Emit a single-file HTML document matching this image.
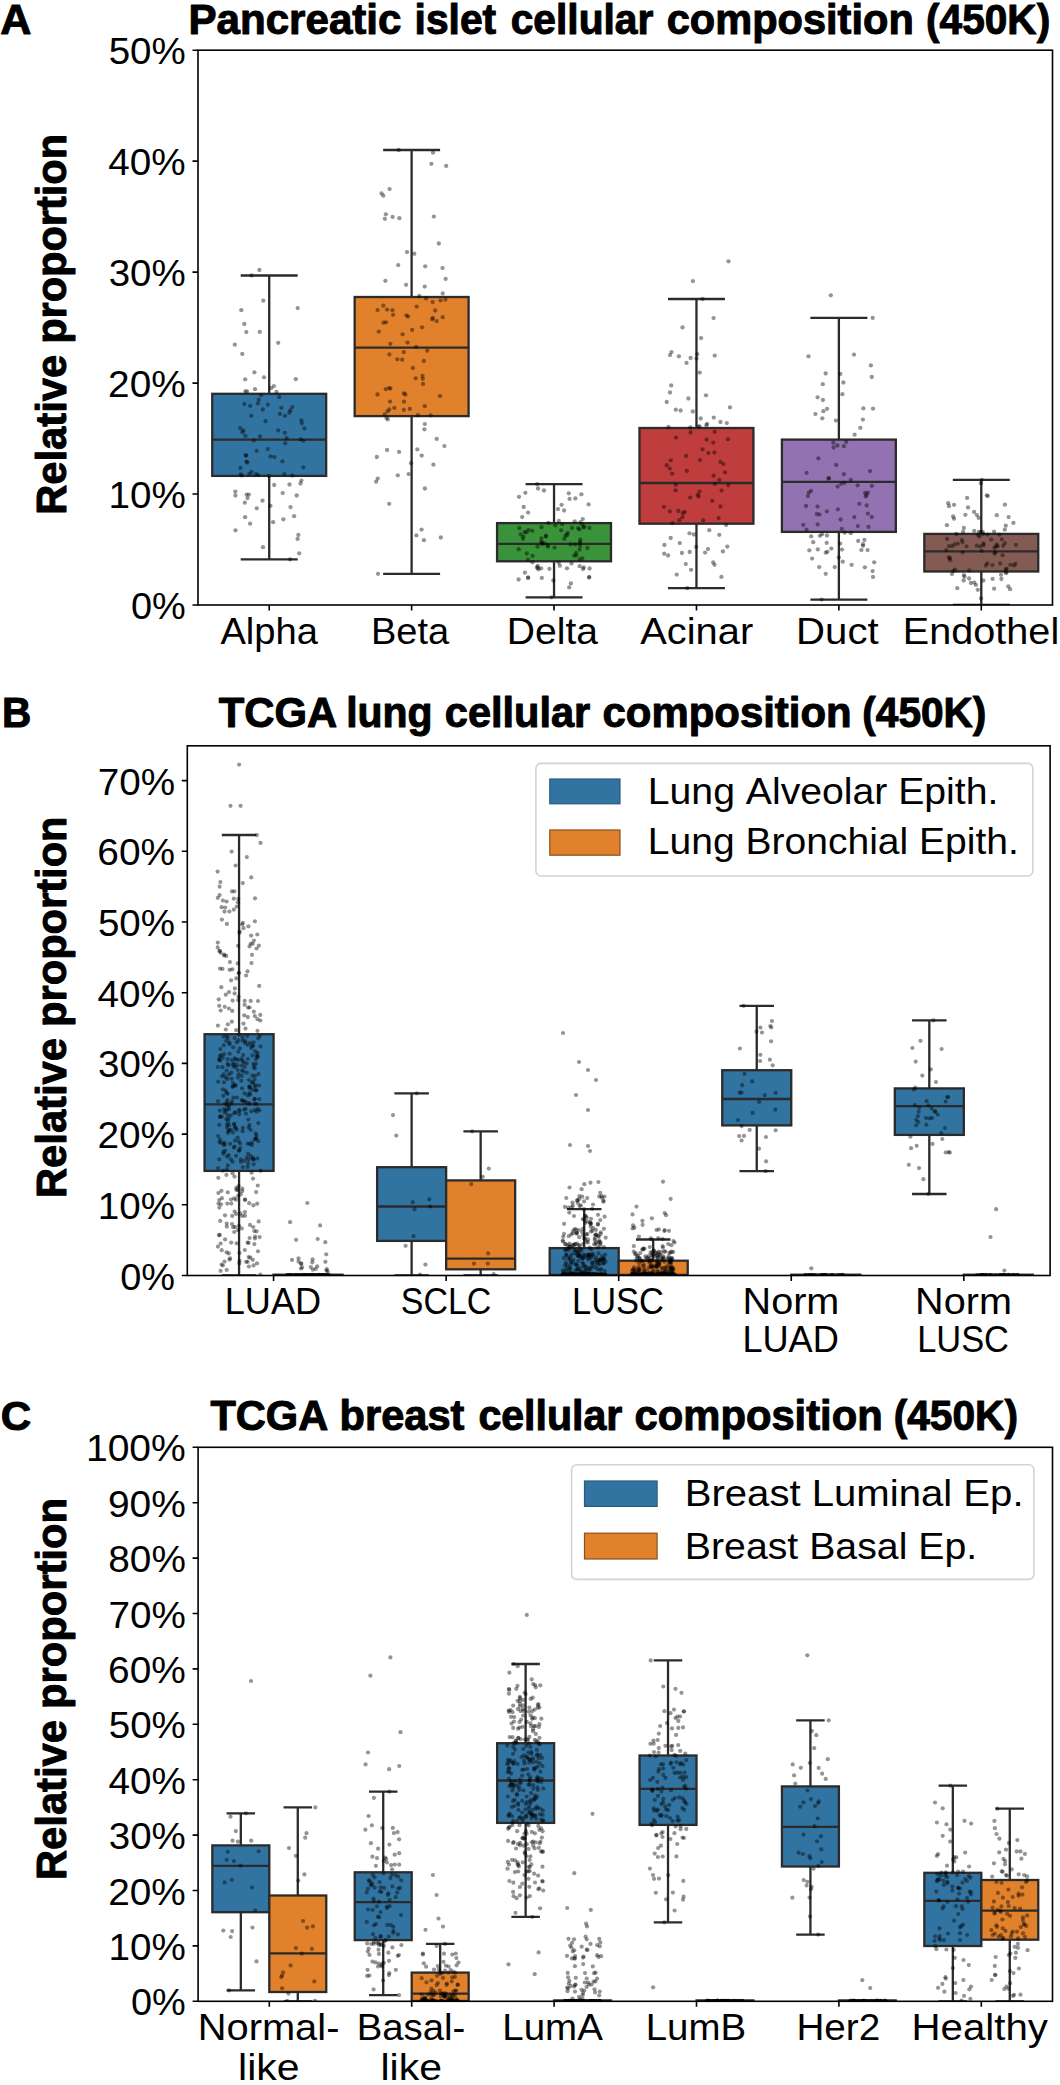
<!DOCTYPE html><html><head><meta charset="utf-8"><style>html,body{margin:0;padding:0;background:#fff;}svg{display:block;}</style></head><body><svg width="1060" height="2085" viewBox="0 0 1060 2085"><rect width="1060" height="2085" fill="#fff"/><clipPath id="cA"><rect x="198.0" y="50.2" width="854.5" height="554.8"/></clipPath>
<g id="panelA"><g clip-path="url(#cA)">
<path d="M269.21,475.90V559.40M269.21,393.80V275.50M240.72,559.40H297.69M240.72,275.50H297.69" stroke="#2b2b2b" stroke-width="2.3" fill="none"/>
<rect x="212.24" y="393.80" width="113.93" height="82.10" fill="#3274a1" stroke="#2b2b2b" stroke-width="2.3"/>
<path d="M212.24,439.60H326.17" stroke="#2b2b2b" stroke-width="2.3"/>
<path d="M411.62,416.10V573.80M411.62,297.00V150.00M383.14,573.80H440.11M383.14,150.00H440.11" stroke="#2b2b2b" stroke-width="2.3" fill="none"/>
<rect x="354.66" y="297.00" width="113.93" height="119.10" fill="#e1812c" stroke="#2b2b2b" stroke-width="2.3"/>
<path d="M354.66,347.60H468.59" stroke="#2b2b2b" stroke-width="2.3"/>
<path d="M554.04,561.30V597.30M554.04,523.10V484.10M525.56,597.30H582.52M525.56,484.10H582.52" stroke="#2b2b2b" stroke-width="2.3" fill="none"/>
<rect x="497.07" y="523.10" width="113.93" height="38.20" fill="#3a923a" stroke="#2b2b2b" stroke-width="2.3"/>
<path d="M497.07,543.80H611.01" stroke="#2b2b2b" stroke-width="2.3"/>
<path d="M696.46,523.70V588.20M696.46,428.00V299.00M667.97,588.20H724.94M667.97,299.00H724.94" stroke="#2b2b2b" stroke-width="2.3" fill="none"/>
<rect x="639.49" y="428.00" width="113.93" height="95.70" fill="#c03d3e" stroke="#2b2b2b" stroke-width="2.3"/>
<path d="M639.49,483.00H753.42" stroke="#2b2b2b" stroke-width="2.3"/>
<path d="M838.88,531.90V599.60M838.88,439.60V317.90M810.39,599.60H867.36M810.39,317.90H867.36" stroke="#2b2b2b" stroke-width="2.3" fill="none"/>
<rect x="781.91" y="439.60" width="113.93" height="92.30" fill="#9372b2" stroke="#2b2b2b" stroke-width="2.3"/>
<path d="M781.91,481.80H895.84" stroke="#2b2b2b" stroke-width="2.3"/>
<path d="M981.29,571.50V605.00M981.29,533.90V479.80M952.81,605.00H1009.77M952.81,479.80H1009.77" stroke="#2b2b2b" stroke-width="2.3" fill="none"/>
<rect x="924.32" y="533.90" width="113.93" height="37.60" fill="#845b53" stroke="#2b2b2b" stroke-width="2.3"/>
<path d="M924.32,551.40H1038.26" stroke="#2b2b2b" stroke-width="2.3"/>
<g fill="#000" fill-opacity="0.42">
<circle cx="292.4" cy="475.5" r="2.15"/>
<circle cx="247.4" cy="462.5" r="2.15"/>
<circle cx="242.5" cy="432.2" r="2.15"/>
<circle cx="246.0" cy="455.5" r="2.15"/>
<circle cx="301.8" cy="423.3" r="2.15"/>
<circle cx="263.0" cy="547.2" r="2.15"/>
<circle cx="284.8" cy="432.8" r="2.15"/>
<circle cx="235.3" cy="491.6" r="2.15"/>
<circle cx="303.3" cy="440.8" r="2.15"/>
<circle cx="300.6" cy="439.4" r="2.15"/>
<circle cx="246.3" cy="332.1" r="2.15"/>
<circle cx="296.7" cy="495.5" r="2.15"/>
<circle cx="250.2" cy="405.9" r="2.15"/>
<circle cx="292.3" cy="407.1" r="2.15"/>
<circle cx="295.8" cy="379.2" r="2.15"/>
<circle cx="273.1" cy="522.2" r="2.15"/>
<circle cx="270.5" cy="505.8" r="2.15"/>
<circle cx="245.3" cy="391.3" r="2.15"/>
<circle cx="244.3" cy="324.0" r="2.15"/>
<circle cx="244.8" cy="502.7" r="2.15"/>
<circle cx="284.3" cy="474.1" r="2.15"/>
<circle cx="299.2" cy="553.3" r="2.15"/>
<circle cx="259.8" cy="331.9" r="2.15"/>
<circle cx="267.8" cy="404.7" r="2.15"/>
<circle cx="256.8" cy="508.3" r="2.15"/>
<circle cx="301.4" cy="420.3" r="2.15"/>
<circle cx="283.3" cy="519.3" r="2.15"/>
<circle cx="245.4" cy="435.9" r="2.15"/>
<circle cx="245.2" cy="379.3" r="2.15"/>
<circle cx="270.6" cy="456.4" r="2.15"/>
<circle cx="268.9" cy="476.0" r="2.15"/>
<circle cx="290.5" cy="507.1" r="2.15"/>
<circle cx="262.5" cy="500.7" r="2.15"/>
<circle cx="263.3" cy="300.7" r="2.15"/>
<circle cx="235.5" cy="530.3" r="2.15"/>
<circle cx="246.3" cy="461.6" r="2.15"/>
<circle cx="251.3" cy="415.9" r="2.15"/>
<circle cx="256.7" cy="450.8" r="2.15"/>
<circle cx="247.5" cy="498.1" r="2.15"/>
<circle cx="243.2" cy="430.4" r="2.15"/>
<circle cx="254.4" cy="372.3" r="2.15"/>
<circle cx="281.4" cy="407.8" r="2.15"/>
<circle cx="264.0" cy="377.3" r="2.15"/>
<circle cx="274.5" cy="457.1" r="2.15"/>
<circle cx="260.0" cy="436.5" r="2.15"/>
<circle cx="286.7" cy="438.0" r="2.15"/>
<circle cx="265.6" cy="421.2" r="2.15"/>
<circle cx="267.8" cy="449.1" r="2.15"/>
<circle cx="258.2" cy="474.8" r="2.15"/>
<circle cx="278.2" cy="342.8" r="2.15"/>
<circle cx="276.5" cy="392.0" r="2.15"/>
<circle cx="246.6" cy="494.6" r="2.15"/>
<circle cx="285.3" cy="443.2" r="2.15"/>
<circle cx="255.0" cy="389.2" r="2.15"/>
<circle cx="247.1" cy="391.4" r="2.15"/>
<circle cx="250.1" cy="523.7" r="2.15"/>
<circle cx="241.7" cy="475.4" r="2.15"/>
<circle cx="257.9" cy="403.4" r="2.15"/>
<circle cx="240.7" cy="474.4" r="2.15"/>
<circle cx="274.2" cy="485.0" r="2.15"/>
<circle cx="253.8" cy="440.4" r="2.15"/>
<circle cx="271.2" cy="388.2" r="2.15"/>
<circle cx="262.8" cy="409.5" r="2.15"/>
<circle cx="244.4" cy="404.0" r="2.15"/>
<circle cx="289.3" cy="412.7" r="2.15"/>
<circle cx="235.4" cy="495.5" r="2.15"/>
<circle cx="258.8" cy="399.8" r="2.15"/>
<circle cx="234.8" cy="344.7" r="2.15"/>
<circle cx="255.9" cy="474.2" r="2.15"/>
<circle cx="273.9" cy="386.1" r="2.15"/>
<circle cx="301.4" cy="480.6" r="2.15"/>
<circle cx="300.5" cy="483.5" r="2.15"/>
<circle cx="240.5" cy="468.0" r="2.15"/>
<circle cx="249.3" cy="473.8" r="2.15"/>
<circle cx="245.1" cy="517.2" r="2.15"/>
<circle cx="304.4" cy="428.5" r="2.15"/>
<circle cx="297.7" cy="308.1" r="2.15"/>
<circle cx="279.2" cy="397.0" r="2.15"/>
<circle cx="294.1" cy="516.2" r="2.15"/>
<circle cx="289.5" cy="484.5" r="2.15"/>
<circle cx="242.3" cy="353.9" r="2.15"/>
<circle cx="303.4" cy="467.3" r="2.15"/>
<circle cx="282.7" cy="493.1" r="2.15"/>
<circle cx="279.9" cy="413.9" r="2.15"/>
<circle cx="241.3" cy="310.2" r="2.15"/>
<circle cx="298.4" cy="534.9" r="2.15"/>
<circle cx="282.4" cy="461.4" r="2.15"/>
<circle cx="251.4" cy="471.9" r="2.15"/>
<circle cx="245.8" cy="455.3" r="2.15"/>
<circle cx="261.0" cy="395.2" r="2.15"/>
<circle cx="290.4" cy="410.5" r="2.15"/>
<circle cx="284.9" cy="415.9" r="2.15"/>
<circle cx="297.6" cy="538.9" r="2.15"/>
<circle cx="278.2" cy="430.4" r="2.15"/>
<circle cx="248.9" cy="494.6" r="2.15"/>
<circle cx="240.2" cy="428.1" r="2.15"/>
<circle cx="290.1" cy="559.4" r="2.15"/>
<circle cx="251.5" cy="275.5" r="2.15"/>
<circle cx="259.4" cy="270.0" r="2.15"/>
<circle cx="416.1" cy="346.8" r="2.15"/>
<circle cx="399.4" cy="218.2" r="2.15"/>
<circle cx="397.8" cy="475.3" r="2.15"/>
<circle cx="404.0" cy="401.7" r="2.15"/>
<circle cx="422.1" cy="327.3" r="2.15"/>
<circle cx="416.7" cy="306.6" r="2.15"/>
<circle cx="414.3" cy="253.7" r="2.15"/>
<circle cx="426.0" cy="298.5" r="2.15"/>
<circle cx="406.1" cy="284.8" r="2.15"/>
<circle cx="435.1" cy="310.5" r="2.15"/>
<circle cx="405.4" cy="394.5" r="2.15"/>
<circle cx="403.8" cy="409.8" r="2.15"/>
<circle cx="392.4" cy="310.2" r="2.15"/>
<circle cx="387.1" cy="309.6" r="2.15"/>
<circle cx="424.4" cy="429.3" r="2.15"/>
<circle cx="398.2" cy="265.1" r="2.15"/>
<circle cx="378.8" cy="331.6" r="2.15"/>
<circle cx="408.6" cy="474.1" r="2.15"/>
<circle cx="385.8" cy="389.2" r="2.15"/>
<circle cx="425.2" cy="266.3" r="2.15"/>
<circle cx="432.7" cy="302.1" r="2.15"/>
<circle cx="376.8" cy="457.0" r="2.15"/>
<circle cx="445.6" cy="278.9" r="2.15"/>
<circle cx="411.0" cy="463.2" r="2.15"/>
<circle cx="438.8" cy="243.5" r="2.15"/>
<circle cx="389.2" cy="409.4" r="2.15"/>
<circle cx="424.9" cy="488.5" r="2.15"/>
<circle cx="384.9" cy="218.8" r="2.15"/>
<circle cx="376.1" cy="481.7" r="2.15"/>
<circle cx="422.5" cy="375.8" r="2.15"/>
<circle cx="445.4" cy="299.6" r="2.15"/>
<circle cx="377.5" cy="394.5" r="2.15"/>
<circle cx="421.7" cy="455.6" r="2.15"/>
<circle cx="424.8" cy="424.1" r="2.15"/>
<circle cx="386.1" cy="322.3" r="2.15"/>
<circle cx="436.7" cy="438.9" r="2.15"/>
<circle cx="442.7" cy="293.5" r="2.15"/>
<circle cx="392.6" cy="216.9" r="2.15"/>
<circle cx="385.9" cy="214.3" r="2.15"/>
<circle cx="417.3" cy="449.4" r="2.15"/>
<circle cx="423.9" cy="540.2" r="2.15"/>
<circle cx="383.5" cy="322.7" r="2.15"/>
<circle cx="377.6" cy="310.1" r="2.15"/>
<circle cx="442.5" cy="268.1" r="2.15"/>
<circle cx="390.0" cy="401.6" r="2.15"/>
<circle cx="387.6" cy="411.3" r="2.15"/>
<circle cx="415.7" cy="378.3" r="2.15"/>
<circle cx="386.5" cy="418.1" r="2.15"/>
<circle cx="424.7" cy="286.6" r="2.15"/>
<circle cx="442.7" cy="317.2" r="2.15"/>
<circle cx="412.9" cy="368.0" r="2.15"/>
<circle cx="390.4" cy="388.6" r="2.15"/>
<circle cx="421.6" cy="529.6" r="2.15"/>
<circle cx="389.2" cy="503.8" r="2.15"/>
<circle cx="432.8" cy="317.9" r="2.15"/>
<circle cx="427.2" cy="350.7" r="2.15"/>
<circle cx="394.4" cy="407.8" r="2.15"/>
<circle cx="433.4" cy="464.7" r="2.15"/>
<circle cx="406.4" cy="315.4" r="2.15"/>
<circle cx="423.8" cy="361.0" r="2.15"/>
<circle cx="432.3" cy="319.4" r="2.15"/>
<circle cx="402.6" cy="334.3" r="2.15"/>
<circle cx="440.0" cy="396.1" r="2.15"/>
<circle cx="408.1" cy="316.6" r="2.15"/>
<circle cx="409.8" cy="408.9" r="2.15"/>
<circle cx="412.1" cy="329.9" r="2.15"/>
<circle cx="381.5" cy="193.4" r="2.15"/>
<circle cx="433.9" cy="216.6" r="2.15"/>
<circle cx="385.4" cy="280.8" r="2.15"/>
<circle cx="383.3" cy="305.7" r="2.15"/>
<circle cx="440.8" cy="537.5" r="2.15"/>
<circle cx="397.3" cy="359.3" r="2.15"/>
<circle cx="419.3" cy="296.0" r="2.15"/>
<circle cx="377.8" cy="478.6" r="2.15"/>
<circle cx="407.6" cy="342.6" r="2.15"/>
<circle cx="387.1" cy="450.0" r="2.15"/>
<circle cx="423.0" cy="383.9" r="2.15"/>
<circle cx="436.7" cy="321.1" r="2.15"/>
<circle cx="424.8" cy="406.2" r="2.15"/>
<circle cx="403.8" cy="352.1" r="2.15"/>
<circle cx="444.4" cy="446.1" r="2.15"/>
<circle cx="402.2" cy="359.7" r="2.15"/>
<circle cx="390.4" cy="343.8" r="2.15"/>
<circle cx="399.1" cy="451.9" r="2.15"/>
<circle cx="393.1" cy="314.8" r="2.15"/>
<circle cx="384.7" cy="414.4" r="2.15"/>
<circle cx="389.4" cy="354.5" r="2.15"/>
<circle cx="417.9" cy="415.2" r="2.15"/>
<circle cx="403.8" cy="393.4" r="2.15"/>
<circle cx="389.2" cy="388.1" r="2.15"/>
<circle cx="440.6" cy="300.4" r="2.15"/>
<circle cx="430.8" cy="415.3" r="2.15"/>
<circle cx="422.7" cy="378.8" r="2.15"/>
<circle cx="407.0" cy="252.1" r="2.15"/>
<circle cx="387.8" cy="419.4" r="2.15"/>
<circle cx="416.4" cy="535.4" r="2.15"/>
<circle cx="378.0" cy="573.8" r="2.15"/>
<circle cx="398.7" cy="150.0" r="2.15"/>
<circle cx="433.0" cy="152.7" r="2.15"/>
<circle cx="431.4" cy="163.8" r="2.15"/>
<circle cx="446.2" cy="165.9" r="2.15"/>
<circle cx="389.6" cy="189.1" r="2.15"/>
<circle cx="383.3" cy="195.7" r="2.15"/>
<circle cx="547.9" cy="546.7" r="2.15"/>
<circle cx="541.4" cy="538.3" r="2.15"/>
<circle cx="553.3" cy="580.5" r="2.15"/>
<circle cx="524.8" cy="532.0" r="2.15"/>
<circle cx="574.2" cy="555.7" r="2.15"/>
<circle cx="575.2" cy="544.4" r="2.15"/>
<circle cx="567.7" cy="532.8" r="2.15"/>
<circle cx="579.6" cy="559.5" r="2.15"/>
<circle cx="570.6" cy="544.5" r="2.15"/>
<circle cx="567.3" cy="535.0" r="2.15"/>
<circle cx="541.2" cy="568.3" r="2.15"/>
<circle cx="525.4" cy="492.8" r="2.15"/>
<circle cx="567.0" cy="568.3" r="2.15"/>
<circle cx="587.4" cy="548.0" r="2.15"/>
<circle cx="528.6" cy="530.0" r="2.15"/>
<circle cx="532.3" cy="530.8" r="2.15"/>
<circle cx="589.2" cy="576.9" r="2.15"/>
<circle cx="580.4" cy="539.6" r="2.15"/>
<circle cx="576.4" cy="555.3" r="2.15"/>
<circle cx="581.4" cy="494.3" r="2.15"/>
<circle cx="559.9" cy="565.7" r="2.15"/>
<circle cx="570.9" cy="583.4" r="2.15"/>
<circle cx="568.8" cy="493.3" r="2.15"/>
<circle cx="528.1" cy="512.6" r="2.15"/>
<circle cx="562.2" cy="524.2" r="2.15"/>
<circle cx="528.0" cy="559.6" r="2.15"/>
<circle cx="541.8" cy="577.9" r="2.15"/>
<circle cx="542.1" cy="544.2" r="2.15"/>
<circle cx="545.9" cy="536.6" r="2.15"/>
<circle cx="526.8" cy="553.5" r="2.15"/>
<circle cx="526.4" cy="532.3" r="2.15"/>
<circle cx="538.0" cy="488.5" r="2.15"/>
<circle cx="554.5" cy="547.6" r="2.15"/>
<circle cx="572.0" cy="528.0" r="2.15"/>
<circle cx="576.1" cy="552.8" r="2.15"/>
<circle cx="575.4" cy="498.4" r="2.15"/>
<circle cx="544.5" cy="543.3" r="2.15"/>
<circle cx="522.9" cy="538.8" r="2.15"/>
<circle cx="589.4" cy="527.9" r="2.15"/>
<circle cx="520.7" cy="534.5" r="2.15"/>
<circle cx="555.3" cy="525.3" r="2.15"/>
<circle cx="541.3" cy="541.9" r="2.15"/>
<circle cx="541.5" cy="527.2" r="2.15"/>
<circle cx="558.0" cy="509.1" r="2.15"/>
<circle cx="528.2" cy="577.4" r="2.15"/>
<circle cx="580.2" cy="545.8" r="2.15"/>
<circle cx="582.8" cy="519.1" r="2.15"/>
<circle cx="582.3" cy="558.4" r="2.15"/>
<circle cx="544.0" cy="490.5" r="2.15"/>
<circle cx="569.2" cy="587.4" r="2.15"/>
<circle cx="588.6" cy="504.4" r="2.15"/>
<circle cx="584.2" cy="526.8" r="2.15"/>
<circle cx="547.9" cy="545.2" r="2.15"/>
<circle cx="564.1" cy="510.5" r="2.15"/>
<circle cx="538.0" cy="568.0" r="2.15"/>
<circle cx="536.8" cy="567.5" r="2.15"/>
<circle cx="579.7" cy="566.2" r="2.15"/>
<circle cx="589.1" cy="577.6" r="2.15"/>
<circle cx="528.0" cy="577.9" r="2.15"/>
<circle cx="583.8" cy="567.4" r="2.15"/>
<circle cx="574.7" cy="521.3" r="2.15"/>
<circle cx="589.6" cy="568.5" r="2.15"/>
<circle cx="558.8" cy="520.9" r="2.15"/>
<circle cx="579.6" cy="549.5" r="2.15"/>
<circle cx="582.3" cy="524.5" r="2.15"/>
<circle cx="532.5" cy="562.3" r="2.15"/>
<circle cx="579.3" cy="529.4" r="2.15"/>
<circle cx="561.2" cy="530.3" r="2.15"/>
<circle cx="565.6" cy="535.5" r="2.15"/>
<circle cx="569.6" cy="498.9" r="2.15"/>
<circle cx="541.8" cy="542.3" r="2.15"/>
<circle cx="532.6" cy="555.9" r="2.15"/>
<circle cx="537.5" cy="546.7" r="2.15"/>
<circle cx="548.5" cy="523.0" r="2.15"/>
<circle cx="519.3" cy="528.2" r="2.15"/>
<circle cx="558.7" cy="562.6" r="2.15"/>
<circle cx="538.5" cy="569.3" r="2.15"/>
<circle cx="549.4" cy="568.8" r="2.15"/>
<circle cx="523.3" cy="536.7" r="2.15"/>
<circle cx="518.7" cy="549.2" r="2.15"/>
<circle cx="580.0" cy="543.4" r="2.15"/>
<circle cx="524.9" cy="572.7" r="2.15"/>
<circle cx="583.6" cy="527.4" r="2.15"/>
<circle cx="519.0" cy="496.8" r="2.15"/>
<circle cx="580.4" cy="522.1" r="2.15"/>
<circle cx="561.6" cy="504.8" r="2.15"/>
<circle cx="579.9" cy="542.0" r="2.15"/>
<circle cx="537.7" cy="565.9" r="2.15"/>
<circle cx="545.9" cy="535.7" r="2.15"/>
<circle cx="578.2" cy="528.2" r="2.15"/>
<circle cx="522.2" cy="517.1" r="2.15"/>
<circle cx="571.5" cy="563.4" r="2.15"/>
<circle cx="518.6" cy="579.5" r="2.15"/>
<circle cx="564.4" cy="538.7" r="2.15"/>
<circle cx="523.7" cy="507.0" r="2.15"/>
<circle cx="583.0" cy="569.0" r="2.15"/>
<circle cx="551.5" cy="597.3" r="2.15"/>
<circle cx="537.2" cy="484.1" r="2.15"/>
<circle cx="675.6" cy="490.3" r="2.15"/>
<circle cx="691.1" cy="569.8" r="2.15"/>
<circle cx="678.3" cy="511.0" r="2.15"/>
<circle cx="678.9" cy="356.3" r="2.15"/>
<circle cx="690.6" cy="432.5" r="2.15"/>
<circle cx="720.5" cy="422.0" r="2.15"/>
<circle cx="680.6" cy="410.5" r="2.15"/>
<circle cx="718.6" cy="518.1" r="2.15"/>
<circle cx="706.6" cy="439.7" r="2.15"/>
<circle cx="679.3" cy="520.2" r="2.15"/>
<circle cx="698.8" cy="426.7" r="2.15"/>
<circle cx="684.7" cy="512.0" r="2.15"/>
<circle cx="672.2" cy="473.7" r="2.15"/>
<circle cx="686.5" cy="362.9" r="2.15"/>
<circle cx="727.3" cy="546.6" r="2.15"/>
<circle cx="706.0" cy="395.3" r="2.15"/>
<circle cx="697.7" cy="494.8" r="2.15"/>
<circle cx="722.9" cy="551.4" r="2.15"/>
<circle cx="682.5" cy="517.2" r="2.15"/>
<circle cx="713.2" cy="562.4" r="2.15"/>
<circle cx="669.8" cy="511.4" r="2.15"/>
<circle cx="714.8" cy="484.0" r="2.15"/>
<circle cx="726.8" cy="423.1" r="2.15"/>
<circle cx="670.0" cy="355.1" r="2.15"/>
<circle cx="713.6" cy="318.1" r="2.15"/>
<circle cx="723.4" cy="464.1" r="2.15"/>
<circle cx="666.7" cy="465.2" r="2.15"/>
<circle cx="681.9" cy="553.0" r="2.15"/>
<circle cx="693.8" cy="534.5" r="2.15"/>
<circle cx="670.0" cy="392.5" r="2.15"/>
<circle cx="699.7" cy="372.6" r="2.15"/>
<circle cx="688.4" cy="398.5" r="2.15"/>
<circle cx="705.1" cy="552.6" r="2.15"/>
<circle cx="690.3" cy="427.5" r="2.15"/>
<circle cx="663.9" cy="506.8" r="2.15"/>
<circle cx="706.4" cy="425.2" r="2.15"/>
<circle cx="720.5" cy="506.4" r="2.15"/>
<circle cx="679.8" cy="543.1" r="2.15"/>
<circle cx="708.4" cy="453.1" r="2.15"/>
<circle cx="708.0" cy="549.1" r="2.15"/>
<circle cx="721.4" cy="576.9" r="2.15"/>
<circle cx="696.5" cy="358.6" r="2.15"/>
<circle cx="713.8" cy="417.6" r="2.15"/>
<circle cx="707.1" cy="423.9" r="2.15"/>
<circle cx="700.7" cy="418.5" r="2.15"/>
<circle cx="675.8" cy="409.7" r="2.15"/>
<circle cx="727.9" cy="439.3" r="2.15"/>
<circle cx="719.3" cy="480.0" r="2.15"/>
<circle cx="712.2" cy="500.8" r="2.15"/>
<circle cx="671.2" cy="385.4" r="2.15"/>
<circle cx="714.4" cy="452.5" r="2.15"/>
<circle cx="664.4" cy="545.0" r="2.15"/>
<circle cx="699.4" cy="426.5" r="2.15"/>
<circle cx="689.5" cy="533.3" r="2.15"/>
<circle cx="682.8" cy="513.1" r="2.15"/>
<circle cx="675.8" cy="484.8" r="2.15"/>
<circle cx="726.1" cy="525.1" r="2.15"/>
<circle cx="671.5" cy="352.1" r="2.15"/>
<circle cx="698.7" cy="496.4" r="2.15"/>
<circle cx="725.1" cy="472.3" r="2.15"/>
<circle cx="702.6" cy="449.3" r="2.15"/>
<circle cx="672.5" cy="523.2" r="2.15"/>
<circle cx="703.2" cy="520.4" r="2.15"/>
<circle cx="689.7" cy="552.0" r="2.15"/>
<circle cx="669.7" cy="468.6" r="2.15"/>
<circle cx="675.9" cy="437.6" r="2.15"/>
<circle cx="714.5" cy="564.8" r="2.15"/>
<circle cx="690.6" cy="358.0" r="2.15"/>
<circle cx="714.7" cy="355.6" r="2.15"/>
<circle cx="701.1" cy="338.1" r="2.15"/>
<circle cx="696.2" cy="546.9" r="2.15"/>
<circle cx="719.3" cy="534.8" r="2.15"/>
<circle cx="714.7" cy="431.8" r="2.15"/>
<circle cx="664.2" cy="553.7" r="2.15"/>
<circle cx="730.0" cy="407.4" r="2.15"/>
<circle cx="668.1" cy="555.5" r="2.15"/>
<circle cx="697.3" cy="354.1" r="2.15"/>
<circle cx="686.8" cy="470.9" r="2.15"/>
<circle cx="670.7" cy="538.0" r="2.15"/>
<circle cx="686.2" cy="455.9" r="2.15"/>
<circle cx="728.3" cy="485.0" r="2.15"/>
<circle cx="666.7" cy="402.0" r="2.15"/>
<circle cx="685.8" cy="564.1" r="2.15"/>
<circle cx="676.7" cy="574.6" r="2.15"/>
<circle cx="670.7" cy="460.3" r="2.15"/>
<circle cx="699.5" cy="491.6" r="2.15"/>
<circle cx="668.5" cy="427.0" r="2.15"/>
<circle cx="690.2" cy="497.6" r="2.15"/>
<circle cx="721.6" cy="490.6" r="2.15"/>
<circle cx="713.6" cy="475.7" r="2.15"/>
<circle cx="713.2" cy="442.6" r="2.15"/>
<circle cx="720.5" cy="461.9" r="2.15"/>
<circle cx="682.5" cy="327.4" r="2.15"/>
<circle cx="709.3" cy="530.2" r="2.15"/>
<circle cx="692.8" cy="411.5" r="2.15"/>
<circle cx="699.9" cy="460.1" r="2.15"/>
<circle cx="687.3" cy="588.2" r="2.15"/>
<circle cx="702.6" cy="299.0" r="2.15"/>
<circle cx="728.5" cy="261.3" r="2.15"/>
<circle cx="692.9" cy="281.1" r="2.15"/>
<circle cx="871.8" cy="377.0" r="2.15"/>
<circle cx="817.7" cy="524.4" r="2.15"/>
<circle cx="819.2" cy="567.1" r="2.15"/>
<circle cx="833.3" cy="442.7" r="2.15"/>
<circle cx="873.0" cy="576.9" r="2.15"/>
<circle cx="872.6" cy="571.1" r="2.15"/>
<circle cx="816.9" cy="514.0" r="2.15"/>
<circle cx="834.7" cy="567.1" r="2.15"/>
<circle cx="867.9" cy="513.6" r="2.15"/>
<circle cx="822.3" cy="418.3" r="2.15"/>
<circle cx="868.0" cy="492.6" r="2.15"/>
<circle cx="827.0" cy="535.5" r="2.15"/>
<circle cx="870.9" cy="365.4" r="2.15"/>
<circle cx="806.5" cy="529.7" r="2.15"/>
<circle cx="815.4" cy="414.1" r="2.15"/>
<circle cx="868.5" cy="526.9" r="2.15"/>
<circle cx="817.5" cy="506.6" r="2.15"/>
<circle cx="870.1" cy="471.1" r="2.15"/>
<circle cx="843.4" cy="382.5" r="2.15"/>
<circle cx="829.0" cy="478.2" r="2.15"/>
<circle cx="825.7" cy="373.5" r="2.15"/>
<circle cx="803.3" cy="524.9" r="2.15"/>
<circle cx="860.3" cy="427.8" r="2.15"/>
<circle cx="842.0" cy="549.6" r="2.15"/>
<circle cx="813.2" cy="542.2" r="2.15"/>
<circle cx="863.0" cy="545.8" r="2.15"/>
<circle cx="831.3" cy="548.6" r="2.15"/>
<circle cx="806.6" cy="472.8" r="2.15"/>
<circle cx="844.6" cy="482.8" r="2.15"/>
<circle cx="854.3" cy="517.1" r="2.15"/>
<circle cx="838.8" cy="557.5" r="2.15"/>
<circle cx="827.4" cy="551.8" r="2.15"/>
<circle cx="817.8" cy="549.4" r="2.15"/>
<circle cx="842.7" cy="561.7" r="2.15"/>
<circle cx="865.7" cy="496.6" r="2.15"/>
<circle cx="866.7" cy="505.5" r="2.15"/>
<circle cx="837.9" cy="509.3" r="2.15"/>
<circle cx="859.3" cy="503.8" r="2.15"/>
<circle cx="823.4" cy="411.2" r="2.15"/>
<circle cx="822.8" cy="384.2" r="2.15"/>
<circle cx="840.6" cy="519.5" r="2.15"/>
<circle cx="822.1" cy="534.3" r="2.15"/>
<circle cx="826.7" cy="542.9" r="2.15"/>
<circle cx="857.7" cy="485.3" r="2.15"/>
<circle cx="837.6" cy="486.6" r="2.15"/>
<circle cx="809.3" cy="550.3" r="2.15"/>
<circle cx="841.1" cy="483.8" r="2.15"/>
<circle cx="827.0" cy="408.8" r="2.15"/>
<circle cx="858.2" cy="540.9" r="2.15"/>
<circle cx="837.4" cy="445.5" r="2.15"/>
<circle cx="808.5" cy="356.3" r="2.15"/>
<circle cx="828.4" cy="478.6" r="2.15"/>
<circle cx="812.1" cy="558.6" r="2.15"/>
<circle cx="851.6" cy="564.8" r="2.15"/>
<circle cx="854.0" cy="354.6" r="2.15"/>
<circle cx="835.9" cy="420.6" r="2.15"/>
<circle cx="836.2" cy="465.0" r="2.15"/>
<circle cx="806.0" cy="506.0" r="2.15"/>
<circle cx="864.9" cy="567.3" r="2.15"/>
<circle cx="819.9" cy="535.8" r="2.15"/>
<circle cx="873.0" cy="408.7" r="2.15"/>
<circle cx="857.8" cy="526.1" r="2.15"/>
<circle cx="874.2" cy="562.3" r="2.15"/>
<circle cx="833.6" cy="447.5" r="2.15"/>
<circle cx="864.4" cy="540.0" r="2.15"/>
<circle cx="817.6" cy="397.3" r="2.15"/>
<circle cx="811.0" cy="490.9" r="2.15"/>
<circle cx="854.6" cy="434.7" r="2.15"/>
<circle cx="825.7" cy="573.8" r="2.15"/>
<circle cx="850.8" cy="480.0" r="2.15"/>
<circle cx="862.9" cy="419.6" r="2.15"/>
<circle cx="850.8" cy="533.2" r="2.15"/>
<circle cx="807.9" cy="496.1" r="2.15"/>
<circle cx="840.2" cy="543.6" r="2.15"/>
<circle cx="811.2" cy="536.3" r="2.15"/>
<circle cx="841.8" cy="528.8" r="2.15"/>
<circle cx="825.8" cy="552.7" r="2.15"/>
<circle cx="844.7" cy="532.7" r="2.15"/>
<circle cx="843.9" cy="474.2" r="2.15"/>
<circle cx="861.4" cy="550.1" r="2.15"/>
<circle cx="867.6" cy="550.1" r="2.15"/>
<circle cx="808.8" cy="492.7" r="2.15"/>
<circle cx="865.1" cy="493.0" r="2.15"/>
<circle cx="826.9" cy="511.3" r="2.15"/>
<circle cx="863.0" cy="544.2" r="2.15"/>
<circle cx="843.9" cy="446.2" r="2.15"/>
<circle cx="818.4" cy="458.4" r="2.15"/>
<circle cx="819.6" cy="514.6" r="2.15"/>
<circle cx="871.8" cy="485.8" r="2.15"/>
<circle cx="822.9" cy="400.0" r="2.15"/>
<circle cx="871.8" cy="517.0" r="2.15"/>
<circle cx="840.3" cy="374.0" r="2.15"/>
<circle cx="866.6" cy="495.0" r="2.15"/>
<circle cx="846.2" cy="441.8" r="2.15"/>
<circle cx="842.4" cy="394.2" r="2.15"/>
<circle cx="863.4" cy="408.4" r="2.15"/>
<circle cx="821.6" cy="599.6" r="2.15"/>
<circle cx="872.7" cy="317.9" r="2.15"/>
<circle cx="830.8" cy="295.3" r="2.15"/>
<circle cx="994.4" cy="548.0" r="2.15"/>
<circle cx="955.1" cy="569.6" r="2.15"/>
<circle cx="962.6" cy="552.4" r="2.15"/>
<circle cx="957.8" cy="543.7" r="2.15"/>
<circle cx="948.9" cy="546.1" r="2.15"/>
<circle cx="949.0" cy="506.2" r="2.15"/>
<circle cx="992.4" cy="565.1" r="2.15"/>
<circle cx="948.9" cy="557.4" r="2.15"/>
<circle cx="974.1" cy="512.0" r="2.15"/>
<circle cx="968.0" cy="507.4" r="2.15"/>
<circle cx="975.9" cy="584.9" r="2.15"/>
<circle cx="1004.8" cy="529.7" r="2.15"/>
<circle cx="963.9" cy="528.0" r="2.15"/>
<circle cx="980.3" cy="546.4" r="2.15"/>
<circle cx="954.5" cy="544.5" r="2.15"/>
<circle cx="1002.6" cy="555.2" r="2.15"/>
<circle cx="1008.3" cy="586.4" r="2.15"/>
<circle cx="987.6" cy="534.6" r="2.15"/>
<circle cx="987.3" cy="563.4" r="2.15"/>
<circle cx="956.3" cy="534.0" r="2.15"/>
<circle cx="994.6" cy="553.5" r="2.15"/>
<circle cx="950.2" cy="560.2" r="2.15"/>
<circle cx="1005.9" cy="572.2" r="2.15"/>
<circle cx="969.1" cy="578.5" r="2.15"/>
<circle cx="946.3" cy="550.1" r="2.15"/>
<circle cx="970.9" cy="583.0" r="2.15"/>
<circle cx="964.5" cy="576.7" r="2.15"/>
<circle cx="947.1" cy="538.9" r="2.15"/>
<circle cx="974.2" cy="530.9" r="2.15"/>
<circle cx="953.4" cy="570.9" r="2.15"/>
<circle cx="1001.9" cy="539.4" r="2.15"/>
<circle cx="967.1" cy="497.9" r="2.15"/>
<circle cx="961.9" cy="539.9" r="2.15"/>
<circle cx="987.8" cy="496.1" r="2.15"/>
<circle cx="1005.8" cy="525.7" r="2.15"/>
<circle cx="985.9" cy="565.4" r="2.15"/>
<circle cx="1004.9" cy="543.2" r="2.15"/>
<circle cx="1008.6" cy="517.1" r="2.15"/>
<circle cx="1015.5" cy="563.7" r="2.15"/>
<circle cx="1006.6" cy="568.8" r="2.15"/>
<circle cx="1003.2" cy="545.8" r="2.15"/>
<circle cx="983.4" cy="543.5" r="2.15"/>
<circle cx="953.1" cy="516.5" r="2.15"/>
<circle cx="1014.0" cy="565.4" r="2.15"/>
<circle cx="1000.2" cy="563.5" r="2.15"/>
<circle cx="994.1" cy="531.7" r="2.15"/>
<circle cx="965.4" cy="514.8" r="2.15"/>
<circle cx="980.6" cy="532.1" r="2.15"/>
<circle cx="974.3" cy="582.6" r="2.15"/>
<circle cx="978.8" cy="531.9" r="2.15"/>
<circle cx="1005.8" cy="569.3" r="2.15"/>
<circle cx="983.6" cy="545.2" r="2.15"/>
<circle cx="969.2" cy="570.3" r="2.15"/>
<circle cx="1006.2" cy="573.2" r="2.15"/>
<circle cx="946.9" cy="525.2" r="2.15"/>
<circle cx="963.1" cy="532.0" r="2.15"/>
<circle cx="976.9" cy="515.1" r="2.15"/>
<circle cx="986.8" cy="495.3" r="2.15"/>
<circle cx="982.7" cy="532.0" r="2.15"/>
<circle cx="979.6" cy="536.6" r="2.15"/>
<circle cx="997.7" cy="546.3" r="2.15"/>
<circle cx="983.3" cy="534.1" r="2.15"/>
<circle cx="977.8" cy="589.8" r="2.15"/>
<circle cx="981.0" cy="598.5" r="2.15"/>
<circle cx="963.8" cy="575.1" r="2.15"/>
<circle cx="948.2" cy="503.2" r="2.15"/>
<circle cx="976.8" cy="545.7" r="2.15"/>
<circle cx="966.5" cy="546.3" r="2.15"/>
<circle cx="1004.9" cy="504.7" r="2.15"/>
<circle cx="999.4" cy="534.6" r="2.15"/>
<circle cx="995.9" cy="546.3" r="2.15"/>
<circle cx="996.8" cy="515.2" r="2.15"/>
<circle cx="983.4" cy="580.5" r="2.15"/>
<circle cx="962.5" cy="542.3" r="2.15"/>
<circle cx="954.1" cy="518.7" r="2.15"/>
<circle cx="1013.4" cy="522.9" r="2.15"/>
<circle cx="994.1" cy="588.7" r="2.15"/>
<circle cx="981.6" cy="550.8" r="2.15"/>
<circle cx="952.0" cy="546.2" r="2.15"/>
<circle cx="1015.9" cy="545.0" r="2.15"/>
<circle cx="992.6" cy="578.9" r="2.15"/>
<circle cx="952.0" cy="574.1" r="2.15"/>
<circle cx="954.1" cy="504.8" r="2.15"/>
<circle cx="949.8" cy="558.2" r="2.15"/>
<circle cx="1001.0" cy="574.8" r="2.15"/>
<circle cx="957.3" cy="588.2" r="2.15"/>
<circle cx="991.2" cy="539.6" r="2.15"/>
<circle cx="963.7" cy="580.5" r="2.15"/>
<circle cx="1010.4" cy="564.8" r="2.15"/>
<circle cx="1001.4" cy="579.0" r="2.15"/>
<circle cx="1010.1" cy="589.2" r="2.15"/>
<circle cx="978.1" cy="535.2" r="2.15"/>
<circle cx="980.9" cy="483.2" r="2.15"/>
<circle cx="995.2" cy="552.4" r="2.15"/>
<circle cx="996.8" cy="544.5" r="2.15"/>
<circle cx="978.7" cy="517.9" r="2.15"/>
<circle cx="981.8" cy="479.8" r="2.15"/>
</g></g>
<path d="M192.50,605.00H198.00M192.50,494.04H198.00M192.50,383.08H198.00M192.50,272.12H198.00M192.50,161.16H198.00M192.50,50.20H198.00M269.21,605.00V610.50M411.62,605.00V610.50M554.04,605.00V610.50M696.46,605.00V610.50M838.88,605.00V610.50M981.29,605.00V610.50" stroke="#000" stroke-width="1.6" fill="none"/>
<rect x="198.00" y="50.20" width="854.50" height="554.80" fill="none" stroke="#000" stroke-width="1.6"/>
</g>
<clipPath id="cB"><rect x="187.3" y="745.8" width="862.8" height="529.7"/></clipPath>
<g id="panelB"><g clip-path="url(#cB)">
<path d="M239.07,1170.90V1275.50M239.07,1034.20V835.00M221.81,1275.50H256.32M221.81,835.00H256.32" stroke="#2b2b2b" stroke-width="2.3" fill="none"/>
<rect x="204.56" y="1034.20" width="69.02" height="136.70" fill="#3274a1" stroke="#2b2b2b" stroke-width="2.3"/>
<path d="M204.56,1104.30H273.58" stroke="#2b2b2b" stroke-width="2.3"/>
<path d="M308.09,1275.50V1275.50M308.09,1274.70V1274.70M290.84,1275.50H325.35M290.84,1274.70H325.35" stroke="#2b2b2b" stroke-width="2.3" fill="none"/>
<rect x="273.58" y="1274.70" width="69.02" height="0.80" fill="#e1812c" stroke="#2b2b2b" stroke-width="2.3"/>
<path d="M273.58,1275.10H342.60" stroke="#2b2b2b" stroke-width="2.3"/>
<path d="M411.63,1240.90V1275.50M411.63,1167.20V1093.30M394.37,1275.50H428.88M394.37,1093.30H428.88" stroke="#2b2b2b" stroke-width="2.3" fill="none"/>
<rect x="377.12" y="1167.20" width="69.02" height="73.70" fill="#3274a1" stroke="#2b2b2b" stroke-width="2.3"/>
<path d="M377.12,1206.50H446.14" stroke="#2b2b2b" stroke-width="2.3"/>
<path d="M480.65,1269.30V1275.50M480.65,1180.40V1131.30M463.40,1275.50H497.91M463.40,1131.30H497.91" stroke="#2b2b2b" stroke-width="2.3" fill="none"/>
<rect x="446.14" y="1180.40" width="69.02" height="88.90" fill="#e1812c" stroke="#2b2b2b" stroke-width="2.3"/>
<path d="M446.14,1258.70H515.16" stroke="#2b2b2b" stroke-width="2.3"/>
<path d="M584.19,1275.50V1275.50M584.19,1248.10V1209.20M566.93,1275.50H601.44M566.93,1209.20H601.44" stroke="#2b2b2b" stroke-width="2.3" fill="none"/>
<rect x="549.68" y="1248.10" width="69.02" height="27.40" fill="#3274a1" stroke="#2b2b2b" stroke-width="2.3"/>
<path d="M549.68,1275.00H618.70" stroke="#2b2b2b" stroke-width="2.3"/>
<path d="M653.21,1275.50V1275.50M653.21,1260.70V1239.50M635.96,1275.50H670.47M635.96,1239.50H670.47" stroke="#2b2b2b" stroke-width="2.3" fill="none"/>
<rect x="618.70" y="1260.70" width="69.02" height="14.80" fill="#e1812c" stroke="#2b2b2b" stroke-width="2.3"/>
<path d="M618.70,1275.00H687.72" stroke="#2b2b2b" stroke-width="2.3"/>
<path d="M756.75,1125.40V1171.20M756.75,1070.20V1005.80M739.49,1171.20H774.00M739.49,1005.80H774.00" stroke="#2b2b2b" stroke-width="2.3" fill="none"/>
<rect x="722.24" y="1070.20" width="69.02" height="55.20" fill="#3274a1" stroke="#2b2b2b" stroke-width="2.3"/>
<path d="M722.24,1099.00H791.26" stroke="#2b2b2b" stroke-width="2.3"/>
<path d="M825.77,1275.50V1275.50M825.77,1274.70V1274.70M808.52,1275.50H843.03M808.52,1274.70H843.03" stroke="#2b2b2b" stroke-width="2.3" fill="none"/>
<rect x="791.26" y="1274.70" width="69.02" height="0.80" fill="#e1812c" stroke="#2b2b2b" stroke-width="2.3"/>
<path d="M791.26,1275.10H860.28" stroke="#2b2b2b" stroke-width="2.3"/>
<path d="M929.31,1134.90V1194.00M929.31,1088.40V1020.40M912.05,1194.00H946.56M912.05,1020.40H946.56" stroke="#2b2b2b" stroke-width="2.3" fill="none"/>
<rect x="894.80" y="1088.40" width="69.02" height="46.50" fill="#3274a1" stroke="#2b2b2b" stroke-width="2.3"/>
<path d="M894.80,1106.20H963.82" stroke="#2b2b2b" stroke-width="2.3"/>
<path d="M998.33,1275.50V1275.50M998.33,1274.70V1274.70M981.08,1275.50H1015.59M981.08,1274.70H1015.59" stroke="#2b2b2b" stroke-width="2.3" fill="none"/>
<rect x="963.82" y="1274.70" width="69.02" height="0.80" fill="#e1812c" stroke="#2b2b2b" stroke-width="2.3"/>
<path d="M963.82,1275.10H1032.84" stroke="#2b2b2b" stroke-width="2.3"/>
<g fill="#000" fill-opacity="0.42">
<circle cx="248.7" cy="1257.1" r="2.1"/>
<circle cx="252.4" cy="1055.4" r="2.1"/>
<circle cx="227.9" cy="1132.8" r="2.1"/>
<circle cx="241.8" cy="1058.7" r="2.1"/>
<circle cx="219.2" cy="1200.0" r="2.1"/>
<circle cx="232.8" cy="1132.4" r="2.1"/>
<circle cx="237.8" cy="1077.4" r="2.1"/>
<circle cx="226.8" cy="1226.6" r="2.1"/>
<circle cx="245.0" cy="1215.8" r="2.1"/>
<circle cx="242.1" cy="1088.3" r="2.1"/>
<circle cx="222.7" cy="1089.4" r="2.1"/>
<circle cx="238.6" cy="996.6" r="2.1"/>
<circle cx="224.0" cy="1082.3" r="2.1"/>
<circle cx="257.9" cy="1056.7" r="2.1"/>
<circle cx="239.2" cy="1114.3" r="2.1"/>
<circle cx="250.7" cy="1000.9" r="2.1"/>
<circle cx="255.7" cy="1133.4" r="2.1"/>
<circle cx="218.3" cy="1177.8" r="2.1"/>
<circle cx="227.8" cy="1038.0" r="2.1"/>
<circle cx="238.8" cy="1074.3" r="2.1"/>
<circle cx="237.9" cy="902.3" r="2.1"/>
<circle cx="238.1" cy="945.8" r="2.1"/>
<circle cx="249.6" cy="1087.9" r="2.1"/>
<circle cx="247.6" cy="1166.9" r="2.1"/>
<circle cx="219.6" cy="895.0" r="2.1"/>
<circle cx="217.8" cy="897.8" r="2.1"/>
<circle cx="256.4" cy="1090.5" r="2.1"/>
<circle cx="242.8" cy="1167.1" r="2.1"/>
<circle cx="235.3" cy="1066.9" r="2.1"/>
<circle cx="217.9" cy="1246.6" r="2.1"/>
<circle cx="237.1" cy="1097.5" r="2.1"/>
<circle cx="250.0" cy="1087.0" r="2.1"/>
<circle cx="234.4" cy="1113.2" r="2.1"/>
<circle cx="231.3" cy="1072.7" r="2.1"/>
<circle cx="219.7" cy="1234.9" r="2.1"/>
<circle cx="230.1" cy="1143.8" r="2.1"/>
<circle cx="255.5" cy="1138.5" r="2.1"/>
<circle cx="244.7" cy="1000.8" r="2.1"/>
<circle cx="220.2" cy="1060.5" r="2.1"/>
<circle cx="228.8" cy="1253.4" r="2.1"/>
<circle cx="242.6" cy="1100.6" r="2.1"/>
<circle cx="218.1" cy="1168.1" r="2.1"/>
<circle cx="250.0" cy="1224.9" r="2.1"/>
<circle cx="232.0" cy="1224.0" r="2.1"/>
<circle cx="221.1" cy="1055.1" r="2.1"/>
<circle cx="246.1" cy="1261.8" r="2.1"/>
<circle cx="233.2" cy="1227.2" r="2.1"/>
<circle cx="240.4" cy="1213.4" r="2.1"/>
<circle cx="229.3" cy="1042.4" r="2.1"/>
<circle cx="234.6" cy="993.4" r="2.1"/>
<circle cx="249.5" cy="1125.1" r="2.1"/>
<circle cx="232.5" cy="1173.3" r="2.1"/>
<circle cx="258.3" cy="1141.2" r="2.1"/>
<circle cx="236.1" cy="1155.8" r="2.1"/>
<circle cx="240.2" cy="1143.5" r="2.1"/>
<circle cx="244.8" cy="1250.0" r="2.1"/>
<circle cx="249.5" cy="946.4" r="2.1"/>
<circle cx="222.9" cy="900.5" r="2.1"/>
<circle cx="219.2" cy="1124.9" r="2.1"/>
<circle cx="251.9" cy="1145.1" r="2.1"/>
<circle cx="245.0" cy="1199.5" r="2.1"/>
<circle cx="249.2" cy="1203.2" r="2.1"/>
<circle cx="228.1" cy="1121.5" r="2.1"/>
<circle cx="244.6" cy="1093.3" r="2.1"/>
<circle cx="231.8" cy="1021.7" r="2.1"/>
<circle cx="260.4" cy="1020.5" r="2.1"/>
<circle cx="220.6" cy="1270.8" r="2.1"/>
<circle cx="247.0" cy="1072.8" r="2.1"/>
<circle cx="254.9" cy="1139.5" r="2.1"/>
<circle cx="221.6" cy="1264.5" r="2.1"/>
<circle cx="240.7" cy="1194.3" r="2.1"/>
<circle cx="220.1" cy="1139.6" r="2.1"/>
<circle cx="222.8" cy="1170.6" r="2.1"/>
<circle cx="237.4" cy="1065.2" r="2.1"/>
<circle cx="221.7" cy="1250.2" r="2.1"/>
<circle cx="255.1" cy="1075.8" r="2.1"/>
<circle cx="219.3" cy="1207.6" r="2.1"/>
<circle cx="224.5" cy="911.6" r="2.1"/>
<circle cx="237.7" cy="963.4" r="2.1"/>
<circle cx="220.1" cy="1116.4" r="2.1"/>
<circle cx="246.8" cy="857.1" r="2.1"/>
<circle cx="255.0" cy="1051.2" r="2.1"/>
<circle cx="242.8" cy="1127.8" r="2.1"/>
<circle cx="240.9" cy="1162.0" r="2.1"/>
<circle cx="249.0" cy="1080.1" r="2.1"/>
<circle cx="239.5" cy="932.8" r="2.1"/>
<circle cx="253.1" cy="1083.2" r="2.1"/>
<circle cx="243.2" cy="1055.0" r="2.1"/>
<circle cx="254.9" cy="1238.5" r="2.1"/>
<circle cx="223.8" cy="1045.3" r="2.1"/>
<circle cx="258.3" cy="1123.1" r="2.1"/>
<circle cx="227.8" cy="1192.3" r="2.1"/>
<circle cx="235.2" cy="1127.7" r="2.1"/>
<circle cx="256.6" cy="948.5" r="2.1"/>
<circle cx="245.5" cy="1028.6" r="2.1"/>
<circle cx="226.3" cy="1040.9" r="2.1"/>
<circle cx="225.5" cy="1111.0" r="2.1"/>
<circle cx="225.0" cy="1215.3" r="2.1"/>
<circle cx="244.9" cy="1212.1" r="2.1"/>
<circle cx="229.6" cy="1044.3" r="2.1"/>
<circle cx="219.9" cy="1110.7" r="2.1"/>
<circle cx="250.2" cy="1094.7" r="2.1"/>
<circle cx="230.1" cy="1258.4" r="2.1"/>
<circle cx="226.3" cy="955.9" r="2.1"/>
<circle cx="234.8" cy="1058.3" r="2.1"/>
<circle cx="253.8" cy="1066.7" r="2.1"/>
<circle cx="221.9" cy="919.6" r="2.1"/>
<circle cx="226.8" cy="1036.1" r="2.1"/>
<circle cx="221.4" cy="1190.8" r="2.1"/>
<circle cx="255.7" cy="1090.2" r="2.1"/>
<circle cx="236.8" cy="906.5" r="2.1"/>
<circle cx="241.8" cy="1075.9" r="2.1"/>
<circle cx="241.7" cy="1228.4" r="2.1"/>
<circle cx="236.4" cy="1189.7" r="2.1"/>
<circle cx="231.7" cy="851.6" r="2.1"/>
<circle cx="229.0" cy="1109.2" r="2.1"/>
<circle cx="229.7" cy="1053.7" r="2.1"/>
<circle cx="248.0" cy="1007.5" r="2.1"/>
<circle cx="256.0" cy="1063.8" r="2.1"/>
<circle cx="217.9" cy="1025.6" r="2.1"/>
<circle cx="234.3" cy="1123.9" r="2.1"/>
<circle cx="226.4" cy="1092.8" r="2.1"/>
<circle cx="248.2" cy="1153.9" r="2.1"/>
<circle cx="232.6" cy="1000.6" r="2.1"/>
<circle cx="250.7" cy="943.8" r="2.1"/>
<circle cx="232.2" cy="1010.9" r="2.1"/>
<circle cx="260.3" cy="1274.6" r="2.1"/>
<circle cx="218.0" cy="1101.2" r="2.1"/>
<circle cx="258.9" cy="945.7" r="2.1"/>
<circle cx="233.3" cy="1047.3" r="2.1"/>
<circle cx="230.8" cy="1129.8" r="2.1"/>
<circle cx="236.8" cy="1042.4" r="2.1"/>
<circle cx="220.4" cy="882.1" r="2.1"/>
<circle cx="242.6" cy="1131.2" r="2.1"/>
<circle cx="231.2" cy="1242.6" r="2.1"/>
<circle cx="248.1" cy="1163.4" r="2.1"/>
<circle cx="256.1" cy="1192.1" r="2.1"/>
<circle cx="220.0" cy="1117.1" r="2.1"/>
<circle cx="247.9" cy="1059.0" r="2.1"/>
<circle cx="240.9" cy="1159.4" r="2.1"/>
<circle cx="246.1" cy="975.5" r="2.1"/>
<circle cx="235.5" cy="1127.6" r="2.1"/>
<circle cx="220.2" cy="1220.9" r="2.1"/>
<circle cx="232.2" cy="1215.9" r="2.1"/>
<circle cx="243.5" cy="1023.6" r="2.1"/>
<circle cx="242.4" cy="1060.8" r="2.1"/>
<circle cx="220.7" cy="1010.5" r="2.1"/>
<circle cx="222.5" cy="968.9" r="2.1"/>
<circle cx="235.6" cy="1085.5" r="2.1"/>
<circle cx="234.9" cy="988.4" r="2.1"/>
<circle cx="248.3" cy="1119.6" r="2.1"/>
<circle cx="227.6" cy="1115.0" r="2.1"/>
<circle cx="242.4" cy="1188.7" r="2.1"/>
<circle cx="234.4" cy="891.3" r="2.1"/>
<circle cx="224.1" cy="955.5" r="2.1"/>
<circle cx="238.2" cy="1000.1" r="2.1"/>
<circle cx="238.5" cy="1059.9" r="2.1"/>
<circle cx="237.9" cy="1230.2" r="2.1"/>
<circle cx="234.1" cy="1198.4" r="2.1"/>
<circle cx="259.7" cy="1036.1" r="2.1"/>
<circle cx="254.5" cy="1079.6" r="2.1"/>
<circle cx="260.5" cy="842.9" r="2.1"/>
<circle cx="227.6" cy="1059.1" r="2.1"/>
<circle cx="257.5" cy="1019.2" r="2.1"/>
<circle cx="253.8" cy="1011.7" r="2.1"/>
<circle cx="226.9" cy="923.9" r="2.1"/>
<circle cx="238.0" cy="1195.9" r="2.1"/>
<circle cx="253.5" cy="1265.4" r="2.1"/>
<circle cx="223.4" cy="1153.8" r="2.1"/>
<circle cx="231.0" cy="1199.5" r="2.1"/>
<circle cx="241.6" cy="1100.1" r="2.1"/>
<circle cx="228.9" cy="1008.5" r="2.1"/>
<circle cx="257.3" cy="934.5" r="2.1"/>
<circle cx="225.6" cy="1077.4" r="2.1"/>
<circle cx="218.5" cy="1203.6" r="2.1"/>
<circle cx="238.3" cy="898.8" r="2.1"/>
<circle cx="223.4" cy="1151.7" r="2.1"/>
<circle cx="239.2" cy="1150.3" r="2.1"/>
<circle cx="239.0" cy="1225.8" r="2.1"/>
<circle cx="256.6" cy="1231.4" r="2.1"/>
<circle cx="248.4" cy="926.3" r="2.1"/>
<circle cx="229.5" cy="1259.6" r="2.1"/>
<circle cx="226.6" cy="1252.3" r="2.1"/>
<circle cx="234.0" cy="1124.5" r="2.1"/>
<circle cx="254.9" cy="1110.0" r="2.1"/>
<circle cx="242.9" cy="922.9" r="2.1"/>
<circle cx="228.9" cy="1106.6" r="2.1"/>
<circle cx="251.2" cy="877.4" r="2.1"/>
<circle cx="239.8" cy="1048.4" r="2.1"/>
<circle cx="258.7" cy="1221.4" r="2.1"/>
<circle cx="218.7" cy="999.3" r="2.1"/>
<circle cx="234.3" cy="1063.5" r="2.1"/>
<circle cx="227.8" cy="1165.4" r="2.1"/>
<circle cx="224.2" cy="1142.6" r="2.1"/>
<circle cx="225.2" cy="1103.6" r="2.1"/>
<circle cx="252.6" cy="1159.1" r="2.1"/>
<circle cx="253.9" cy="940.5" r="2.1"/>
<circle cx="220.7" cy="952.8" r="2.1"/>
<circle cx="259.2" cy="1085.5" r="2.1"/>
<circle cx="257.0" cy="1263.4" r="2.1"/>
<circle cx="239.3" cy="1263.4" r="2.1"/>
<circle cx="231.1" cy="980.3" r="2.1"/>
<circle cx="259.6" cy="1237.1" r="2.1"/>
<circle cx="228.9" cy="1125.2" r="2.1"/>
<circle cx="250.7" cy="1130.0" r="2.1"/>
<circle cx="245.7" cy="1108.9" r="2.1"/>
<circle cx="219.0" cy="1235.2" r="2.1"/>
<circle cx="235.1" cy="1226.9" r="2.1"/>
<circle cx="252.4" cy="1075.7" r="2.1"/>
<circle cx="244.0" cy="1062.7" r="2.1"/>
<circle cx="217.8" cy="1067.0" r="2.1"/>
<circle cx="227.3" cy="1203.6" r="2.1"/>
<circle cx="236.6" cy="1243.3" r="2.1"/>
<circle cx="225.1" cy="1239.4" r="2.1"/>
<circle cx="246.7" cy="1157.5" r="2.1"/>
<circle cx="248.0" cy="1103.4" r="2.1"/>
<circle cx="221.9" cy="1198.2" r="2.1"/>
<circle cx="228.3" cy="1065.3" r="2.1"/>
<circle cx="252.0" cy="954.8" r="2.1"/>
<circle cx="243.6" cy="1071.7" r="2.1"/>
<circle cx="219.4" cy="1142.1" r="2.1"/>
<circle cx="220.0" cy="968.6" r="2.1"/>
<circle cx="240.2" cy="1148.1" r="2.1"/>
<circle cx="249.2" cy="1086.3" r="2.1"/>
<circle cx="254.5" cy="1099.3" r="2.1"/>
<circle cx="256.0" cy="1085.4" r="2.1"/>
<circle cx="254.3" cy="1231.0" r="2.1"/>
<circle cx="238.4" cy="1040.3" r="2.1"/>
<circle cx="225.8" cy="1029.5" r="2.1"/>
<circle cx="239.0" cy="1034.8" r="2.1"/>
<circle cx="217.7" cy="947.4" r="2.1"/>
<circle cx="248.8" cy="1127.6" r="2.1"/>
<circle cx="244.3" cy="1015.3" r="2.1"/>
<circle cx="239.2" cy="1109.8" r="2.1"/>
<circle cx="249.6" cy="1238.0" r="2.1"/>
<circle cx="237.7" cy="1070.0" r="2.1"/>
<circle cx="252.8" cy="943.7" r="2.1"/>
<circle cx="254.4" cy="1244.1" r="2.1"/>
<circle cx="234.6" cy="1038.1" r="2.1"/>
<circle cx="239.7" cy="931.5" r="2.1"/>
<circle cx="226.9" cy="1109.5" r="2.1"/>
<circle cx="253.9" cy="1159.7" r="2.1"/>
<circle cx="251.5" cy="963.1" r="2.1"/>
<circle cx="258.5" cy="1074.1" r="2.1"/>
<circle cx="233.4" cy="1097.7" r="2.1"/>
<circle cx="244.5" cy="1160.8" r="2.1"/>
<circle cx="256.6" cy="1055.0" r="2.1"/>
<circle cx="245.0" cy="1199.9" r="2.1"/>
<circle cx="219.8" cy="1056.0" r="2.1"/>
<circle cx="259.2" cy="985.9" r="2.1"/>
<circle cx="226.7" cy="1269.9" r="2.1"/>
<circle cx="248.9" cy="1266.5" r="2.1"/>
<circle cx="236.2" cy="1030.2" r="2.1"/>
<circle cx="252.1" cy="1142.5" r="2.1"/>
<circle cx="257.9" cy="1108.9" r="2.1"/>
<circle cx="223.2" cy="1095.8" r="2.1"/>
<circle cx="260.6" cy="1046.3" r="2.1"/>
<circle cx="256.6" cy="1104.2" r="2.1"/>
<circle cx="247.7" cy="1095.4" r="2.1"/>
<circle cx="244.6" cy="1004.8" r="2.1"/>
<circle cx="241.2" cy="1080.7" r="2.1"/>
<circle cx="242.1" cy="924.4" r="2.1"/>
<circle cx="254.7" cy="1098.9" r="2.1"/>
<circle cx="227.1" cy="1156.6" r="2.1"/>
<circle cx="252.8" cy="1259.8" r="2.1"/>
<circle cx="227.1" cy="1105.2" r="2.1"/>
<circle cx="250.3" cy="1257.7" r="2.1"/>
<circle cx="221.0" cy="1204.3" r="2.1"/>
<circle cx="244.8" cy="1067.0" r="2.1"/>
<circle cx="235.6" cy="865.5" r="2.1"/>
<circle cx="234.2" cy="1232.0" r="2.1"/>
<circle cx="233.0" cy="1083.0" r="2.1"/>
<circle cx="227.7" cy="1093.8" r="2.1"/>
<circle cx="222.8" cy="1057.7" r="2.1"/>
<circle cx="235.0" cy="1140.7" r="2.1"/>
<circle cx="247.6" cy="1242.7" r="2.1"/>
<circle cx="253.2" cy="1227.0" r="2.1"/>
<circle cx="231.2" cy="1103.6" r="2.1"/>
<circle cx="247.7" cy="1261.8" r="2.1"/>
<circle cx="249.6" cy="1103.4" r="2.1"/>
<circle cx="237.5" cy="1190.2" r="2.1"/>
<circle cx="254.7" cy="1086.5" r="2.1"/>
<circle cx="223.7" cy="1036.6" r="2.1"/>
<circle cx="234.6" cy="1146.5" r="2.1"/>
<circle cx="222.9" cy="1265.5" r="2.1"/>
<circle cx="251.6" cy="1172.7" r="2.1"/>
<circle cx="229.6" cy="969.8" r="2.1"/>
<circle cx="229.0" cy="1130.0" r="2.1"/>
<circle cx="257.6" cy="1052.8" r="2.1"/>
<circle cx="251.1" cy="935.6" r="2.1"/>
<circle cx="226.8" cy="1169.3" r="2.1"/>
<circle cx="220.0" cy="950.9" r="2.1"/>
<circle cx="236.3" cy="978.4" r="2.1"/>
<circle cx="217.8" cy="942.6" r="2.1"/>
<circle cx="236.8" cy="1129.7" r="2.1"/>
<circle cx="239.5" cy="1111.1" r="2.1"/>
<circle cx="234.6" cy="1211.5" r="2.1"/>
<circle cx="253.6" cy="1164.3" r="2.1"/>
<circle cx="247.2" cy="1036.1" r="2.1"/>
<circle cx="244.0" cy="1109.6" r="2.1"/>
<circle cx="226.6" cy="901.5" r="2.1"/>
<circle cx="235.5" cy="1112.1" r="2.1"/>
<circle cx="250.8" cy="1156.2" r="2.1"/>
<circle cx="224.5" cy="1261.6" r="2.1"/>
<circle cx="235.9" cy="1199.7" r="2.1"/>
<circle cx="238.3" cy="1051.8" r="2.1"/>
<circle cx="244.1" cy="1101.5" r="2.1"/>
<circle cx="259.3" cy="1099.1" r="2.1"/>
<circle cx="226.5" cy="1070.6" r="2.1"/>
<circle cx="247.6" cy="1044.8" r="2.1"/>
<circle cx="257.2" cy="1203.7" r="2.1"/>
<circle cx="255.0" cy="1236.5" r="2.1"/>
<circle cx="219.1" cy="1059.9" r="2.1"/>
<circle cx="228.7" cy="1155.1" r="2.1"/>
<circle cx="218.2" cy="1081.7" r="2.1"/>
<circle cx="236.1" cy="1214.0" r="2.1"/>
<circle cx="252.0" cy="1082.2" r="2.1"/>
<circle cx="233.8" cy="898.7" r="2.1"/>
<circle cx="224.7" cy="1112.6" r="2.1"/>
<circle cx="217.6" cy="871.6" r="2.1"/>
<circle cx="225.6" cy="1090.5" r="2.1"/>
<circle cx="249.6" cy="1143.8" r="2.1"/>
<circle cx="251.1" cy="1047.9" r="2.1"/>
<circle cx="233.9" cy="1147.7" r="2.1"/>
<circle cx="242.0" cy="1070.4" r="2.1"/>
<circle cx="225.8" cy="994.7" r="2.1"/>
<circle cx="246.7" cy="1063.5" r="2.1"/>
<circle cx="232.6" cy="1161.7" r="2.1"/>
<circle cx="257.4" cy="1158.4" r="2.1"/>
<circle cx="258.2" cy="1038.3" r="2.1"/>
<circle cx="238.9" cy="1150.7" r="2.1"/>
<circle cx="221.1" cy="1143.0" r="2.1"/>
<circle cx="233.8" cy="909.6" r="2.1"/>
<circle cx="233.8" cy="1066.5" r="2.1"/>
<circle cx="233.2" cy="1086.3" r="2.1"/>
<circle cx="231.9" cy="891.4" r="2.1"/>
<circle cx="249.4" cy="1093.1" r="2.1"/>
<circle cx="231.7" cy="1078.8" r="2.1"/>
<circle cx="242.2" cy="1191.2" r="2.1"/>
<circle cx="252.0" cy="1045.3" r="2.1"/>
<circle cx="227.7" cy="1063.7" r="2.1"/>
<circle cx="251.3" cy="1111.3" r="2.1"/>
<circle cx="253.6" cy="1042.3" r="2.1"/>
<circle cx="259.5" cy="1110.5" r="2.1"/>
<circle cx="253.4" cy="1063.8" r="2.1"/>
<circle cx="255.0" cy="898.3" r="2.1"/>
<circle cx="238.8" cy="1141.3" r="2.1"/>
<circle cx="227.4" cy="1102.3" r="2.1"/>
<circle cx="257.5" cy="1030.8" r="2.1"/>
<circle cx="256.5" cy="1111.8" r="2.1"/>
<circle cx="226.4" cy="1119.2" r="2.1"/>
<circle cx="230.8" cy="1159.3" r="2.1"/>
<circle cx="221.6" cy="907.2" r="2.1"/>
<circle cx="219.6" cy="886.7" r="2.1"/>
<circle cx="238.7" cy="973.5" r="2.1"/>
<circle cx="224.0" cy="1109.0" r="2.1"/>
<circle cx="248.5" cy="1159.8" r="2.1"/>
<circle cx="256.3" cy="1138.5" r="2.1"/>
<circle cx="254.7" cy="1068.4" r="2.1"/>
<circle cx="245.3" cy="1041.2" r="2.1"/>
<circle cx="222.4" cy="1067.2" r="2.1"/>
<circle cx="250.0" cy="1042.8" r="2.1"/>
<circle cx="224.7" cy="1006.8" r="2.1"/>
<circle cx="226.4" cy="1174.9" r="2.1"/>
<circle cx="239.5" cy="1252.9" r="2.1"/>
<circle cx="229.9" cy="962.1" r="2.1"/>
<circle cx="258.0" cy="1251.3" r="2.1"/>
<circle cx="241.8" cy="1065.6" r="2.1"/>
<circle cx="253.1" cy="1046.0" r="2.1"/>
<circle cx="237.6" cy="1137.5" r="2.1"/>
<circle cx="253.0" cy="1178.6" r="2.1"/>
<circle cx="219.2" cy="1159.4" r="2.1"/>
<circle cx="242.2" cy="1215.9" r="2.1"/>
<circle cx="242.8" cy="883.1" r="2.1"/>
<circle cx="236.4" cy="1187.8" r="2.1"/>
<circle cx="257.2" cy="1056.8" r="2.1"/>
<circle cx="223.6" cy="1144.7" r="2.1"/>
<circle cx="253.0" cy="1158.2" r="2.1"/>
<circle cx="220.3" cy="1049.0" r="2.1"/>
<circle cx="227.0" cy="1127.4" r="2.1"/>
<circle cx="245.4" cy="1101.5" r="2.1"/>
<circle cx="219.3" cy="1059.1" r="2.1"/>
<circle cx="227.4" cy="1078.9" r="2.1"/>
<circle cx="238.8" cy="972.5" r="2.1"/>
<circle cx="247.8" cy="1017.1" r="2.1"/>
<circle cx="238.6" cy="1186.0" r="2.1"/>
<circle cx="245.2" cy="1043.1" r="2.1"/>
<circle cx="253.4" cy="1205.3" r="2.1"/>
<circle cx="231.3" cy="1203.6" r="2.1"/>
<circle cx="224.2" cy="1054.1" r="2.1"/>
<circle cx="245.9" cy="1113.6" r="2.1"/>
<circle cx="229.4" cy="911.5" r="2.1"/>
<circle cx="256.5" cy="1135.7" r="2.1"/>
<circle cx="228.6" cy="1118.5" r="2.1"/>
<circle cx="234.5" cy="1176.6" r="2.1"/>
<circle cx="221.3" cy="987.2" r="2.1"/>
<circle cx="218.1" cy="1136.1" r="2.1"/>
<circle cx="221.9" cy="1116.6" r="2.1"/>
<circle cx="225.2" cy="907.5" r="2.1"/>
<circle cx="232.4" cy="1064.6" r="2.1"/>
<circle cx="232.3" cy="969.3" r="2.1"/>
<circle cx="230.8" cy="1115.5" r="2.1"/>
<circle cx="243.5" cy="928.2" r="2.1"/>
<circle cx="254.9" cy="1016.1" r="2.1"/>
<circle cx="260.6" cy="1170.7" r="2.1"/>
<circle cx="224.2" cy="954.6" r="2.1"/>
<circle cx="224.7" cy="1144.6" r="2.1"/>
<circle cx="239.6" cy="1260.9" r="2.1"/>
<circle cx="247.7" cy="1143.7" r="2.1"/>
<circle cx="222.0" cy="1076.3" r="2.1"/>
<circle cx="225.2" cy="1150.9" r="2.1"/>
<circle cx="242.5" cy="1037.3" r="2.1"/>
<circle cx="257.8" cy="1185.5" r="2.1"/>
<circle cx="229.0" cy="992.1" r="2.1"/>
<circle cx="242.8" cy="1040.7" r="2.1"/>
<circle cx="254.6" cy="1103.5" r="2.1"/>
<circle cx="232.0" cy="1101.4" r="2.1"/>
<circle cx="252.2" cy="1089.9" r="2.1"/>
<circle cx="256.0" cy="1059.2" r="2.1"/>
<circle cx="247.5" cy="971.3" r="2.1"/>
<circle cx="235.1" cy="1085.1" r="2.1"/>
<circle cx="258.0" cy="1001.0" r="2.1"/>
<circle cx="218.4" cy="1193.0" r="2.1"/>
<circle cx="227.0" cy="1124.6" r="2.1"/>
<circle cx="226.7" cy="1223.5" r="2.1"/>
<circle cx="228.9" cy="1074.3" r="2.1"/>
<circle cx="219.2" cy="1005.8" r="2.1"/>
<circle cx="260.3" cy="1014.9" r="2.1"/>
<circle cx="220.6" cy="1243.5" r="2.1"/>
<circle cx="219.3" cy="951.0" r="2.1"/>
<circle cx="228.5" cy="1131.2" r="2.1"/>
<circle cx="254.9" cy="921.3" r="2.1"/>
<circle cx="232.6" cy="1086.8" r="2.1"/>
<circle cx="236.1" cy="1059.4" r="2.1"/>
<circle cx="227.4" cy="1100.0" r="2.1"/>
<circle cx="248.6" cy="1242.8" r="2.1"/>
<circle cx="232.0" cy="1060.2" r="2.1"/>
<circle cx="223.7" cy="1074.4" r="2.1"/>
<circle cx="249.6" cy="1007.5" r="2.1"/>
<circle cx="227.9" cy="1024.3" r="2.1"/>
<circle cx="256.9" cy="835.0" r="2.1"/>
<circle cx="239.1" cy="764.6" r="2.1"/>
<circle cx="230.5" cy="805.8" r="2.1"/>
<circle cx="240.6" cy="805.8" r="2.1"/>
<circle cx="307.3" cy="1203.0" r="2.1"/>
<circle cx="290.1" cy="1222.2" r="2.1"/>
<circle cx="320.1" cy="1225.4" r="2.1"/>
<circle cx="296.1" cy="1239.8" r="2.1"/>
<circle cx="317.7" cy="1239.0" r="2.1"/>
<circle cx="325.3" cy="1242.2" r="2.1"/>
<circle cx="326.2" cy="1254.3" r="2.1"/>
<circle cx="292.0" cy="1259.9" r="2.1"/>
<circle cx="298.5" cy="1258.3" r="2.1"/>
<circle cx="312.6" cy="1259.4" r="2.1"/>
<circle cx="298.5" cy="1261.6" r="2.1"/>
<circle cx="301.0" cy="1263.4" r="2.1"/>
<circle cx="326.8" cy="1269.2" r="2.1"/>
<circle cx="310.8" cy="1267.1" r="2.1"/>
<circle cx="317.2" cy="1266.3" r="2.1"/>
<circle cx="326.6" cy="1270.5" r="2.1"/>
<circle cx="312.9" cy="1269.6" r="2.1"/>
<circle cx="327.7" cy="1271.9" r="2.1"/>
<circle cx="302.1" cy="1267.4" r="2.1"/>
<circle cx="301.0" cy="1268.5" r="2.1"/>
<circle cx="325.4" cy="1261.8" r="2.1"/>
<circle cx="312.3" cy="1262.3" r="2.1"/>
<circle cx="315.6" cy="1268.9" r="2.1"/>
<circle cx="301.3" cy="1263.9" r="2.1"/>
<circle cx="312.0" cy="1275.0" r="2.1"/>
<circle cx="293.8" cy="1275.5" r="2.1"/>
<circle cx="316.5" cy="1275.4" r="2.1"/>
<circle cx="310.5" cy="1275.2" r="2.1"/>
<circle cx="313.1" cy="1275.4" r="2.1"/>
<circle cx="309.5" cy="1275.3" r="2.1"/>
<circle cx="328.8" cy="1275.5" r="2.1"/>
<circle cx="314.7" cy="1275.0" r="2.1"/>
<circle cx="329.0" cy="1275.3" r="2.1"/>
<circle cx="327.9" cy="1275.1" r="2.1"/>
<circle cx="325.9" cy="1275.4" r="2.1"/>
<circle cx="288.3" cy="1275.4" r="2.1"/>
<circle cx="297.3" cy="1275.2" r="2.1"/>
<circle cx="295.8" cy="1275.2" r="2.1"/>
<circle cx="327.6" cy="1275.1" r="2.1"/>
<circle cx="289.4" cy="1275.4" r="2.1"/>
<circle cx="324.0" cy="1275.2" r="2.1"/>
<circle cx="319.4" cy="1274.9" r="2.1"/>
<circle cx="293.1" cy="1275.3" r="2.1"/>
<circle cx="313.0" cy="1275.0" r="2.1"/>
<circle cx="287.5" cy="1275.4" r="2.1"/>
<circle cx="323.4" cy="1275.4" r="2.1"/>
<circle cx="306.5" cy="1275.2" r="2.1"/>
<circle cx="311.9" cy="1275.4" r="2.1"/>
<circle cx="296.2" cy="1275.3" r="2.1"/>
<circle cx="287.2" cy="1275.2" r="2.1"/>
<circle cx="291.1" cy="1275.0" r="2.1"/>
<circle cx="318.8" cy="1275.1" r="2.1"/>
<circle cx="304.3" cy="1275.5" r="2.1"/>
<circle cx="319.1" cy="1275.1" r="2.1"/>
<circle cx="322.5" cy="1275.3" r="2.1"/>
<circle cx="322.3" cy="1275.0" r="2.1"/>
<circle cx="317.4" cy="1275.1" r="2.1"/>
<circle cx="321.2" cy="1275.4" r="2.1"/>
<circle cx="319.7" cy="1275.3" r="2.1"/>
<circle cx="303.7" cy="1275.5" r="2.1"/>
<circle cx="303.4" cy="1275.2" r="2.1"/>
<circle cx="307.0" cy="1275.0" r="2.1"/>
<circle cx="299.8" cy="1275.4" r="2.1"/>
<circle cx="304.9" cy="1275.1" r="2.1"/>
<circle cx="296.7" cy="1275.3" r="2.1"/>
<circle cx="323.2" cy="1275.2" r="2.1"/>
<circle cx="328.1" cy="1275.4" r="2.1"/>
<circle cx="308.8" cy="1275.1" r="2.1"/>
<circle cx="312.8" cy="1275.1" r="2.1"/>
<circle cx="323.0" cy="1275.2" r="2.1"/>
<circle cx="302.6" cy="1274.9" r="2.1"/>
<circle cx="305.3" cy="1275.0" r="2.1"/>
<circle cx="290.5" cy="1275.1" r="2.1"/>
<circle cx="309.6" cy="1275.1" r="2.1"/>
<circle cx="287.2" cy="1275.3" r="2.1"/>
<circle cx="290.1" cy="1275.0" r="2.1"/>
<circle cx="314.6" cy="1275.4" r="2.1"/>
<circle cx="323.7" cy="1275.2" r="2.1"/>
<circle cx="318.0" cy="1275.2" r="2.1"/>
<circle cx="326.6" cy="1275.1" r="2.1"/>
<circle cx="300.2" cy="1275.0" r="2.1"/>
<circle cx="289.0" cy="1275.2" r="2.1"/>
<circle cx="312.0" cy="1275.4" r="2.1"/>
<circle cx="301.1" cy="1275.5" r="2.1"/>
<circle cx="393.0" cy="1115.1" r="2.1"/>
<circle cx="396.3" cy="1135.6" r="2.1"/>
<circle cx="412.8" cy="1202.2" r="2.1"/>
<circle cx="429.3" cy="1199.3" r="2.1"/>
<circle cx="414.5" cy="1209.2" r="2.1"/>
<circle cx="430.3" cy="1206.5" r="2.1"/>
<circle cx="413.5" cy="1236.2" r="2.1"/>
<circle cx="405.6" cy="1245.8" r="2.1"/>
<circle cx="425.4" cy="1264.6" r="2.1"/>
<circle cx="416.8" cy="1093.3" r="2.1"/>
<circle cx="420.0" cy="1274.5" r="2.1"/>
<circle cx="472.2" cy="1131.3" r="2.1"/>
<circle cx="488.8" cy="1168.6" r="2.1"/>
<circle cx="482.8" cy="1176.8" r="2.1"/>
<circle cx="471.3" cy="1184.1" r="2.1"/>
<circle cx="488.1" cy="1253.4" r="2.1"/>
<circle cx="473.9" cy="1263.6" r="2.1"/>
<circle cx="487.8" cy="1263.6" r="2.1"/>
<circle cx="493.7" cy="1274.2" r="2.1"/>
<circle cx="577.3" cy="1275.0" r="2.1"/>
<circle cx="589.4" cy="1275.3" r="2.1"/>
<circle cx="578.0" cy="1256.2" r="2.1"/>
<circle cx="595.9" cy="1257.4" r="2.1"/>
<circle cx="565.8" cy="1274.8" r="2.1"/>
<circle cx="598.3" cy="1274.7" r="2.1"/>
<circle cx="574.8" cy="1229.1" r="2.1"/>
<circle cx="601.2" cy="1274.4" r="2.1"/>
<circle cx="577.0" cy="1200.7" r="2.1"/>
<circle cx="598.8" cy="1236.7" r="2.1"/>
<circle cx="579.4" cy="1270.1" r="2.1"/>
<circle cx="578.9" cy="1255.5" r="2.1"/>
<circle cx="579.6" cy="1206.1" r="2.1"/>
<circle cx="599.7" cy="1275.3" r="2.1"/>
<circle cx="586.7" cy="1217.6" r="2.1"/>
<circle cx="573.0" cy="1275.4" r="2.1"/>
<circle cx="603.5" cy="1201.7" r="2.1"/>
<circle cx="596.5" cy="1275.4" r="2.1"/>
<circle cx="586.4" cy="1234.3" r="2.1"/>
<circle cx="577.4" cy="1269.5" r="2.1"/>
<circle cx="589.6" cy="1275.3" r="2.1"/>
<circle cx="600.0" cy="1270.1" r="2.1"/>
<circle cx="571.2" cy="1274.9" r="2.1"/>
<circle cx="565.5" cy="1244.3" r="2.1"/>
<circle cx="594.9" cy="1240.2" r="2.1"/>
<circle cx="577.6" cy="1251.5" r="2.1"/>
<circle cx="598.0" cy="1236.1" r="2.1"/>
<circle cx="590.2" cy="1275.3" r="2.1"/>
<circle cx="586.7" cy="1241.6" r="2.1"/>
<circle cx="589.3" cy="1271.9" r="2.1"/>
<circle cx="563.1" cy="1241.5" r="2.1"/>
<circle cx="588.6" cy="1274.9" r="2.1"/>
<circle cx="601.0" cy="1275.4" r="2.1"/>
<circle cx="596.3" cy="1262.9" r="2.1"/>
<circle cx="598.7" cy="1274.5" r="2.1"/>
<circle cx="602.4" cy="1274.9" r="2.1"/>
<circle cx="584.0" cy="1274.5" r="2.1"/>
<circle cx="587.6" cy="1257.4" r="2.1"/>
<circle cx="595.3" cy="1267.5" r="2.1"/>
<circle cx="569.5" cy="1267.4" r="2.1"/>
<circle cx="600.3" cy="1220.1" r="2.1"/>
<circle cx="604.6" cy="1216.7" r="2.1"/>
<circle cx="566.1" cy="1255.2" r="2.1"/>
<circle cx="589.6" cy="1275.3" r="2.1"/>
<circle cx="602.1" cy="1197.9" r="2.1"/>
<circle cx="590.2" cy="1274.5" r="2.1"/>
<circle cx="593.6" cy="1275.0" r="2.1"/>
<circle cx="584.3" cy="1255.8" r="2.1"/>
<circle cx="587.4" cy="1234.1" r="2.1"/>
<circle cx="590.5" cy="1224.0" r="2.1"/>
<circle cx="600.2" cy="1192.8" r="2.1"/>
<circle cx="578.1" cy="1252.9" r="2.1"/>
<circle cx="601.9" cy="1256.4" r="2.1"/>
<circle cx="590.5" cy="1222.8" r="2.1"/>
<circle cx="569.3" cy="1212.6" r="2.1"/>
<circle cx="583.1" cy="1275.0" r="2.1"/>
<circle cx="589.9" cy="1222.4" r="2.1"/>
<circle cx="592.4" cy="1274.9" r="2.1"/>
<circle cx="600.0" cy="1245.2" r="2.1"/>
<circle cx="590.7" cy="1226.7" r="2.1"/>
<circle cx="581.6" cy="1189.2" r="2.1"/>
<circle cx="604.5" cy="1196.6" r="2.1"/>
<circle cx="592.9" cy="1253.9" r="2.1"/>
<circle cx="600.9" cy="1275.3" r="2.1"/>
<circle cx="586.2" cy="1274.8" r="2.1"/>
<circle cx="577.1" cy="1243.6" r="2.1"/>
<circle cx="594.7" cy="1238.5" r="2.1"/>
<circle cx="583.7" cy="1274.4" r="2.1"/>
<circle cx="579.1" cy="1199.2" r="2.1"/>
<circle cx="589.8" cy="1275.2" r="2.1"/>
<circle cx="584.3" cy="1275.0" r="2.1"/>
<circle cx="569.4" cy="1243.7" r="2.1"/>
<circle cx="578.9" cy="1230.0" r="2.1"/>
<circle cx="570.8" cy="1275.0" r="2.1"/>
<circle cx="579.3" cy="1275.0" r="2.1"/>
<circle cx="574.0" cy="1216.0" r="2.1"/>
<circle cx="570.3" cy="1275.2" r="2.1"/>
<circle cx="569.9" cy="1259.4" r="2.1"/>
<circle cx="583.5" cy="1263.9" r="2.1"/>
<circle cx="597.9" cy="1224.7" r="2.1"/>
<circle cx="605.1" cy="1254.6" r="2.1"/>
<circle cx="599.2" cy="1196.6" r="2.1"/>
<circle cx="583.2" cy="1274.8" r="2.1"/>
<circle cx="603.0" cy="1259.1" r="2.1"/>
<circle cx="598.4" cy="1274.9" r="2.1"/>
<circle cx="601.6" cy="1259.9" r="2.1"/>
<circle cx="597.2" cy="1274.8" r="2.1"/>
<circle cx="567.2" cy="1265.1" r="2.1"/>
<circle cx="568.3" cy="1258.2" r="2.1"/>
<circle cx="586.6" cy="1274.7" r="2.1"/>
<circle cx="564.0" cy="1233.8" r="2.1"/>
<circle cx="593.1" cy="1265.5" r="2.1"/>
<circle cx="574.6" cy="1253.2" r="2.1"/>
<circle cx="582.5" cy="1263.1" r="2.1"/>
<circle cx="571.8" cy="1275.4" r="2.1"/>
<circle cx="587.1" cy="1275.2" r="2.1"/>
<circle cx="571.7" cy="1274.5" r="2.1"/>
<circle cx="603.2" cy="1259.0" r="2.1"/>
<circle cx="585.4" cy="1222.8" r="2.1"/>
<circle cx="584.0" cy="1273.1" r="2.1"/>
<circle cx="581.0" cy="1272.2" r="2.1"/>
<circle cx="605.7" cy="1261.7" r="2.1"/>
<circle cx="576.0" cy="1274.7" r="2.1"/>
<circle cx="601.4" cy="1274.8" r="2.1"/>
<circle cx="575.4" cy="1244.7" r="2.1"/>
<circle cx="588.7" cy="1256.1" r="2.1"/>
<circle cx="583.3" cy="1274.5" r="2.1"/>
<circle cx="574.3" cy="1250.2" r="2.1"/>
<circle cx="592.2" cy="1230.9" r="2.1"/>
<circle cx="592.4" cy="1275.0" r="2.1"/>
<circle cx="568.5" cy="1272.2" r="2.1"/>
<circle cx="583.6" cy="1273.4" r="2.1"/>
<circle cx="575.5" cy="1274.5" r="2.1"/>
<circle cx="598.1" cy="1264.6" r="2.1"/>
<circle cx="593.0" cy="1274.0" r="2.1"/>
<circle cx="583.2" cy="1275.4" r="2.1"/>
<circle cx="562.7" cy="1240.6" r="2.1"/>
<circle cx="572.8" cy="1244.8" r="2.1"/>
<circle cx="600.5" cy="1234.2" r="2.1"/>
<circle cx="589.7" cy="1247.7" r="2.1"/>
<circle cx="596.3" cy="1234.7" r="2.1"/>
<circle cx="600.0" cy="1260.4" r="2.1"/>
<circle cx="587.2" cy="1267.4" r="2.1"/>
<circle cx="600.7" cy="1232.3" r="2.1"/>
<circle cx="577.7" cy="1275.2" r="2.1"/>
<circle cx="566.5" cy="1268.7" r="2.1"/>
<circle cx="570.7" cy="1261.9" r="2.1"/>
<circle cx="592.2" cy="1208.8" r="2.1"/>
<circle cx="582.8" cy="1228.9" r="2.1"/>
<circle cx="569.6" cy="1274.5" r="2.1"/>
<circle cx="579.4" cy="1196.1" r="2.1"/>
<circle cx="567.5" cy="1249.0" r="2.1"/>
<circle cx="573.7" cy="1245.2" r="2.1"/>
<circle cx="589.8" cy="1274.5" r="2.1"/>
<circle cx="597.9" cy="1274.7" r="2.1"/>
<circle cx="577.9" cy="1274.9" r="2.1"/>
<circle cx="598.0" cy="1223.9" r="2.1"/>
<circle cx="595.3" cy="1274.2" r="2.1"/>
<circle cx="565.7" cy="1250.5" r="2.1"/>
<circle cx="591.1" cy="1274.4" r="2.1"/>
<circle cx="590.5" cy="1182.7" r="2.1"/>
<circle cx="603.4" cy="1263.1" r="2.1"/>
<circle cx="563.2" cy="1275.1" r="2.1"/>
<circle cx="576.0" cy="1274.2" r="2.1"/>
<circle cx="573.1" cy="1274.1" r="2.1"/>
<circle cx="599.2" cy="1240.6" r="2.1"/>
<circle cx="601.4" cy="1196.2" r="2.1"/>
<circle cx="595.7" cy="1275.1" r="2.1"/>
<circle cx="582.7" cy="1219.1" r="2.1"/>
<circle cx="603.9" cy="1247.2" r="2.1"/>
<circle cx="602.4" cy="1274.5" r="2.1"/>
<circle cx="595.5" cy="1234.5" r="2.1"/>
<circle cx="570.2" cy="1257.0" r="2.1"/>
<circle cx="586.0" cy="1274.3" r="2.1"/>
<circle cx="570.0" cy="1246.8" r="2.1"/>
<circle cx="568.8" cy="1236.2" r="2.1"/>
<circle cx="573.4" cy="1259.9" r="2.1"/>
<circle cx="605.3" cy="1274.5" r="2.1"/>
<circle cx="590.4" cy="1275.2" r="2.1"/>
<circle cx="580.9" cy="1256.6" r="2.1"/>
<circle cx="598.8" cy="1242.1" r="2.1"/>
<circle cx="585.5" cy="1216.4" r="2.1"/>
<circle cx="564.0" cy="1274.5" r="2.1"/>
<circle cx="600.4" cy="1242.0" r="2.1"/>
<circle cx="581.2" cy="1274.1" r="2.1"/>
<circle cx="605.4" cy="1274.6" r="2.1"/>
<circle cx="584.1" cy="1238.4" r="2.1"/>
<circle cx="570.9" cy="1274.6" r="2.1"/>
<circle cx="565.2" cy="1274.8" r="2.1"/>
<circle cx="598.1" cy="1274.7" r="2.1"/>
<circle cx="575.6" cy="1274.5" r="2.1"/>
<circle cx="581.1" cy="1275.0" r="2.1"/>
<circle cx="601.1" cy="1274.7" r="2.1"/>
<circle cx="586.4" cy="1274.6" r="2.1"/>
<circle cx="563.5" cy="1272.7" r="2.1"/>
<circle cx="564.0" cy="1274.2" r="2.1"/>
<circle cx="562.8" cy="1270.3" r="2.1"/>
<circle cx="563.9" cy="1274.5" r="2.1"/>
<circle cx="590.7" cy="1254.7" r="2.1"/>
<circle cx="586.4" cy="1274.1" r="2.1"/>
<circle cx="598.6" cy="1275.2" r="2.1"/>
<circle cx="594.8" cy="1275.0" r="2.1"/>
<circle cx="571.0" cy="1264.0" r="2.1"/>
<circle cx="589.9" cy="1274.9" r="2.1"/>
<circle cx="579.7" cy="1246.1" r="2.1"/>
<circle cx="580.0" cy="1274.2" r="2.1"/>
<circle cx="588.9" cy="1254.6" r="2.1"/>
<circle cx="564.9" cy="1274.3" r="2.1"/>
<circle cx="599.7" cy="1260.2" r="2.1"/>
<circle cx="582.2" cy="1232.1" r="2.1"/>
<circle cx="598.8" cy="1275.1" r="2.1"/>
<circle cx="580.0" cy="1274.3" r="2.1"/>
<circle cx="602.0" cy="1274.8" r="2.1"/>
<circle cx="571.3" cy="1234.4" r="2.1"/>
<circle cx="577.5" cy="1200.1" r="2.1"/>
<circle cx="564.2" cy="1275.1" r="2.1"/>
<circle cx="600.8" cy="1274.9" r="2.1"/>
<circle cx="603.9" cy="1260.0" r="2.1"/>
<circle cx="604.6" cy="1274.7" r="2.1"/>
<circle cx="569.0" cy="1275.2" r="2.1"/>
<circle cx="589.3" cy="1274.8" r="2.1"/>
<circle cx="603.5" cy="1200.8" r="2.1"/>
<circle cx="590.7" cy="1275.4" r="2.1"/>
<circle cx="576.8" cy="1233.0" r="2.1"/>
<circle cx="576.4" cy="1250.5" r="2.1"/>
<circle cx="572.9" cy="1233.2" r="2.1"/>
<circle cx="590.0" cy="1274.6" r="2.1"/>
<circle cx="580.7" cy="1267.5" r="2.1"/>
<circle cx="565.8" cy="1262.3" r="2.1"/>
<circle cx="601.4" cy="1269.0" r="2.1"/>
<circle cx="595.3" cy="1274.7" r="2.1"/>
<circle cx="585.0" cy="1270.4" r="2.1"/>
<circle cx="566.3" cy="1198.0" r="2.1"/>
<circle cx="576.6" cy="1232.5" r="2.1"/>
<circle cx="593.0" cy="1204.5" r="2.1"/>
<circle cx="571.9" cy="1275.2" r="2.1"/>
<circle cx="577.0" cy="1254.6" r="2.1"/>
<circle cx="583.2" cy="1235.3" r="2.1"/>
<circle cx="595.3" cy="1259.9" r="2.1"/>
<circle cx="564.1" cy="1223.8" r="2.1"/>
<circle cx="594.1" cy="1244.3" r="2.1"/>
<circle cx="578.4" cy="1275.2" r="2.1"/>
<circle cx="588.5" cy="1274.5" r="2.1"/>
<circle cx="565.4" cy="1249.4" r="2.1"/>
<circle cx="575.3" cy="1270.7" r="2.1"/>
<circle cx="594.1" cy="1274.4" r="2.1"/>
<circle cx="579.9" cy="1253.9" r="2.1"/>
<circle cx="600.8" cy="1274.8" r="2.1"/>
<circle cx="579.1" cy="1237.2" r="2.1"/>
<circle cx="585.0" cy="1266.3" r="2.1"/>
<circle cx="572.2" cy="1274.1" r="2.1"/>
<circle cx="566.2" cy="1274.2" r="2.1"/>
<circle cx="570.3" cy="1268.1" r="2.1"/>
<circle cx="579.3" cy="1275.2" r="2.1"/>
<circle cx="591.0" cy="1218.8" r="2.1"/>
<circle cx="573.6" cy="1275.0" r="2.1"/>
<circle cx="577.0" cy="1274.3" r="2.1"/>
<circle cx="563.2" cy="1236.8" r="2.1"/>
<circle cx="592.4" cy="1262.5" r="2.1"/>
<circle cx="570.8" cy="1275.0" r="2.1"/>
<circle cx="597.8" cy="1247.3" r="2.1"/>
<circle cx="579.6" cy="1256.6" r="2.1"/>
<circle cx="591.4" cy="1256.5" r="2.1"/>
<circle cx="585.4" cy="1215.5" r="2.1"/>
<circle cx="569.4" cy="1275.2" r="2.1"/>
<circle cx="590.5" cy="1268.9" r="2.1"/>
<circle cx="573.2" cy="1230.7" r="2.1"/>
<circle cx="591.1" cy="1249.3" r="2.1"/>
<circle cx="598.4" cy="1275.5" r="2.1"/>
<circle cx="597.7" cy="1261.7" r="2.1"/>
<circle cx="580.9" cy="1205.4" r="2.1"/>
<circle cx="583.5" cy="1273.5" r="2.1"/>
<circle cx="587.9" cy="1242.4" r="2.1"/>
<circle cx="598.5" cy="1253.4" r="2.1"/>
<circle cx="566.5" cy="1254.6" r="2.1"/>
<circle cx="587.9" cy="1274.2" r="2.1"/>
<circle cx="581.8" cy="1274.9" r="2.1"/>
<circle cx="584.8" cy="1275.4" r="2.1"/>
<circle cx="598.4" cy="1275.4" r="2.1"/>
<circle cx="604.9" cy="1275.4" r="2.1"/>
<circle cx="600.5" cy="1243.4" r="2.1"/>
<circle cx="595.9" cy="1244.1" r="2.1"/>
<circle cx="578.6" cy="1274.3" r="2.1"/>
<circle cx="580.4" cy="1274.1" r="2.1"/>
<circle cx="600.3" cy="1263.9" r="2.1"/>
<circle cx="587.0" cy="1221.3" r="2.1"/>
<circle cx="605.7" cy="1237.7" r="2.1"/>
<circle cx="586.1" cy="1270.3" r="2.1"/>
<circle cx="596.0" cy="1242.6" r="2.1"/>
<circle cx="587.8" cy="1254.9" r="2.1"/>
<circle cx="582.7" cy="1259.0" r="2.1"/>
<circle cx="572.9" cy="1262.3" r="2.1"/>
<circle cx="571.9" cy="1274.7" r="2.1"/>
<circle cx="571.5" cy="1272.9" r="2.1"/>
<circle cx="563.9" cy="1275.4" r="2.1"/>
<circle cx="590.5" cy="1258.3" r="2.1"/>
<circle cx="588.1" cy="1239.4" r="2.1"/>
<circle cx="565.1" cy="1275.1" r="2.1"/>
<circle cx="593.2" cy="1228.2" r="2.1"/>
<circle cx="603.9" cy="1228.8" r="2.1"/>
<circle cx="579.0" cy="1245.1" r="2.1"/>
<circle cx="595.8" cy="1274.7" r="2.1"/>
<circle cx="592.2" cy="1262.9" r="2.1"/>
<circle cx="568.3" cy="1207.6" r="2.1"/>
<circle cx="597.4" cy="1275.2" r="2.1"/>
<circle cx="565.4" cy="1243.9" r="2.1"/>
<circle cx="588.8" cy="1269.1" r="2.1"/>
<circle cx="587.2" cy="1198.1" r="2.1"/>
<circle cx="604.7" cy="1271.1" r="2.1"/>
<circle cx="588.1" cy="1275.0" r="2.1"/>
<circle cx="575.3" cy="1273.6" r="2.1"/>
<circle cx="564.9" cy="1265.4" r="2.1"/>
<circle cx="571.5" cy="1246.3" r="2.1"/>
<circle cx="587.5" cy="1274.0" r="2.1"/>
<circle cx="588.4" cy="1255.1" r="2.1"/>
<circle cx="574.9" cy="1243.8" r="2.1"/>
<circle cx="591.2" cy="1267.3" r="2.1"/>
<circle cx="583.8" cy="1275.4" r="2.1"/>
<circle cx="593.7" cy="1274.4" r="2.1"/>
<circle cx="582.9" cy="1244.1" r="2.1"/>
<circle cx="562.6" cy="1274.4" r="2.1"/>
<circle cx="598.0" cy="1214.8" r="2.1"/>
<circle cx="582.2" cy="1258.2" r="2.1"/>
<circle cx="578.4" cy="1260.9" r="2.1"/>
<circle cx="565.8" cy="1270.7" r="2.1"/>
<circle cx="589.2" cy="1274.1" r="2.1"/>
<circle cx="595.9" cy="1229.9" r="2.1"/>
<circle cx="563.9" cy="1258.1" r="2.1"/>
<circle cx="581.5" cy="1275.5" r="2.1"/>
<circle cx="567.0" cy="1275.3" r="2.1"/>
<circle cx="572.5" cy="1202.5" r="2.1"/>
<circle cx="576.6" cy="1233.7" r="2.1"/>
<circle cx="570.0" cy="1274.2" r="2.1"/>
<circle cx="592.7" cy="1274.9" r="2.1"/>
<circle cx="581.3" cy="1271.6" r="2.1"/>
<circle cx="592.7" cy="1255.3" r="2.1"/>
<circle cx="584.0" cy="1254.5" r="2.1"/>
<circle cx="568.0" cy="1275.3" r="2.1"/>
<circle cx="572.3" cy="1273.6" r="2.1"/>
<circle cx="584.3" cy="1184.2" r="2.1"/>
<circle cx="571.8" cy="1274.9" r="2.1"/>
<circle cx="600.6" cy="1274.7" r="2.1"/>
<circle cx="568.4" cy="1274.5" r="2.1"/>
<circle cx="597.3" cy="1274.7" r="2.1"/>
<circle cx="602.0" cy="1274.6" r="2.1"/>
<circle cx="575.7" cy="1264.5" r="2.1"/>
<circle cx="591.0" cy="1231.4" r="2.1"/>
<circle cx="583.9" cy="1257.6" r="2.1"/>
<circle cx="564.9" cy="1206.9" r="2.1"/>
<circle cx="581.4" cy="1250.3" r="2.1"/>
<circle cx="585.1" cy="1238.7" r="2.1"/>
<circle cx="584.3" cy="1219.5" r="2.1"/>
<circle cx="580.1" cy="1249.5" r="2.1"/>
<circle cx="588.2" cy="1259.6" r="2.1"/>
<circle cx="589.5" cy="1274.5" r="2.1"/>
<circle cx="590.9" cy="1223.6" r="2.1"/>
<circle cx="571.5" cy="1254.7" r="2.1"/>
<circle cx="579.6" cy="1274.5" r="2.1"/>
<circle cx="571.1" cy="1275.3" r="2.1"/>
<circle cx="603.8" cy="1263.4" r="2.1"/>
<circle cx="577.2" cy="1266.0" r="2.1"/>
<circle cx="562.7" cy="1274.3" r="2.1"/>
<circle cx="568.7" cy="1246.8" r="2.1"/>
<circle cx="568.0" cy="1275.1" r="2.1"/>
<circle cx="565.3" cy="1275.4" r="2.1"/>
<circle cx="565.7" cy="1275.1" r="2.1"/>
<circle cx="598.9" cy="1259.9" r="2.1"/>
<circle cx="568.4" cy="1274.5" r="2.1"/>
<circle cx="572.9" cy="1205.7" r="2.1"/>
<circle cx="598.4" cy="1182.0" r="2.1"/>
<circle cx="563.5" cy="1275.4" r="2.1"/>
<circle cx="569.0" cy="1249.8" r="2.1"/>
<circle cx="586.7" cy="1274.8" r="2.1"/>
<circle cx="577.8" cy="1202.9" r="2.1"/>
<circle cx="576.3" cy="1264.3" r="2.1"/>
<circle cx="577.5" cy="1268.8" r="2.1"/>
<circle cx="571.5" cy="1207.2" r="2.1"/>
<circle cx="584.4" cy="1266.6" r="2.1"/>
<circle cx="569.9" cy="1270.0" r="2.1"/>
<circle cx="589.0" cy="1274.4" r="2.1"/>
<circle cx="584.1" cy="1201.4" r="2.1"/>
<circle cx="592.8" cy="1274.0" r="2.1"/>
<circle cx="597.5" cy="1269.1" r="2.1"/>
<circle cx="568.4" cy="1245.4" r="2.1"/>
<circle cx="595.3" cy="1235.7" r="2.1"/>
<circle cx="569.5" cy="1187.5" r="2.1"/>
<circle cx="589.8" cy="1274.4" r="2.1"/>
<circle cx="576.1" cy="1229.6" r="2.1"/>
<circle cx="604.0" cy="1258.1" r="2.1"/>
<circle cx="582.2" cy="1196.7" r="2.1"/>
<circle cx="563.0" cy="1033.0" r="2.1"/>
<circle cx="579.0" cy="1062.0" r="2.1"/>
<circle cx="588.0" cy="1070.0" r="2.1"/>
<circle cx="596.0" cy="1080.0" r="2.1"/>
<circle cx="576.0" cy="1095.0" r="2.1"/>
<circle cx="588.0" cy="1110.0" r="2.1"/>
<circle cx="570.0" cy="1145.0" r="2.1"/>
<circle cx="588.0" cy="1146.0" r="2.1"/>
<circle cx="590.0" cy="1151.0" r="2.1"/>
<circle cx="584.0" cy="1209.2" r="2.1"/>
<circle cx="650.9" cy="1267.2" r="2.1"/>
<circle cx="655.0" cy="1275.2" r="2.1"/>
<circle cx="663.4" cy="1274.7" r="2.1"/>
<circle cx="665.6" cy="1275.1" r="2.1"/>
<circle cx="670.6" cy="1275.0" r="2.1"/>
<circle cx="639.2" cy="1274.9" r="2.1"/>
<circle cx="670.7" cy="1198.9" r="2.1"/>
<circle cx="657.8" cy="1266.4" r="2.1"/>
<circle cx="669.0" cy="1263.5" r="2.1"/>
<circle cx="662.5" cy="1273.1" r="2.1"/>
<circle cx="664.2" cy="1274.7" r="2.1"/>
<circle cx="658.6" cy="1251.7" r="2.1"/>
<circle cx="662.6" cy="1239.1" r="2.1"/>
<circle cx="642.7" cy="1274.7" r="2.1"/>
<circle cx="645.7" cy="1274.2" r="2.1"/>
<circle cx="670.6" cy="1252.4" r="2.1"/>
<circle cx="655.5" cy="1265.9" r="2.1"/>
<circle cx="636.4" cy="1260.6" r="2.1"/>
<circle cx="673.2" cy="1274.2" r="2.1"/>
<circle cx="651.9" cy="1275.1" r="2.1"/>
<circle cx="639.6" cy="1275.2" r="2.1"/>
<circle cx="657.5" cy="1259.2" r="2.1"/>
<circle cx="650.1" cy="1258.2" r="2.1"/>
<circle cx="650.3" cy="1275.3" r="2.1"/>
<circle cx="671.3" cy="1271.3" r="2.1"/>
<circle cx="652.8" cy="1260.7" r="2.1"/>
<circle cx="659.3" cy="1265.0" r="2.1"/>
<circle cx="642.8" cy="1265.8" r="2.1"/>
<circle cx="657.7" cy="1264.0" r="2.1"/>
<circle cx="643.6" cy="1275.0" r="2.1"/>
<circle cx="669.2" cy="1274.7" r="2.1"/>
<circle cx="656.6" cy="1261.0" r="2.1"/>
<circle cx="632.7" cy="1274.6" r="2.1"/>
<circle cx="668.7" cy="1274.0" r="2.1"/>
<circle cx="634.7" cy="1275.2" r="2.1"/>
<circle cx="668.3" cy="1275.2" r="2.1"/>
<circle cx="671.9" cy="1274.2" r="2.1"/>
<circle cx="664.6" cy="1230.0" r="2.1"/>
<circle cx="665.3" cy="1272.0" r="2.1"/>
<circle cx="649.7" cy="1272.6" r="2.1"/>
<circle cx="641.5" cy="1274.8" r="2.1"/>
<circle cx="659.9" cy="1275.5" r="2.1"/>
<circle cx="659.1" cy="1275.0" r="2.1"/>
<circle cx="673.5" cy="1268.5" r="2.1"/>
<circle cx="665.6" cy="1275.2" r="2.1"/>
<circle cx="665.7" cy="1275.3" r="2.1"/>
<circle cx="645.8" cy="1274.2" r="2.1"/>
<circle cx="654.9" cy="1256.1" r="2.1"/>
<circle cx="647.4" cy="1274.2" r="2.1"/>
<circle cx="665.7" cy="1274.1" r="2.1"/>
<circle cx="649.5" cy="1274.9" r="2.1"/>
<circle cx="664.2" cy="1274.3" r="2.1"/>
<circle cx="647.5" cy="1258.7" r="2.1"/>
<circle cx="664.4" cy="1272.7" r="2.1"/>
<circle cx="646.5" cy="1275.5" r="2.1"/>
<circle cx="645.4" cy="1256.4" r="2.1"/>
<circle cx="635.8" cy="1274.9" r="2.1"/>
<circle cx="666.0" cy="1274.5" r="2.1"/>
<circle cx="653.2" cy="1274.1" r="2.1"/>
<circle cx="670.0" cy="1267.6" r="2.1"/>
<circle cx="644.4" cy="1268.6" r="2.1"/>
<circle cx="650.7" cy="1266.1" r="2.1"/>
<circle cx="650.7" cy="1260.4" r="2.1"/>
<circle cx="668.3" cy="1275.0" r="2.1"/>
<circle cx="658.8" cy="1229.4" r="2.1"/>
<circle cx="632.7" cy="1275.4" r="2.1"/>
<circle cx="667.2" cy="1266.4" r="2.1"/>
<circle cx="634.7" cy="1271.4" r="2.1"/>
<circle cx="666.2" cy="1270.8" r="2.1"/>
<circle cx="639.2" cy="1263.1" r="2.1"/>
<circle cx="636.6" cy="1274.2" r="2.1"/>
<circle cx="672.1" cy="1268.4" r="2.1"/>
<circle cx="638.7" cy="1274.5" r="2.1"/>
<circle cx="639.5" cy="1269.2" r="2.1"/>
<circle cx="663.0" cy="1268.2" r="2.1"/>
<circle cx="671.7" cy="1259.4" r="2.1"/>
<circle cx="633.1" cy="1225.3" r="2.1"/>
<circle cx="639.0" cy="1275.3" r="2.1"/>
<circle cx="635.8" cy="1274.7" r="2.1"/>
<circle cx="642.6" cy="1224.8" r="2.1"/>
<circle cx="666.4" cy="1274.6" r="2.1"/>
<circle cx="655.2" cy="1252.6" r="2.1"/>
<circle cx="674.3" cy="1274.9" r="2.1"/>
<circle cx="659.3" cy="1274.3" r="2.1"/>
<circle cx="648.9" cy="1267.7" r="2.1"/>
<circle cx="653.9" cy="1250.6" r="2.1"/>
<circle cx="642.6" cy="1274.8" r="2.1"/>
<circle cx="648.5" cy="1274.7" r="2.1"/>
<circle cx="669.0" cy="1230.8" r="2.1"/>
<circle cx="647.0" cy="1274.7" r="2.1"/>
<circle cx="656.2" cy="1275.4" r="2.1"/>
<circle cx="640.0" cy="1260.4" r="2.1"/>
<circle cx="661.3" cy="1252.2" r="2.1"/>
<circle cx="653.0" cy="1270.8" r="2.1"/>
<circle cx="631.9" cy="1274.2" r="2.1"/>
<circle cx="635.3" cy="1274.7" r="2.1"/>
<circle cx="649.7" cy="1274.4" r="2.1"/>
<circle cx="673.0" cy="1270.6" r="2.1"/>
<circle cx="640.6" cy="1274.6" r="2.1"/>
<circle cx="631.8" cy="1275.1" r="2.1"/>
<circle cx="666.1" cy="1215.2" r="2.1"/>
<circle cx="660.1" cy="1274.5" r="2.1"/>
<circle cx="661.4" cy="1275.4" r="2.1"/>
<circle cx="671.3" cy="1275.0" r="2.1"/>
<circle cx="664.0" cy="1258.5" r="2.1"/>
<circle cx="631.8" cy="1275.1" r="2.1"/>
<circle cx="653.2" cy="1271.5" r="2.1"/>
<circle cx="664.2" cy="1275.2" r="2.1"/>
<circle cx="657.1" cy="1274.6" r="2.1"/>
<circle cx="636.7" cy="1258.6" r="2.1"/>
<circle cx="665.6" cy="1269.2" r="2.1"/>
<circle cx="671.0" cy="1275.4" r="2.1"/>
<circle cx="674.5" cy="1242.6" r="2.1"/>
<circle cx="641.9" cy="1275.4" r="2.1"/>
<circle cx="661.6" cy="1274.3" r="2.1"/>
<circle cx="647.7" cy="1274.5" r="2.1"/>
<circle cx="636.5" cy="1206.6" r="2.1"/>
<circle cx="669.1" cy="1271.8" r="2.1"/>
<circle cx="664.7" cy="1213.1" r="2.1"/>
<circle cx="674.5" cy="1274.9" r="2.1"/>
<circle cx="652.6" cy="1274.3" r="2.1"/>
<circle cx="668.2" cy="1244.0" r="2.1"/>
<circle cx="637.4" cy="1256.4" r="2.1"/>
<circle cx="649.8" cy="1247.0" r="2.1"/>
<circle cx="673.0" cy="1274.5" r="2.1"/>
<circle cx="665.9" cy="1274.3" r="2.1"/>
<circle cx="656.7" cy="1263.4" r="2.1"/>
<circle cx="669.3" cy="1253.1" r="2.1"/>
<circle cx="658.3" cy="1238.1" r="2.1"/>
<circle cx="632.6" cy="1228.4" r="2.1"/>
<circle cx="642.7" cy="1274.6" r="2.1"/>
<circle cx="644.4" cy="1260.6" r="2.1"/>
<circle cx="639.5" cy="1257.9" r="2.1"/>
<circle cx="663.3" cy="1275.2" r="2.1"/>
<circle cx="668.6" cy="1258.1" r="2.1"/>
<circle cx="648.8" cy="1255.9" r="2.1"/>
<circle cx="661.1" cy="1257.5" r="2.1"/>
<circle cx="642.4" cy="1220.8" r="2.1"/>
<circle cx="652.4" cy="1266.4" r="2.1"/>
<circle cx="667.7" cy="1275.5" r="2.1"/>
<circle cx="644.0" cy="1274.5" r="2.1"/>
<circle cx="656.1" cy="1275.4" r="2.1"/>
<circle cx="654.7" cy="1275.3" r="2.1"/>
<circle cx="642.4" cy="1275.0" r="2.1"/>
<circle cx="673.3" cy="1274.4" r="2.1"/>
<circle cx="639.7" cy="1269.7" r="2.1"/>
<circle cx="638.7" cy="1271.3" r="2.1"/>
<circle cx="634.1" cy="1267.4" r="2.1"/>
<circle cx="643.2" cy="1275.5" r="2.1"/>
<circle cx="644.4" cy="1248.8" r="2.1"/>
<circle cx="656.9" cy="1255.5" r="2.1"/>
<circle cx="639.6" cy="1272.5" r="2.1"/>
<circle cx="663.7" cy="1257.7" r="2.1"/>
<circle cx="672.5" cy="1269.7" r="2.1"/>
<circle cx="644.0" cy="1272.9" r="2.1"/>
<circle cx="659.2" cy="1274.1" r="2.1"/>
<circle cx="637.0" cy="1274.9" r="2.1"/>
<circle cx="649.2" cy="1274.7" r="2.1"/>
<circle cx="665.2" cy="1274.2" r="2.1"/>
<circle cx="671.6" cy="1251.6" r="2.1"/>
<circle cx="663.0" cy="1255.8" r="2.1"/>
<circle cx="631.7" cy="1275.4" r="2.1"/>
<circle cx="647.6" cy="1275.1" r="2.1"/>
<circle cx="661.1" cy="1273.5" r="2.1"/>
<circle cx="652.9" cy="1275.4" r="2.1"/>
<circle cx="662.3" cy="1259.0" r="2.1"/>
<circle cx="671.4" cy="1258.2" r="2.1"/>
<circle cx="660.9" cy="1274.9" r="2.1"/>
<circle cx="659.9" cy="1274.9" r="2.1"/>
<circle cx="664.6" cy="1275.4" r="2.1"/>
<circle cx="647.0" cy="1271.1" r="2.1"/>
<circle cx="668.6" cy="1274.7" r="2.1"/>
<circle cx="659.2" cy="1263.7" r="2.1"/>
<circle cx="635.6" cy="1275.1" r="2.1"/>
<circle cx="633.0" cy="1269.5" r="2.1"/>
<circle cx="659.1" cy="1274.2" r="2.1"/>
<circle cx="663.9" cy="1275.4" r="2.1"/>
<circle cx="659.9" cy="1271.9" r="2.1"/>
<circle cx="672.2" cy="1258.4" r="2.1"/>
<circle cx="642.4" cy="1260.8" r="2.1"/>
<circle cx="638.6" cy="1267.0" r="2.1"/>
<circle cx="670.0" cy="1275.4" r="2.1"/>
<circle cx="650.7" cy="1238.4" r="2.1"/>
<circle cx="657.1" cy="1266.6" r="2.1"/>
<circle cx="632.1" cy="1271.2" r="2.1"/>
<circle cx="670.5" cy="1260.8" r="2.1"/>
<circle cx="664.5" cy="1231.1" r="2.1"/>
<circle cx="651.3" cy="1273.3" r="2.1"/>
<circle cx="642.8" cy="1274.4" r="2.1"/>
<circle cx="656.6" cy="1266.5" r="2.1"/>
<circle cx="661.9" cy="1259.6" r="2.1"/>
<circle cx="671.9" cy="1272.5" r="2.1"/>
<circle cx="643.4" cy="1274.6" r="2.1"/>
<circle cx="635.9" cy="1274.3" r="2.1"/>
<circle cx="641.7" cy="1261.1" r="2.1"/>
<circle cx="636.1" cy="1275.0" r="2.1"/>
<circle cx="638.9" cy="1236.5" r="2.1"/>
<circle cx="657.6" cy="1274.0" r="2.1"/>
<circle cx="650.0" cy="1275.5" r="2.1"/>
<circle cx="665.7" cy="1274.2" r="2.1"/>
<circle cx="642.9" cy="1275.5" r="2.1"/>
<circle cx="641.2" cy="1275.2" r="2.1"/>
<circle cx="670.6" cy="1268.2" r="2.1"/>
<circle cx="652.1" cy="1254.8" r="2.1"/>
<circle cx="649.8" cy="1261.1" r="2.1"/>
<circle cx="670.4" cy="1275.3" r="2.1"/>
<circle cx="665.4" cy="1251.6" r="2.1"/>
<circle cx="640.5" cy="1274.3" r="2.1"/>
<circle cx="664.0" cy="1274.5" r="2.1"/>
<circle cx="655.2" cy="1266.8" r="2.1"/>
<circle cx="668.9" cy="1274.7" r="2.1"/>
<circle cx="654.0" cy="1275.1" r="2.1"/>
<circle cx="638.3" cy="1274.5" r="2.1"/>
<circle cx="665.4" cy="1267.3" r="2.1"/>
<circle cx="644.0" cy="1264.9" r="2.1"/>
<circle cx="658.2" cy="1256.5" r="2.1"/>
<circle cx="663.1" cy="1274.2" r="2.1"/>
<circle cx="671.0" cy="1261.6" r="2.1"/>
<circle cx="645.6" cy="1275.1" r="2.1"/>
<circle cx="636.3" cy="1275.1" r="2.1"/>
<circle cx="668.6" cy="1256.3" r="2.1"/>
<circle cx="673.1" cy="1275.0" r="2.1"/>
<circle cx="673.5" cy="1241.1" r="2.1"/>
<circle cx="673.3" cy="1252.1" r="2.1"/>
<circle cx="656.3" cy="1274.8" r="2.1"/>
<circle cx="640.2" cy="1253.1" r="2.1"/>
<circle cx="659.4" cy="1254.4" r="2.1"/>
<circle cx="632.8" cy="1274.0" r="2.1"/>
<circle cx="651.9" cy="1218.3" r="2.1"/>
<circle cx="672.1" cy="1267.7" r="2.1"/>
<circle cx="650.1" cy="1260.6" r="2.1"/>
<circle cx="645.4" cy="1274.3" r="2.1"/>
<circle cx="655.7" cy="1274.1" r="2.1"/>
<circle cx="632.0" cy="1275.1" r="2.1"/>
<circle cx="663.8" cy="1275.2" r="2.1"/>
<circle cx="634.4" cy="1227.7" r="2.1"/>
<circle cx="669.8" cy="1274.0" r="2.1"/>
<circle cx="653.5" cy="1250.8" r="2.1"/>
<circle cx="652.7" cy="1275.0" r="2.1"/>
<circle cx="672.4" cy="1274.9" r="2.1"/>
<circle cx="652.5" cy="1267.1" r="2.1"/>
<circle cx="659.6" cy="1262.1" r="2.1"/>
<circle cx="664.4" cy="1261.7" r="2.1"/>
<circle cx="649.5" cy="1262.8" r="2.1"/>
<circle cx="669.3" cy="1270.5" r="2.1"/>
<circle cx="659.6" cy="1254.9" r="2.1"/>
<circle cx="656.5" cy="1230.0" r="2.1"/>
<circle cx="635.1" cy="1254.3" r="2.1"/>
<circle cx="647.5" cy="1275.4" r="2.1"/>
<circle cx="639.0" cy="1274.4" r="2.1"/>
<circle cx="633.3" cy="1275.4" r="2.1"/>
<circle cx="647.7" cy="1260.3" r="2.1"/>
<circle cx="643.7" cy="1248.3" r="2.1"/>
<circle cx="659.8" cy="1274.2" r="2.1"/>
<circle cx="664.3" cy="1251.3" r="2.1"/>
<circle cx="658.5" cy="1265.0" r="2.1"/>
<circle cx="662.9" cy="1275.1" r="2.1"/>
<circle cx="639.8" cy="1258.9" r="2.1"/>
<circle cx="669.7" cy="1274.7" r="2.1"/>
<circle cx="652.5" cy="1274.1" r="2.1"/>
<circle cx="646.9" cy="1274.7" r="2.1"/>
<circle cx="633.0" cy="1274.2" r="2.1"/>
<circle cx="646.9" cy="1274.7" r="2.1"/>
<circle cx="651.5" cy="1264.9" r="2.1"/>
<circle cx="634.1" cy="1274.7" r="2.1"/>
<circle cx="642.5" cy="1274.4" r="2.1"/>
<circle cx="632.6" cy="1275.2" r="2.1"/>
<circle cx="663.2" cy="1271.6" r="2.1"/>
<circle cx="658.7" cy="1275.3" r="2.1"/>
<circle cx="638.2" cy="1270.2" r="2.1"/>
<circle cx="652.1" cy="1252.6" r="2.1"/>
<circle cx="658.2" cy="1275.0" r="2.1"/>
<circle cx="668.9" cy="1274.7" r="2.1"/>
<circle cx="649.4" cy="1274.7" r="2.1"/>
<circle cx="635.2" cy="1274.7" r="2.1"/>
<circle cx="671.3" cy="1245.2" r="2.1"/>
<circle cx="657.6" cy="1257.9" r="2.1"/>
<circle cx="661.7" cy="1268.2" r="2.1"/>
<circle cx="633.7" cy="1273.1" r="2.1"/>
<circle cx="662.7" cy="1246.1" r="2.1"/>
<circle cx="671.0" cy="1263.4" r="2.1"/>
<circle cx="633.7" cy="1251.5" r="2.1"/>
<circle cx="651.4" cy="1275.0" r="2.1"/>
<circle cx="674.5" cy="1274.3" r="2.1"/>
<circle cx="645.2" cy="1274.3" r="2.1"/>
<circle cx="646.7" cy="1257.7" r="2.1"/>
<circle cx="645.0" cy="1274.7" r="2.1"/>
<circle cx="670.3" cy="1259.3" r="2.1"/>
<circle cx="661.3" cy="1275.2" r="2.1"/>
<circle cx="657.5" cy="1272.1" r="2.1"/>
<circle cx="649.9" cy="1274.6" r="2.1"/>
<circle cx="635.5" cy="1272.7" r="2.1"/>
<circle cx="667.7" cy="1259.1" r="2.1"/>
<circle cx="649.5" cy="1274.5" r="2.1"/>
<circle cx="644.1" cy="1270.6" r="2.1"/>
<circle cx="632.3" cy="1274.3" r="2.1"/>
<circle cx="642.4" cy="1249.3" r="2.1"/>
<circle cx="650.3" cy="1274.3" r="2.1"/>
<circle cx="671.7" cy="1274.7" r="2.1"/>
<circle cx="655.3" cy="1253.8" r="2.1"/>
<circle cx="633.3" cy="1269.5" r="2.1"/>
<circle cx="643.9" cy="1272.5" r="2.1"/>
<circle cx="633.5" cy="1274.7" r="2.1"/>
<circle cx="668.5" cy="1275.5" r="2.1"/>
<circle cx="632.5" cy="1214.4" r="2.1"/>
<circle cx="652.2" cy="1274.4" r="2.1"/>
<circle cx="671.4" cy="1269.3" r="2.1"/>
<circle cx="656.1" cy="1274.6" r="2.1"/>
<circle cx="673.0" cy="1275.1" r="2.1"/>
<circle cx="662.9" cy="1247.6" r="2.1"/>
<circle cx="636.1" cy="1269.7" r="2.1"/>
<circle cx="642.8" cy="1249.5" r="2.1"/>
<circle cx="635.6" cy="1253.2" r="2.1"/>
<circle cx="664.7" cy="1275.1" r="2.1"/>
<circle cx="650.5" cy="1252.4" r="2.1"/>
<circle cx="637.9" cy="1255.8" r="2.1"/>
<circle cx="670.0" cy="1261.9" r="2.1"/>
<circle cx="652.5" cy="1255.4" r="2.1"/>
<circle cx="671.3" cy="1266.9" r="2.1"/>
<circle cx="658.1" cy="1262.7" r="2.1"/>
<circle cx="642.2" cy="1275.4" r="2.1"/>
<circle cx="670.2" cy="1262.2" r="2.1"/>
<circle cx="657.1" cy="1270.5" r="2.1"/>
<circle cx="652.9" cy="1274.7" r="2.1"/>
<circle cx="633.8" cy="1246.1" r="2.1"/>
<circle cx="657.5" cy="1252.9" r="2.1"/>
<circle cx="665.2" cy="1274.2" r="2.1"/>
<circle cx="642.5" cy="1275.0" r="2.1"/>
<circle cx="660.6" cy="1275.2" r="2.1"/>
<circle cx="645.8" cy="1275.1" r="2.1"/>
<circle cx="663.0" cy="1181.7" r="2.1"/>
<circle cx="652.0" cy="1239.5" r="2.1"/>
<circle cx="772.7" cy="1065.3" r="2.1"/>
<circle cx="742.2" cy="1085.2" r="2.1"/>
<circle cx="762.0" cy="1032.5" r="2.1"/>
<circle cx="752.1" cy="1081.4" r="2.1"/>
<circle cx="749.7" cy="1129.9" r="2.1"/>
<circle cx="759.0" cy="1148.7" r="2.1"/>
<circle cx="760.4" cy="1027.6" r="2.1"/>
<circle cx="739.7" cy="1092.7" r="2.1"/>
<circle cx="744.5" cy="1073.8" r="2.1"/>
<circle cx="760.4" cy="1054.8" r="2.1"/>
<circle cx="770.3" cy="1026.0" r="2.1"/>
<circle cx="771.1" cy="1041.3" r="2.1"/>
<circle cx="760.1" cy="1061.0" r="2.1"/>
<circle cx="775.6" cy="1130.3" r="2.1"/>
<circle cx="744.0" cy="1135.9" r="2.1"/>
<circle cx="739.2" cy="1136.1" r="2.1"/>
<circle cx="741.6" cy="1092.7" r="2.1"/>
<circle cx="752.6" cy="1112.9" r="2.1"/>
<circle cx="771.9" cy="1021.0" r="2.1"/>
<circle cx="764.8" cy="1095.2" r="2.1"/>
<circle cx="741.6" cy="1140.5" r="2.1"/>
<circle cx="775.7" cy="1092.8" r="2.1"/>
<circle cx="739.9" cy="1048.5" r="2.1"/>
<circle cx="765.9" cy="1137.0" r="2.1"/>
<circle cx="759.2" cy="1101.9" r="2.1"/>
<circle cx="738.0" cy="1120.0" r="2.1"/>
<circle cx="771.3" cy="1027.4" r="2.1"/>
<circle cx="756.5" cy="1031.7" r="2.1"/>
<circle cx="775.4" cy="1109.7" r="2.1"/>
<circle cx="766.1" cy="1161.3" r="2.1"/>
<circle cx="741.6" cy="1126.1" r="2.1"/>
<circle cx="769.9" cy="1059.7" r="2.1"/>
<circle cx="765.6" cy="1171.2" r="2.1"/>
<circle cx="743.6" cy="1005.8" r="2.1"/>
<circle cx="809.2" cy="1275.4" r="2.1"/>
<circle cx="826.0" cy="1275.1" r="2.1"/>
<circle cx="831.7" cy="1275.2" r="2.1"/>
<circle cx="808.5" cy="1275.4" r="2.1"/>
<circle cx="838.7" cy="1275.1" r="2.1"/>
<circle cx="832.8" cy="1275.0" r="2.1"/>
<circle cx="842.3" cy="1275.1" r="2.1"/>
<circle cx="831.5" cy="1275.4" r="2.1"/>
<circle cx="814.8" cy="1275.2" r="2.1"/>
<circle cx="824.1" cy="1275.1" r="2.1"/>
<circle cx="821.0" cy="1275.3" r="2.1"/>
<circle cx="825.4" cy="1275.4" r="2.1"/>
<circle cx="823.9" cy="1275.2" r="2.1"/>
<circle cx="807.0" cy="1275.0" r="2.1"/>
<circle cx="811.5" cy="1275.3" r="2.1"/>
<circle cx="805.2" cy="1275.0" r="2.1"/>
<circle cx="814.3" cy="1275.5" r="2.1"/>
<circle cx="809.7" cy="1275.2" r="2.1"/>
<circle cx="842.5" cy="1274.9" r="2.1"/>
<circle cx="812.9" cy="1275.3" r="2.1"/>
<circle cx="823.0" cy="1275.2" r="2.1"/>
<circle cx="825.0" cy="1275.2" r="2.1"/>
<circle cx="822.2" cy="1275.5" r="2.1"/>
<circle cx="821.5" cy="1275.0" r="2.1"/>
<circle cx="805.5" cy="1275.0" r="2.1"/>
<circle cx="825.1" cy="1275.1" r="2.1"/>
<circle cx="811.4" cy="1275.1" r="2.1"/>
<circle cx="805.7" cy="1275.5" r="2.1"/>
<circle cx="841.0" cy="1275.0" r="2.1"/>
<circle cx="843.7" cy="1275.3" r="2.1"/>
<circle cx="811.3" cy="1268.3" r="2.1"/>
<circle cx="916.3" cy="1120.1" r="2.1"/>
<circle cx="945.6" cy="1101.5" r="2.1"/>
<circle cx="931.7" cy="1108.7" r="2.1"/>
<circle cx="917.8" cy="1116.2" r="2.1"/>
<circle cx="918.4" cy="1122.1" r="2.1"/>
<circle cx="942.3" cy="1139.0" r="2.1"/>
<circle cx="916.7" cy="1145.8" r="2.1"/>
<circle cx="945.7" cy="1152.5" r="2.1"/>
<circle cx="919.1" cy="1107.6" r="2.1"/>
<circle cx="915.3" cy="1087.7" r="2.1"/>
<circle cx="928.5" cy="1105.4" r="2.1"/>
<circle cx="935.0" cy="1111.8" r="2.1"/>
<circle cx="914.8" cy="1105.0" r="2.1"/>
<circle cx="947.2" cy="1097.0" r="2.1"/>
<circle cx="941.6" cy="1049.0" r="2.1"/>
<circle cx="929.6" cy="1118.3" r="2.1"/>
<circle cx="926.6" cy="1101.2" r="2.1"/>
<circle cx="908.8" cy="1164.8" r="2.1"/>
<circle cx="912.4" cy="1048.0" r="2.1"/>
<circle cx="936.0" cy="1082.0" r="2.1"/>
<circle cx="932.5" cy="1143.9" r="2.1"/>
<circle cx="915.7" cy="1061.6" r="2.1"/>
<circle cx="919.0" cy="1168.1" r="2.1"/>
<circle cx="937.7" cy="1114.6" r="2.1"/>
<circle cx="949.8" cy="1152.6" r="2.1"/>
<circle cx="926.0" cy="1118.0" r="2.1"/>
<circle cx="923.4" cy="1179.2" r="2.1"/>
<circle cx="930.9" cy="1069.4" r="2.1"/>
<circle cx="941.2" cy="1133.2" r="2.1"/>
<circle cx="935.1" cy="1111.3" r="2.1"/>
<circle cx="922.3" cy="1075.6" r="2.1"/>
<circle cx="948.2" cy="1097.0" r="2.1"/>
<circle cx="918.7" cy="1111.7" r="2.1"/>
<circle cx="932.0" cy="1118.0" r="2.1"/>
<circle cx="910.4" cy="1136.7" r="2.1"/>
<circle cx="926.4" cy="1124.8" r="2.1"/>
<circle cx="916.2" cy="1125.3" r="2.1"/>
<circle cx="948.6" cy="1152.1" r="2.1"/>
<circle cx="920.5" cy="1040.8" r="2.1"/>
<circle cx="945.0" cy="1128.0" r="2.1"/>
<circle cx="913.8" cy="1089.4" r="2.1"/>
<circle cx="911.1" cy="1148.2" r="2.1"/>
<circle cx="928.2" cy="1194.0" r="2.1"/>
<circle cx="933.4" cy="1020.4" r="2.1"/>
<circle cx="1008.8" cy="1275.2" r="2.1"/>
<circle cx="1000.5" cy="1275.1" r="2.1"/>
<circle cx="985.8" cy="1275.0" r="2.1"/>
<circle cx="983.2" cy="1275.1" r="2.1"/>
<circle cx="1017.3" cy="1275.2" r="2.1"/>
<circle cx="983.1" cy="1275.3" r="2.1"/>
<circle cx="995.7" cy="1275.5" r="2.1"/>
<circle cx="1008.6" cy="1274.9" r="2.1"/>
<circle cx="1002.0" cy="1275.2" r="2.1"/>
<circle cx="979.7" cy="1275.1" r="2.1"/>
<circle cx="989.9" cy="1275.0" r="2.1"/>
<circle cx="985.5" cy="1275.3" r="2.1"/>
<circle cx="1016.5" cy="1275.2" r="2.1"/>
<circle cx="976.8" cy="1275.4" r="2.1"/>
<circle cx="990.9" cy="1275.4" r="2.1"/>
<circle cx="1010.3" cy="1275.5" r="2.1"/>
<circle cx="1004.4" cy="1275.3" r="2.1"/>
<circle cx="1016.7" cy="1275.5" r="2.1"/>
<circle cx="1003.0" cy="1275.1" r="2.1"/>
<circle cx="1013.5" cy="1275.1" r="2.1"/>
<circle cx="1003.3" cy="1275.4" r="2.1"/>
<circle cx="1013.5" cy="1274.9" r="2.1"/>
<circle cx="1007.8" cy="1275.0" r="2.1"/>
<circle cx="982.8" cy="1275.1" r="2.1"/>
<circle cx="986.4" cy="1275.2" r="2.1"/>
<circle cx="977.0" cy="1275.5" r="2.1"/>
<circle cx="981.9" cy="1275.5" r="2.1"/>
<circle cx="982.2" cy="1275.2" r="2.1"/>
<circle cx="980.5" cy="1275.1" r="2.1"/>
<circle cx="981.4" cy="1275.4" r="2.1"/>
<circle cx="982.1" cy="1275.2" r="2.1"/>
<circle cx="999.7" cy="1275.4" r="2.1"/>
<circle cx="1004.2" cy="1275.1" r="2.1"/>
<circle cx="1005.8" cy="1275.5" r="2.1"/>
<circle cx="1017.6" cy="1275.0" r="2.1"/>
<circle cx="978.4" cy="1275.5" r="2.1"/>
<circle cx="1018.5" cy="1275.5" r="2.1"/>
<circle cx="1004.1" cy="1275.0" r="2.1"/>
<circle cx="990.6" cy="1275.3" r="2.1"/>
<circle cx="1000.4" cy="1275.5" r="2.1"/>
<circle cx="996.1" cy="1209.2" r="2.1"/>
<circle cx="990.5" cy="1237.0" r="2.1"/>
<circle cx="1004.4" cy="1270.6" r="2.1"/>
</g></g>
<path d="M181.80,1275.50H187.30M181.80,1204.80H187.30M181.80,1134.10H187.30M181.80,1063.40H187.30M181.80,992.70H187.30M181.80,922.00H187.30M181.80,851.30H187.30M181.80,780.60H187.30M273.58,1275.50V1281.00M446.14,1275.50V1281.00M618.70,1275.50V1281.00M791.26,1275.50V1281.00M963.82,1275.50V1281.00" stroke="#000" stroke-width="1.6" fill="none"/>
<rect x="187.30" y="745.80" width="862.80" height="529.70" fill="none" stroke="#000" stroke-width="1.6"/>
<rect x="535.90" y="763.40" width="496.90" height="112.60" rx="5" ry="5" fill="#fff" fill-opacity="0.8" stroke="#d4d4d4" stroke-width="1.6"/>
<rect x="549.80" y="779.00" width="70.20" height="24.80" fill="#3274a1" stroke="#2a5a7e" stroke-width="1.2"/>
<rect x="549.80" y="830.00" width="70.20" height="25.20" fill="#e1812c" stroke="#8a5020" stroke-width="1.2"/>
</g>
<clipPath id="cC"><rect x="198.1" y="1447.3" width="854.4" height="554.0"/></clipPath>
<g id="panelC"><g clip-path="url(#cC)">
<path d="M240.82,1912.20V1990.40M240.82,1845.40V1813.30M226.58,1990.40H255.06M226.58,1813.30H255.06" stroke="#2b2b2b" stroke-width="2.3" fill="none"/>
<rect x="212.34" y="1845.40" width="56.96" height="66.80" fill="#3274a1" stroke="#2b2b2b" stroke-width="2.3"/>
<path d="M212.34,1865.90H269.30" stroke="#2b2b2b" stroke-width="2.3"/>
<path d="M297.78,1992.00V2001.30M297.78,1895.50V1807.40M283.54,2001.30H312.02M283.54,1807.40H312.02" stroke="#2b2b2b" stroke-width="2.3" fill="none"/>
<rect x="269.30" y="1895.50" width="56.96" height="96.50" fill="#e1812c" stroke="#2b2b2b" stroke-width="2.3"/>
<path d="M269.30,1953.40H326.26" stroke="#2b2b2b" stroke-width="2.3"/>
<path d="M383.22,1940.10V1995.20M383.22,1872.30V1791.70M368.98,1995.20H397.46M368.98,1791.70H397.46" stroke="#2b2b2b" stroke-width="2.3" fill="none"/>
<rect x="354.74" y="1872.30" width="56.96" height="67.80" fill="#3274a1" stroke="#2b2b2b" stroke-width="2.3"/>
<path d="M354.74,1902.10H411.70" stroke="#2b2b2b" stroke-width="2.3"/>
<path d="M440.18,2001.00V2001.30M440.18,1972.60V1943.90M425.94,2001.30H454.42M425.94,1943.90H454.42" stroke="#2b2b2b" stroke-width="2.3" fill="none"/>
<rect x="411.70" y="1972.60" width="56.96" height="28.40" fill="#e1812c" stroke="#2b2b2b" stroke-width="2.3"/>
<path d="M411.70,1993.60H468.66" stroke="#2b2b2b" stroke-width="2.3"/>
<path d="M525.62,1822.90V1916.80M525.62,1743.20V1664.00M511.38,1916.80H539.86M511.38,1664.00H539.86" stroke="#2b2b2b" stroke-width="2.3" fill="none"/>
<rect x="497.14" y="1743.20" width="56.96" height="79.70" fill="#3274a1" stroke="#2b2b2b" stroke-width="2.3"/>
<path d="M497.14,1780.50H554.10" stroke="#2b2b2b" stroke-width="2.3"/>
<path d="M582.58,2001.30V2001.30M582.58,2000.50V2000.50M568.34,2001.30H596.82M568.34,2000.50H596.82" stroke="#2b2b2b" stroke-width="2.3" fill="none"/>
<rect x="554.10" y="2000.50" width="56.96" height="0.80" fill="#e1812c" stroke="#2b2b2b" stroke-width="2.3"/>
<path d="M554.10,2000.90H611.06" stroke="#2b2b2b" stroke-width="2.3"/>
<path d="M668.02,1824.90V1922.30M668.02,1755.50V1660.40M653.78,1922.30H682.26M653.78,1660.40H682.26" stroke="#2b2b2b" stroke-width="2.3" fill="none"/>
<rect x="639.54" y="1755.50" width="56.96" height="69.40" fill="#3274a1" stroke="#2b2b2b" stroke-width="2.3"/>
<path d="M639.54,1788.80H696.50" stroke="#2b2b2b" stroke-width="2.3"/>
<path d="M724.98,2001.30V2001.30M724.98,2000.50V2000.50M710.74,2001.30H739.22M710.74,2000.50H739.22" stroke="#2b2b2b" stroke-width="2.3" fill="none"/>
<rect x="696.50" y="2000.50" width="56.96" height="0.80" fill="#e1812c" stroke="#2b2b2b" stroke-width="2.3"/>
<path d="M696.50,2000.90H753.46" stroke="#2b2b2b" stroke-width="2.3"/>
<path d="M810.42,1866.50V1934.60M810.42,1786.40V1720.30M796.18,1934.60H824.66M796.18,1720.30H824.66" stroke="#2b2b2b" stroke-width="2.3" fill="none"/>
<rect x="781.94" y="1786.40" width="56.96" height="80.10" fill="#3274a1" stroke="#2b2b2b" stroke-width="2.3"/>
<path d="M781.94,1826.80H838.90" stroke="#2b2b2b" stroke-width="2.3"/>
<path d="M867.38,2001.30V2001.30M867.38,2000.50V2000.50M853.14,2001.30H881.62M853.14,2000.50H881.62" stroke="#2b2b2b" stroke-width="2.3" fill="none"/>
<rect x="838.90" y="2000.50" width="56.96" height="0.80" fill="#e1812c" stroke="#2b2b2b" stroke-width="2.3"/>
<path d="M838.90,2000.90H895.86" stroke="#2b2b2b" stroke-width="2.3"/>
<path d="M952.82,1946.00V2001.30M952.82,1872.80V1785.70M938.58,2001.30H967.06M938.58,1785.70H967.06" stroke="#2b2b2b" stroke-width="2.3" fill="none"/>
<rect x="924.34" y="1872.80" width="56.96" height="73.20" fill="#3274a1" stroke="#2b2b2b" stroke-width="2.3"/>
<path d="M924.34,1900.80H981.30" stroke="#2b2b2b" stroke-width="2.3"/>
<path d="M1009.78,1939.70V2001.30M1009.78,1880.00V1808.70M995.54,2001.30H1024.02M995.54,1808.70H1024.02" stroke="#2b2b2b" stroke-width="2.3" fill="none"/>
<rect x="981.30" y="1880.00" width="56.96" height="59.70" fill="#e1812c" stroke="#2b2b2b" stroke-width="2.3"/>
<path d="M981.30,1910.60H1038.26" stroke="#2b2b2b" stroke-width="2.3"/>
<g fill="#000" fill-opacity="0.42">
<circle cx="230.5" cy="1816.7" r="2.1"/>
<circle cx="235.8" cy="1831.1" r="2.1"/>
<circle cx="232.6" cy="1840.7" r="2.1"/>
<circle cx="237.9" cy="1841.7" r="2.1"/>
<circle cx="251.2" cy="1840.7" r="2.1"/>
<circle cx="227.8" cy="1851.8" r="2.1"/>
<circle cx="226.7" cy="1859.8" r="2.1"/>
<circle cx="233.9" cy="1861.1" r="2.1"/>
<circle cx="240.6" cy="1865.7" r="2.1"/>
<circle cx="258.7" cy="1851.3" r="2.1"/>
<circle cx="224.6" cy="1882.4" r="2.1"/>
<circle cx="231.8" cy="1879.8" r="2.1"/>
<circle cx="252.0" cy="1887.5" r="2.1"/>
<circle cx="255.2" cy="1910.4" r="2.1"/>
<circle cx="223.3" cy="1930.6" r="2.1"/>
<circle cx="232.1" cy="1931.1" r="2.1"/>
<circle cx="230.7" cy="1937.0" r="2.1"/>
<circle cx="252.5" cy="1927.6" r="2.1"/>
<circle cx="256.5" cy="1961.4" r="2.1"/>
<circle cx="251.0" cy="1681.0" r="2.1"/>
<circle cx="229.0" cy="1990.4" r="2.1"/>
<circle cx="246.0" cy="1813.3" r="2.1"/>
<circle cx="315.3" cy="1807.4" r="2.1"/>
<circle cx="306.5" cy="1833.2" r="2.1"/>
<circle cx="305.2" cy="1837.7" r="2.1"/>
<circle cx="289.0" cy="1848.1" r="2.1"/>
<circle cx="295.9" cy="1855.8" r="2.1"/>
<circle cx="304.4" cy="1874.4" r="2.1"/>
<circle cx="298.3" cy="1880.6" r="2.1"/>
<circle cx="303.1" cy="1921.0" r="2.1"/>
<circle cx="307.1" cy="1927.6" r="2.1"/>
<circle cx="312.9" cy="1926.3" r="2.1"/>
<circle cx="295.9" cy="1948.1" r="2.1"/>
<circle cx="311.9" cy="1948.9" r="2.1"/>
<circle cx="301.8" cy="1953.7" r="2.1"/>
<circle cx="290.6" cy="1965.4" r="2.1"/>
<circle cx="283.1" cy="1972.3" r="2.1"/>
<circle cx="281.3" cy="1977.1" r="2.1"/>
<circle cx="282.1" cy="1975.5" r="2.1"/>
<circle cx="314.3" cy="1981.4" r="2.1"/>
<circle cx="282.1" cy="1988.3" r="2.1"/>
<circle cx="288.4" cy="1993.6" r="2.1"/>
<circle cx="287.1" cy="2000.8" r="2.1"/>
<circle cx="315.0" cy="2000.8" r="2.1"/>
<circle cx="372.4" cy="1961.6" r="2.1"/>
<circle cx="368.7" cy="1948.6" r="2.1"/>
<circle cx="368.1" cy="1909.4" r="2.1"/>
<circle cx="373.7" cy="1901.0" r="2.1"/>
<circle cx="393.3" cy="1926.7" r="2.1"/>
<circle cx="378.9" cy="1953.9" r="2.1"/>
<circle cx="373.0" cy="1934.2" r="2.1"/>
<circle cx="398.2" cy="1876.7" r="2.1"/>
<circle cx="375.4" cy="1938.0" r="2.1"/>
<circle cx="379.9" cy="1891.4" r="2.1"/>
<circle cx="388.9" cy="1975.1" r="2.1"/>
<circle cx="366.8" cy="1921.9" r="2.1"/>
<circle cx="386.9" cy="1906.6" r="2.1"/>
<circle cx="381.4" cy="1892.0" r="2.1"/>
<circle cx="374.7" cy="1887.6" r="2.1"/>
<circle cx="378.5" cy="1949.7" r="2.1"/>
<circle cx="395.7" cy="1897.2" r="2.1"/>
<circle cx="389.0" cy="1960.8" r="2.1"/>
<circle cx="390.3" cy="1878.1" r="2.1"/>
<circle cx="367.8" cy="1951.5" r="2.1"/>
<circle cx="386.2" cy="1859.1" r="2.1"/>
<circle cx="399.1" cy="1839.3" r="2.1"/>
<circle cx="387.0" cy="1908.1" r="2.1"/>
<circle cx="390.7" cy="1924.9" r="2.1"/>
<circle cx="383.8" cy="1962.8" r="2.1"/>
<circle cx="388.8" cy="1936.6" r="2.1"/>
<circle cx="401.4" cy="1945.1" r="2.1"/>
<circle cx="383.1" cy="1980.6" r="2.1"/>
<circle cx="397.9" cy="1934.4" r="2.1"/>
<circle cx="382.5" cy="1963.6" r="2.1"/>
<circle cx="371.4" cy="1944.0" r="2.1"/>
<circle cx="373.6" cy="1989.4" r="2.1"/>
<circle cx="383.8" cy="1861.0" r="2.1"/>
<circle cx="375.6" cy="1962.4" r="2.1"/>
<circle cx="380.8" cy="1944.2" r="2.1"/>
<circle cx="378.2" cy="1942.6" r="2.1"/>
<circle cx="387.9" cy="1895.0" r="2.1"/>
<circle cx="401.2" cy="1880.3" r="2.1"/>
<circle cx="385.1" cy="1857.6" r="2.1"/>
<circle cx="392.8" cy="1827.9" r="2.1"/>
<circle cx="378.1" cy="1848.7" r="2.1"/>
<circle cx="380.6" cy="1912.1" r="2.1"/>
<circle cx="369.4" cy="1975.6" r="2.1"/>
<circle cx="382.2" cy="1828.1" r="2.1"/>
<circle cx="375.9" cy="1865.8" r="2.1"/>
<circle cx="380.8" cy="1944.9" r="2.1"/>
<circle cx="381.2" cy="1965.5" r="2.1"/>
<circle cx="376.0" cy="1924.2" r="2.1"/>
<circle cx="391.1" cy="1865.1" r="2.1"/>
<circle cx="378.0" cy="1966.5" r="2.1"/>
<circle cx="367.6" cy="1969.8" r="2.1"/>
<circle cx="372.4" cy="1856.7" r="2.1"/>
<circle cx="367.2" cy="1975.9" r="2.1"/>
<circle cx="386.9" cy="1862.5" r="2.1"/>
<circle cx="379.6" cy="1882.0" r="2.1"/>
<circle cx="387.2" cy="1924.9" r="2.1"/>
<circle cx="397.2" cy="1892.6" r="2.1"/>
<circle cx="389.4" cy="1844.6" r="2.1"/>
<circle cx="393.9" cy="1833.1" r="2.1"/>
<circle cx="397.7" cy="1955.8" r="2.1"/>
<circle cx="369.1" cy="1880.3" r="2.1"/>
<circle cx="373.8" cy="1943.8" r="2.1"/>
<circle cx="369.4" cy="1881.2" r="2.1"/>
<circle cx="397.6" cy="1832.1" r="2.1"/>
<circle cx="370.7" cy="1885.2" r="2.1"/>
<circle cx="401.0" cy="1915.1" r="2.1"/>
<circle cx="394.8" cy="1864.6" r="2.1"/>
<circle cx="399.2" cy="1864.7" r="2.1"/>
<circle cx="365.4" cy="1829.7" r="2.1"/>
<circle cx="368.6" cy="1816.0" r="2.1"/>
<circle cx="371.9" cy="1825.3" r="2.1"/>
<circle cx="388.4" cy="1952.7" r="2.1"/>
<circle cx="380.7" cy="1887.3" r="2.1"/>
<circle cx="380.6" cy="1937.0" r="2.1"/>
<circle cx="377.5" cy="1943.4" r="2.1"/>
<circle cx="383.6" cy="1873.4" r="2.1"/>
<circle cx="389.6" cy="1899.9" r="2.1"/>
<circle cx="393.5" cy="1930.9" r="2.1"/>
<circle cx="393.2" cy="1932.8" r="2.1"/>
<circle cx="392.1" cy="1869.3" r="2.1"/>
<circle cx="374.5" cy="1877.3" r="2.1"/>
<circle cx="372.7" cy="1874.8" r="2.1"/>
<circle cx="394.7" cy="1854.7" r="2.1"/>
<circle cx="372.7" cy="1909.9" r="2.1"/>
<circle cx="372.0" cy="1884.9" r="2.1"/>
<circle cx="398.9" cy="1955.1" r="2.1"/>
<circle cx="391.7" cy="1874.8" r="2.1"/>
<circle cx="389.6" cy="1906.2" r="2.1"/>
<circle cx="371.6" cy="1883.2" r="2.1"/>
<circle cx="398.2" cy="1888.5" r="2.1"/>
<circle cx="373.9" cy="1925.3" r="2.1"/>
<circle cx="399.2" cy="1853.2" r="2.1"/>
<circle cx="389.3" cy="1973.2" r="2.1"/>
<circle cx="377.0" cy="1858.1" r="2.1"/>
<circle cx="388.4" cy="1893.4" r="2.1"/>
<circle cx="370.9" cy="1843.2" r="2.1"/>
<circle cx="395.5" cy="1875.1" r="2.1"/>
<circle cx="367.8" cy="1888.9" r="2.1"/>
<circle cx="366.7" cy="1892.5" r="2.1"/>
<circle cx="369.5" cy="1954.9" r="2.1"/>
<circle cx="400.1" cy="1887.9" r="2.1"/>
<circle cx="381.9" cy="1966.3" r="2.1"/>
<circle cx="374.1" cy="1941.9" r="2.1"/>
<circle cx="378.9" cy="1963.5" r="2.1"/>
<circle cx="373.5" cy="1898.5" r="2.1"/>
<circle cx="378.9" cy="1901.6" r="2.1"/>
<circle cx="377.0" cy="1906.3" r="2.1"/>
<circle cx="373.9" cy="1797.9" r="2.1"/>
<circle cx="383.9" cy="1945.9" r="2.1"/>
<circle cx="379.1" cy="1944.9" r="2.1"/>
<circle cx="367.2" cy="1943.4" r="2.1"/>
<circle cx="377.8" cy="1916.7" r="2.1"/>
<circle cx="392.4" cy="1886.4" r="2.1"/>
<circle cx="392.4" cy="1947.4" r="2.1"/>
<circle cx="395.8" cy="1969.8" r="2.1"/>
<circle cx="384.2" cy="1887.9" r="2.1"/>
<circle cx="380.7" cy="1935.8" r="2.1"/>
<circle cx="379.2" cy="1917.2" r="2.1"/>
<circle cx="384.6" cy="1941.3" r="2.1"/>
<circle cx="385.6" cy="1940.2" r="2.1"/>
<circle cx="399.0" cy="1995.2" r="2.1"/>
<circle cx="389.4" cy="1791.7" r="2.1"/>
<circle cx="390.4" cy="1657.4" r="2.1"/>
<circle cx="370.4" cy="1675.7" r="2.1"/>
<circle cx="400.5" cy="1732.2" r="2.1"/>
<circle cx="368.0" cy="1752.5" r="2.1"/>
<circle cx="365.6" cy="1764.4" r="2.1"/>
<circle cx="389.1" cy="1769.2" r="2.1"/>
<circle cx="399.2" cy="1766.0" r="2.1"/>
<circle cx="424.6" cy="2000.5" r="2.1"/>
<circle cx="431.0" cy="1994.4" r="2.1"/>
<circle cx="446.9" cy="1996.8" r="2.1"/>
<circle cx="421.8" cy="1994.6" r="2.1"/>
<circle cx="446.6" cy="1984.9" r="2.1"/>
<circle cx="448.5" cy="2000.6" r="2.1"/>
<circle cx="452.2" cy="2000.5" r="2.1"/>
<circle cx="430.6" cy="1992.1" r="2.1"/>
<circle cx="453.1" cy="2000.5" r="2.1"/>
<circle cx="458.0" cy="2000.7" r="2.1"/>
<circle cx="455.0" cy="1995.2" r="2.1"/>
<circle cx="421.7" cy="1978.2" r="2.1"/>
<circle cx="421.7" cy="1999.0" r="2.1"/>
<circle cx="451.7" cy="1981.3" r="2.1"/>
<circle cx="446.6" cy="2001.0" r="2.1"/>
<circle cx="437.0" cy="1975.8" r="2.1"/>
<circle cx="435.4" cy="1992.6" r="2.1"/>
<circle cx="456.1" cy="1998.8" r="2.1"/>
<circle cx="455.2" cy="1972.7" r="2.1"/>
<circle cx="448.4" cy="2000.4" r="2.1"/>
<circle cx="425.2" cy="2001.2" r="2.1"/>
<circle cx="433.4" cy="1991.0" r="2.1"/>
<circle cx="431.5" cy="2001.2" r="2.1"/>
<circle cx="456.3" cy="2000.4" r="2.1"/>
<circle cx="456.1" cy="2001.1" r="2.1"/>
<circle cx="451.8" cy="1998.5" r="2.1"/>
<circle cx="451.9" cy="1995.0" r="2.1"/>
<circle cx="434.1" cy="2000.7" r="2.1"/>
<circle cx="437.9" cy="1983.0" r="2.1"/>
<circle cx="452.3" cy="1954.6" r="2.1"/>
<circle cx="434.0" cy="1969.5" r="2.1"/>
<circle cx="423.8" cy="1963.3" r="2.1"/>
<circle cx="437.8" cy="1966.0" r="2.1"/>
<circle cx="442.4" cy="1972.8" r="2.1"/>
<circle cx="425.5" cy="1998.8" r="2.1"/>
<circle cx="424.2" cy="2001.3" r="2.1"/>
<circle cx="440.9" cy="1996.2" r="2.1"/>
<circle cx="455.4" cy="1990.7" r="2.1"/>
<circle cx="444.0" cy="1953.7" r="2.1"/>
<circle cx="453.2" cy="1995.7" r="2.1"/>
<circle cx="425.6" cy="2001.2" r="2.1"/>
<circle cx="421.7" cy="2000.6" r="2.1"/>
<circle cx="443.5" cy="1961.8" r="2.1"/>
<circle cx="423.5" cy="1998.6" r="2.1"/>
<circle cx="439.9" cy="1972.4" r="2.1"/>
<circle cx="452.2" cy="2001.2" r="2.1"/>
<circle cx="449.4" cy="1998.2" r="2.1"/>
<circle cx="441.3" cy="2001.0" r="2.1"/>
<circle cx="444.3" cy="1997.1" r="2.1"/>
<circle cx="431.8" cy="2000.6" r="2.1"/>
<circle cx="432.9" cy="1994.9" r="2.1"/>
<circle cx="445.8" cy="1965.6" r="2.1"/>
<circle cx="422.9" cy="1953.5" r="2.1"/>
<circle cx="433.0" cy="2000.3" r="2.1"/>
<circle cx="444.7" cy="1995.7" r="2.1"/>
<circle cx="443.0" cy="1977.9" r="2.1"/>
<circle cx="440.5" cy="2000.6" r="2.1"/>
<circle cx="436.3" cy="2000.9" r="2.1"/>
<circle cx="450.1" cy="1995.4" r="2.1"/>
<circle cx="423.7" cy="2000.3" r="2.1"/>
<circle cx="440.1" cy="1973.9" r="2.1"/>
<circle cx="436.6" cy="1985.1" r="2.1"/>
<circle cx="436.6" cy="1946.0" r="2.1"/>
<circle cx="450.7" cy="1970.1" r="2.1"/>
<circle cx="432.2" cy="2000.4" r="2.1"/>
<circle cx="452.3" cy="2000.7" r="2.1"/>
<circle cx="457.9" cy="1984.7" r="2.1"/>
<circle cx="431.4" cy="1998.4" r="2.1"/>
<circle cx="434.1" cy="1995.0" r="2.1"/>
<circle cx="446.9" cy="1983.5" r="2.1"/>
<circle cx="456.6" cy="1965.3" r="2.1"/>
<circle cx="441.4" cy="2001.1" r="2.1"/>
<circle cx="442.4" cy="2000.8" r="2.1"/>
<circle cx="434.2" cy="2001.1" r="2.1"/>
<circle cx="422.9" cy="1954.4" r="2.1"/>
<circle cx="446.2" cy="1993.7" r="2.1"/>
<circle cx="426.5" cy="1982.3" r="2.1"/>
<circle cx="424.8" cy="1997.5" r="2.1"/>
<circle cx="444.1" cy="1993.2" r="2.1"/>
<circle cx="448.6" cy="1966.5" r="2.1"/>
<circle cx="426.1" cy="1966.7" r="2.1"/>
<circle cx="452.8" cy="2000.7" r="2.1"/>
<circle cx="422.3" cy="2000.3" r="2.1"/>
<circle cx="458.5" cy="1962.5" r="2.1"/>
<circle cx="455.8" cy="1953.5" r="2.1"/>
<circle cx="438.7" cy="1969.3" r="2.1"/>
<circle cx="456.1" cy="1990.5" r="2.1"/>
<circle cx="431.4" cy="2001.2" r="2.1"/>
<circle cx="457.5" cy="2001.1" r="2.1"/>
<circle cx="426.9" cy="2001.2" r="2.1"/>
<circle cx="453.4" cy="1991.4" r="2.1"/>
<circle cx="424.9" cy="1998.6" r="2.1"/>
<circle cx="431.6" cy="1980.3" r="2.1"/>
<circle cx="428.5" cy="2001.2" r="2.1"/>
<circle cx="424.6" cy="2000.2" r="2.1"/>
<circle cx="457.6" cy="1984.8" r="2.1"/>
<circle cx="427.6" cy="2000.7" r="2.1"/>
<circle cx="431.5" cy="1988.7" r="2.1"/>
<circle cx="448.4" cy="1972.5" r="2.1"/>
<circle cx="443.9" cy="1995.3" r="2.1"/>
<circle cx="456.5" cy="2001.1" r="2.1"/>
<circle cx="445.1" cy="1970.6" r="2.1"/>
<circle cx="451.8" cy="1998.5" r="2.1"/>
<circle cx="424.1" cy="2000.6" r="2.1"/>
<circle cx="426.0" cy="2001.3" r="2.1"/>
<circle cx="456.4" cy="1958.1" r="2.1"/>
<circle cx="453.1" cy="1971.8" r="2.1"/>
<circle cx="450.6" cy="1999.3" r="2.1"/>
<circle cx="448.4" cy="2000.9" r="2.1"/>
<circle cx="452.3" cy="1977.3" r="2.1"/>
<circle cx="441.0" cy="1993.5" r="2.1"/>
<circle cx="444.9" cy="1996.3" r="2.1"/>
<circle cx="427.9" cy="1994.6" r="2.1"/>
<circle cx="456.9" cy="2000.7" r="2.1"/>
<circle cx="450.0" cy="2000.6" r="2.1"/>
<circle cx="444.7" cy="1994.5" r="2.1"/>
<circle cx="440.0" cy="1990.6" r="2.1"/>
<circle cx="442.4" cy="1993.8" r="2.1"/>
<circle cx="455.0" cy="1976.9" r="2.1"/>
<circle cx="451.2" cy="2001.1" r="2.1"/>
<circle cx="432.9" cy="1875.0" r="2.1"/>
<circle cx="436.6" cy="1895.0" r="2.1"/>
<circle cx="438.5" cy="1918.6" r="2.1"/>
<circle cx="443.0" cy="1926.6" r="2.1"/>
<circle cx="425.5" cy="1929.8" r="2.1"/>
<circle cx="445.0" cy="1943.9" r="2.1"/>
<circle cx="508.9" cy="1815.1" r="2.1"/>
<circle cx="514.4" cy="1761.2" r="2.1"/>
<circle cx="518.3" cy="1737.9" r="2.1"/>
<circle cx="540.5" cy="1841.6" r="2.1"/>
<circle cx="518.3" cy="1738.1" r="2.1"/>
<circle cx="529.6" cy="1860.0" r="2.1"/>
<circle cx="512.9" cy="1763.1" r="2.1"/>
<circle cx="519.3" cy="1782.8" r="2.1"/>
<circle cx="537.3" cy="1754.4" r="2.1"/>
<circle cx="537.6" cy="1766.8" r="2.1"/>
<circle cx="529.6" cy="1784.9" r="2.1"/>
<circle cx="524.8" cy="1817.3" r="2.1"/>
<circle cx="509.7" cy="1813.6" r="2.1"/>
<circle cx="543.2" cy="1890.5" r="2.1"/>
<circle cx="508.5" cy="1768.8" r="2.1"/>
<circle cx="539.4" cy="1724.2" r="2.1"/>
<circle cx="513.1" cy="1800.9" r="2.1"/>
<circle cx="507.3" cy="1764.2" r="2.1"/>
<circle cx="515.0" cy="1781.0" r="2.1"/>
<circle cx="533.1" cy="1758.4" r="2.1"/>
<circle cx="516.6" cy="1898.2" r="2.1"/>
<circle cx="532.1" cy="1718.8" r="2.1"/>
<circle cx="517.9" cy="1844.0" r="2.1"/>
<circle cx="519.5" cy="1825.2" r="2.1"/>
<circle cx="529.7" cy="1779.8" r="2.1"/>
<circle cx="537.5" cy="1777.1" r="2.1"/>
<circle cx="540.3" cy="1755.0" r="2.1"/>
<circle cx="528.3" cy="1774.3" r="2.1"/>
<circle cx="535.3" cy="1808.5" r="2.1"/>
<circle cx="507.5" cy="1868.7" r="2.1"/>
<circle cx="522.8" cy="1820.5" r="2.1"/>
<circle cx="522.8" cy="1862.3" r="2.1"/>
<circle cx="511.2" cy="1773.6" r="2.1"/>
<circle cx="526.5" cy="1856.0" r="2.1"/>
<circle cx="539.5" cy="1737.9" r="2.1"/>
<circle cx="508.9" cy="1693.7" r="2.1"/>
<circle cx="541.8" cy="1778.5" r="2.1"/>
<circle cx="520.0" cy="1845.3" r="2.1"/>
<circle cx="528.6" cy="1848.9" r="2.1"/>
<circle cx="508.7" cy="1827.6" r="2.1"/>
<circle cx="513.2" cy="1785.1" r="2.1"/>
<circle cx="522.2" cy="1800.9" r="2.1"/>
<circle cx="519.5" cy="1727.6" r="2.1"/>
<circle cx="534.7" cy="1739.8" r="2.1"/>
<circle cx="526.3" cy="1757.4" r="2.1"/>
<circle cx="529.2" cy="1812.7" r="2.1"/>
<circle cx="534.8" cy="1795.6" r="2.1"/>
<circle cx="509.8" cy="1760.0" r="2.1"/>
<circle cx="518.2" cy="1804.8" r="2.1"/>
<circle cx="529.2" cy="1806.1" r="2.1"/>
<circle cx="531.5" cy="1753.8" r="2.1"/>
<circle cx="535.0" cy="1882.5" r="2.1"/>
<circle cx="538.4" cy="1889.2" r="2.1"/>
<circle cx="509.6" cy="1826.8" r="2.1"/>
<circle cx="536.3" cy="1741.1" r="2.1"/>
<circle cx="518.0" cy="1803.2" r="2.1"/>
<circle cx="529.0" cy="1743.7" r="2.1"/>
<circle cx="526.9" cy="1802.0" r="2.1"/>
<circle cx="533.9" cy="1768.7" r="2.1"/>
<circle cx="525.4" cy="1809.4" r="2.1"/>
<circle cx="524.0" cy="1755.3" r="2.1"/>
<circle cx="524.9" cy="1739.5" r="2.1"/>
<circle cx="541.3" cy="1782.1" r="2.1"/>
<circle cx="538.3" cy="1781.4" r="2.1"/>
<circle cx="537.1" cy="1796.3" r="2.1"/>
<circle cx="512.1" cy="1859.9" r="2.1"/>
<circle cx="519.8" cy="1706.4" r="2.1"/>
<circle cx="527.3" cy="1757.2" r="2.1"/>
<circle cx="542.7" cy="1814.8" r="2.1"/>
<circle cx="514.2" cy="1717.1" r="2.1"/>
<circle cx="542.3" cy="1881.0" r="2.1"/>
<circle cx="519.9" cy="1779.5" r="2.1"/>
<circle cx="509.3" cy="1771.8" r="2.1"/>
<circle cx="513.2" cy="1746.9" r="2.1"/>
<circle cx="511.6" cy="1783.3" r="2.1"/>
<circle cx="542.7" cy="1821.1" r="2.1"/>
<circle cx="522.2" cy="1818.7" r="2.1"/>
<circle cx="513.9" cy="1784.8" r="2.1"/>
<circle cx="531.5" cy="1814.7" r="2.1"/>
<circle cx="524.8" cy="1852.2" r="2.1"/>
<circle cx="523.0" cy="1699.8" r="2.1"/>
<circle cx="517.6" cy="1862.4" r="2.1"/>
<circle cx="513.2" cy="1727.9" r="2.1"/>
<circle cx="538.9" cy="1743.4" r="2.1"/>
<circle cx="510.6" cy="1710.1" r="2.1"/>
<circle cx="513.2" cy="1787.6" r="2.1"/>
<circle cx="526.2" cy="1745.7" r="2.1"/>
<circle cx="536.3" cy="1818.8" r="2.1"/>
<circle cx="519.2" cy="1817.8" r="2.1"/>
<circle cx="541.0" cy="1819.7" r="2.1"/>
<circle cx="538.9" cy="1726.9" r="2.1"/>
<circle cx="511.8" cy="1806.9" r="2.1"/>
<circle cx="516.2" cy="1742.5" r="2.1"/>
<circle cx="536.7" cy="1761.7" r="2.1"/>
<circle cx="542.5" cy="1766.0" r="2.1"/>
<circle cx="532.8" cy="1762.3" r="2.1"/>
<circle cx="535.1" cy="1815.8" r="2.1"/>
<circle cx="509.3" cy="1786.1" r="2.1"/>
<circle cx="512.3" cy="1790.4" r="2.1"/>
<circle cx="526.6" cy="1871.5" r="2.1"/>
<circle cx="525.6" cy="1694.1" r="2.1"/>
<circle cx="518.4" cy="1865.0" r="2.1"/>
<circle cx="527.3" cy="1739.3" r="2.1"/>
<circle cx="512.5" cy="1822.6" r="2.1"/>
<circle cx="543.3" cy="1820.3" r="2.1"/>
<circle cx="509.6" cy="1737.1" r="2.1"/>
<circle cx="513.3" cy="1882.7" r="2.1"/>
<circle cx="522.2" cy="1769.8" r="2.1"/>
<circle cx="537.9" cy="1705.0" r="2.1"/>
<circle cx="521.6" cy="1757.2" r="2.1"/>
<circle cx="529.4" cy="1707.6" r="2.1"/>
<circle cx="538.1" cy="1875.6" r="2.1"/>
<circle cx="527.2" cy="1769.0" r="2.1"/>
<circle cx="528.8" cy="1866.9" r="2.1"/>
<circle cx="511.2" cy="1761.6" r="2.1"/>
<circle cx="520.7" cy="1739.2" r="2.1"/>
<circle cx="535.7" cy="1798.4" r="2.1"/>
<circle cx="528.7" cy="1808.6" r="2.1"/>
<circle cx="541.4" cy="1718.7" r="2.1"/>
<circle cx="525.6" cy="1804.1" r="2.1"/>
<circle cx="528.7" cy="1825.4" r="2.1"/>
<circle cx="521.1" cy="1719.5" r="2.1"/>
<circle cx="512.0" cy="1816.2" r="2.1"/>
<circle cx="516.2" cy="1741.0" r="2.1"/>
<circle cx="537.9" cy="1790.0" r="2.1"/>
<circle cx="537.8" cy="1707.7" r="2.1"/>
<circle cx="523.4" cy="1749.0" r="2.1"/>
<circle cx="521.0" cy="1782.8" r="2.1"/>
<circle cx="531.6" cy="1818.4" r="2.1"/>
<circle cx="535.4" cy="1726.2" r="2.1"/>
<circle cx="519.9" cy="1700.9" r="2.1"/>
<circle cx="529.8" cy="1866.8" r="2.1"/>
<circle cx="537.6" cy="1741.6" r="2.1"/>
<circle cx="523.5" cy="1845.7" r="2.1"/>
<circle cx="533.8" cy="1800.2" r="2.1"/>
<circle cx="517.7" cy="1666.2" r="2.1"/>
<circle cx="530.7" cy="1803.1" r="2.1"/>
<circle cx="530.7" cy="1698.9" r="2.1"/>
<circle cx="541.1" cy="1828.3" r="2.1"/>
<circle cx="531.0" cy="1726.1" r="2.1"/>
<circle cx="523.4" cy="1790.3" r="2.1"/>
<circle cx="533.2" cy="1684.1" r="2.1"/>
<circle cx="543.3" cy="1788.5" r="2.1"/>
<circle cx="514.4" cy="1806.0" r="2.1"/>
<circle cx="535.8" cy="1733.9" r="2.1"/>
<circle cx="512.5" cy="1712.2" r="2.1"/>
<circle cx="522.2" cy="1775.7" r="2.1"/>
<circle cx="533.2" cy="1845.7" r="2.1"/>
<circle cx="513.0" cy="1842.9" r="2.1"/>
<circle cx="540.1" cy="1908.3" r="2.1"/>
<circle cx="529.4" cy="1736.9" r="2.1"/>
<circle cx="542.0" cy="1757.8" r="2.1"/>
<circle cx="524.6" cy="1838.1" r="2.1"/>
<circle cx="517.7" cy="1864.3" r="2.1"/>
<circle cx="526.7" cy="1833.8" r="2.1"/>
<circle cx="523.2" cy="1715.5" r="2.1"/>
<circle cx="520.0" cy="1698.1" r="2.1"/>
<circle cx="530.4" cy="1747.0" r="2.1"/>
<circle cx="532.8" cy="1717.7" r="2.1"/>
<circle cx="513.1" cy="1753.8" r="2.1"/>
<circle cx="522.4" cy="1838.3" r="2.1"/>
<circle cx="529.7" cy="1781.1" r="2.1"/>
<circle cx="522.9" cy="1709.0" r="2.1"/>
<circle cx="514.9" cy="1749.6" r="2.1"/>
<circle cx="519.1" cy="1789.9" r="2.1"/>
<circle cx="541.0" cy="1851.4" r="2.1"/>
<circle cx="529.3" cy="1886.8" r="2.1"/>
<circle cx="507.8" cy="1796.5" r="2.1"/>
<circle cx="529.7" cy="1801.4" r="2.1"/>
<circle cx="540.3" cy="1685.3" r="2.1"/>
<circle cx="516.9" cy="1785.7" r="2.1"/>
<circle cx="526.7" cy="1897.5" r="2.1"/>
<circle cx="509.4" cy="1881.0" r="2.1"/>
<circle cx="533.9" cy="1726.1" r="2.1"/>
<circle cx="542.5" cy="1866.7" r="2.1"/>
<circle cx="526.5" cy="1816.8" r="2.1"/>
<circle cx="517.1" cy="1794.9" r="2.1"/>
<circle cx="507.3" cy="1745.6" r="2.1"/>
<circle cx="519.9" cy="1895.3" r="2.1"/>
<circle cx="540.2" cy="1808.5" r="2.1"/>
<circle cx="533.0" cy="1731.2" r="2.1"/>
<circle cx="534.6" cy="1848.3" r="2.1"/>
<circle cx="524.0" cy="1760.8" r="2.1"/>
<circle cx="509.0" cy="1778.6" r="2.1"/>
<circle cx="524.7" cy="1763.4" r="2.1"/>
<circle cx="526.8" cy="1721.9" r="2.1"/>
<circle cx="533.1" cy="1729.2" r="2.1"/>
<circle cx="537.2" cy="1780.9" r="2.1"/>
<circle cx="516.8" cy="1794.0" r="2.1"/>
<circle cx="535.7" cy="1842.3" r="2.1"/>
<circle cx="518.1" cy="1728.7" r="2.1"/>
<circle cx="531.7" cy="1679.3" r="2.1"/>
<circle cx="528.4" cy="1871.4" r="2.1"/>
<circle cx="539.3" cy="1829.8" r="2.1"/>
<circle cx="534.7" cy="1798.8" r="2.1"/>
<circle cx="517.6" cy="1764.1" r="2.1"/>
<circle cx="533.1" cy="1841.7" r="2.1"/>
<circle cx="522.6" cy="1726.8" r="2.1"/>
<circle cx="508.8" cy="1689.1" r="2.1"/>
<circle cx="529.6" cy="1812.4" r="2.1"/>
<circle cx="530.6" cy="1715.3" r="2.1"/>
<circle cx="534.5" cy="1769.7" r="2.1"/>
<circle cx="530.2" cy="1777.3" r="2.1"/>
<circle cx="534.1" cy="1873.7" r="2.1"/>
<circle cx="509.0" cy="1711.9" r="2.1"/>
<circle cx="538.4" cy="1704.0" r="2.1"/>
<circle cx="526.6" cy="1796.5" r="2.1"/>
<circle cx="523.5" cy="1710.9" r="2.1"/>
<circle cx="517.2" cy="1831.2" r="2.1"/>
<circle cx="533.2" cy="1785.1" r="2.1"/>
<circle cx="515.5" cy="1912.8" r="2.1"/>
<circle cx="520.1" cy="1842.9" r="2.1"/>
<circle cx="519.9" cy="1703.8" r="2.1"/>
<circle cx="516.1" cy="1848.5" r="2.1"/>
<circle cx="522.3" cy="1883.7" r="2.1"/>
<circle cx="523.0" cy="1705.4" r="2.1"/>
<circle cx="536.9" cy="1749.9" r="2.1"/>
<circle cx="530.4" cy="1723.3" r="2.1"/>
<circle cx="528.8" cy="1711.6" r="2.1"/>
<circle cx="514.9" cy="1872.1" r="2.1"/>
<circle cx="533.3" cy="1815.4" r="2.1"/>
<circle cx="531.4" cy="1751.8" r="2.1"/>
<circle cx="522.8" cy="1837.7" r="2.1"/>
<circle cx="512.3" cy="1825.2" r="2.1"/>
<circle cx="510.9" cy="1785.3" r="2.1"/>
<circle cx="526.8" cy="1844.2" r="2.1"/>
<circle cx="524.9" cy="1853.5" r="2.1"/>
<circle cx="524.5" cy="1833.5" r="2.1"/>
<circle cx="534.7" cy="1709.5" r="2.1"/>
<circle cx="536.9" cy="1778.5" r="2.1"/>
<circle cx="526.0" cy="1831.1" r="2.1"/>
<circle cx="529.7" cy="1871.0" r="2.1"/>
<circle cx="532.7" cy="1697.7" r="2.1"/>
<circle cx="542.8" cy="1810.4" r="2.1"/>
<circle cx="515.2" cy="1743.3" r="2.1"/>
<circle cx="509.3" cy="1689.7" r="2.1"/>
<circle cx="529.2" cy="1759.3" r="2.1"/>
<circle cx="540.5" cy="1771.7" r="2.1"/>
<circle cx="528.0" cy="1739.9" r="2.1"/>
<circle cx="516.3" cy="1688.8" r="2.1"/>
<circle cx="531.3" cy="1864.4" r="2.1"/>
<circle cx="511.1" cy="1784.6" r="2.1"/>
<circle cx="509.4" cy="1672.7" r="2.1"/>
<circle cx="535.1" cy="1685.1" r="2.1"/>
<circle cx="535.8" cy="1687.3" r="2.1"/>
<circle cx="524.5" cy="1875.0" r="2.1"/>
<circle cx="532.3" cy="1815.3" r="2.1"/>
<circle cx="539.6" cy="1744.4" r="2.1"/>
<circle cx="538.3" cy="1825.9" r="2.1"/>
<circle cx="526.2" cy="1815.0" r="2.1"/>
<circle cx="531.8" cy="1842.3" r="2.1"/>
<circle cx="537.2" cy="1808.3" r="2.1"/>
<circle cx="519.8" cy="1696.9" r="2.1"/>
<circle cx="528.6" cy="1784.4" r="2.1"/>
<circle cx="524.1" cy="1838.6" r="2.1"/>
<circle cx="533.3" cy="1788.8" r="2.1"/>
<circle cx="531.2" cy="1759.9" r="2.1"/>
<circle cx="508.1" cy="1840.9" r="2.1"/>
<circle cx="515.7" cy="1740.5" r="2.1"/>
<circle cx="541.9" cy="1837.6" r="2.1"/>
<circle cx="537.0" cy="1755.5" r="2.1"/>
<circle cx="534.9" cy="1833.3" r="2.1"/>
<circle cx="520.5" cy="1711.1" r="2.1"/>
<circle cx="530.4" cy="1856.3" r="2.1"/>
<circle cx="529.9" cy="1896.1" r="2.1"/>
<circle cx="538.8" cy="1847.8" r="2.1"/>
<circle cx="509.0" cy="1864.5" r="2.1"/>
<circle cx="513.7" cy="1842.2" r="2.1"/>
<circle cx="513.9" cy="1721.5" r="2.1"/>
<circle cx="513.2" cy="1705.6" r="2.1"/>
<circle cx="513.6" cy="1896.2" r="2.1"/>
<circle cx="539.6" cy="1843.4" r="2.1"/>
<circle cx="513.6" cy="1743.1" r="2.1"/>
<circle cx="531.4" cy="1799.6" r="2.1"/>
<circle cx="515.1" cy="1860.4" r="2.1"/>
<circle cx="542.6" cy="1831.2" r="2.1"/>
<circle cx="535.3" cy="1767.8" r="2.1"/>
<circle cx="508.4" cy="1762.8" r="2.1"/>
<circle cx="524.0" cy="1769.5" r="2.1"/>
<circle cx="531.6" cy="1813.9" r="2.1"/>
<circle cx="528.2" cy="1752.7" r="2.1"/>
<circle cx="512.5" cy="1737.2" r="2.1"/>
<circle cx="542.6" cy="1881.5" r="2.1"/>
<circle cx="520.4" cy="1817.1" r="2.1"/>
<circle cx="529.2" cy="1762.5" r="2.1"/>
<circle cx="507.8" cy="1861.9" r="2.1"/>
<circle cx="517.6" cy="1700.8" r="2.1"/>
<circle cx="513.1" cy="1891.9" r="2.1"/>
<circle cx="540.1" cy="1814.4" r="2.1"/>
<circle cx="532.2" cy="1711.2" r="2.1"/>
<circle cx="514.6" cy="1799.8" r="2.1"/>
<circle cx="524.7" cy="1692.5" r="2.1"/>
<circle cx="539.7" cy="1763.3" r="2.1"/>
<circle cx="513.4" cy="1820.8" r="2.1"/>
<circle cx="508.7" cy="1710.6" r="2.1"/>
<circle cx="531.8" cy="1831.9" r="2.1"/>
<circle cx="539.3" cy="1707.4" r="2.1"/>
<circle cx="529.3" cy="1759.8" r="2.1"/>
<circle cx="519.5" cy="1722.0" r="2.1"/>
<circle cx="537.0" cy="1806.6" r="2.1"/>
<circle cx="517.5" cy="1685.8" r="2.1"/>
<circle cx="519.1" cy="1787.2" r="2.1"/>
<circle cx="509.3" cy="1768.2" r="2.1"/>
<circle cx="539.3" cy="1888.3" r="2.1"/>
<circle cx="543.0" cy="1851.7" r="2.1"/>
<circle cx="522.1" cy="1812.5" r="2.1"/>
<circle cx="510.9" cy="1781.4" r="2.1"/>
<circle cx="531.0" cy="1793.0" r="2.1"/>
<circle cx="513.8" cy="1763.8" r="2.1"/>
<circle cx="508.2" cy="1828.8" r="2.1"/>
<circle cx="518.8" cy="1866.4" r="2.1"/>
<circle cx="507.5" cy="1772.0" r="2.1"/>
<circle cx="532.3" cy="1810.1" r="2.1"/>
<circle cx="507.8" cy="1760.0" r="2.1"/>
<circle cx="517.9" cy="1709.1" r="2.1"/>
<circle cx="518.2" cy="1871.5" r="2.1"/>
<circle cx="511.5" cy="1723.6" r="2.1"/>
<circle cx="538.6" cy="1778.3" r="2.1"/>
<circle cx="538.7" cy="1758.2" r="2.1"/>
<circle cx="519.9" cy="1887.0" r="2.1"/>
<circle cx="518.5" cy="1809.9" r="2.1"/>
<circle cx="511.0" cy="1716.8" r="2.1"/>
<circle cx="535.1" cy="1815.7" r="2.1"/>
<circle cx="528.5" cy="1878.8" r="2.1"/>
<circle cx="537.4" cy="1787.3" r="2.1"/>
<circle cx="542.3" cy="1851.7" r="2.1"/>
<circle cx="527.3" cy="1823.9" r="2.1"/>
<circle cx="534.9" cy="1718.1" r="2.1"/>
<circle cx="517.3" cy="1820.8" r="2.1"/>
<circle cx="508.5" cy="1815.8" r="2.1"/>
<circle cx="532.3" cy="1916.8" r="2.1"/>
<circle cx="513.6" cy="1664.0" r="2.1"/>
<circle cx="526.8" cy="1614.9" r="2.1"/>
<circle cx="508.5" cy="1964.3" r="2.1"/>
<circle cx="538.6" cy="1952.4" r="2.1"/>
<circle cx="534.7" cy="1974.2" r="2.1"/>
<circle cx="567.7" cy="1972.9" r="2.1"/>
<circle cx="568.5" cy="1938.8" r="2.1"/>
<circle cx="595.4" cy="1981.4" r="2.1"/>
<circle cx="582.6" cy="1998.9" r="2.1"/>
<circle cx="591.5" cy="1984.6" r="2.1"/>
<circle cx="575.2" cy="1956.1" r="2.1"/>
<circle cx="590.5" cy="1943.9" r="2.1"/>
<circle cx="589.0" cy="1984.6" r="2.1"/>
<circle cx="586.6" cy="1986.9" r="2.1"/>
<circle cx="601.1" cy="1956.2" r="2.1"/>
<circle cx="568.1" cy="1988.3" r="2.1"/>
<circle cx="586.7" cy="1978.5" r="2.1"/>
<circle cx="599.2" cy="1995.3" r="2.1"/>
<circle cx="587.0" cy="1926.4" r="2.1"/>
<circle cx="574.5" cy="1958.2" r="2.1"/>
<circle cx="569.3" cy="1980.8" r="2.1"/>
<circle cx="570.6" cy="1985.9" r="2.1"/>
<circle cx="586.7" cy="1939.3" r="2.1"/>
<circle cx="574.0" cy="1939.3" r="2.1"/>
<circle cx="583.1" cy="1957.6" r="2.1"/>
<circle cx="597.2" cy="1945.1" r="2.1"/>
<circle cx="588.0" cy="1982.5" r="2.1"/>
<circle cx="597.1" cy="1978.6" r="2.1"/>
<circle cx="597.1" cy="1955.2" r="2.1"/>
<circle cx="567.0" cy="1955.9" r="2.1"/>
<circle cx="598.4" cy="1956.9" r="2.1"/>
<circle cx="586.1" cy="1923.7" r="2.1"/>
<circle cx="583.1" cy="1993.1" r="2.1"/>
<circle cx="590.8" cy="1909.9" r="2.1"/>
<circle cx="571.9" cy="1958.4" r="2.1"/>
<circle cx="587.5" cy="1950.0" r="2.1"/>
<circle cx="574.8" cy="1958.7" r="2.1"/>
<circle cx="583.5" cy="1956.5" r="2.1"/>
<circle cx="594.1" cy="1973.2" r="2.1"/>
<circle cx="593.6" cy="1981.6" r="2.1"/>
<circle cx="599.2" cy="1938.8" r="2.1"/>
<circle cx="572.1" cy="1942.8" r="2.1"/>
<circle cx="568.8" cy="1983.5" r="2.1"/>
<circle cx="567.2" cy="1987.5" r="2.1"/>
<circle cx="586.7" cy="1949.7" r="2.1"/>
<circle cx="574.9" cy="1985.0" r="2.1"/>
<circle cx="583.2" cy="1964.1" r="2.1"/>
<circle cx="570.2" cy="1945.6" r="2.1"/>
<circle cx="584.2" cy="1990.5" r="2.1"/>
<circle cx="580.2" cy="1999.3" r="2.1"/>
<circle cx="571.5" cy="1947.5" r="2.1"/>
<circle cx="567.5" cy="1991.2" r="2.1"/>
<circle cx="575.8" cy="1977.8" r="2.1"/>
<circle cx="574.3" cy="1950.3" r="2.1"/>
<circle cx="600.3" cy="1942.4" r="2.1"/>
<circle cx="581.5" cy="1989.8" r="2.1"/>
<circle cx="581.7" cy="1946.7" r="2.1"/>
<circle cx="585.0" cy="1973.1" r="2.1"/>
<circle cx="584.8" cy="1982.5" r="2.1"/>
<circle cx="592.8" cy="1966.4" r="2.1"/>
<circle cx="599.8" cy="1991.5" r="2.1"/>
<circle cx="594.5" cy="1989.3" r="2.1"/>
<circle cx="582.6" cy="1995.2" r="2.1"/>
<circle cx="595.6" cy="1972.7" r="2.1"/>
<circle cx="585.6" cy="1936.6" r="2.1"/>
<circle cx="579.0" cy="1996.9" r="2.1"/>
<circle cx="575.7" cy="1984.6" r="2.1"/>
<circle cx="572.8" cy="1951.4" r="2.1"/>
<circle cx="574.1" cy="1986.6" r="2.1"/>
<circle cx="572.4" cy="1998.7" r="2.1"/>
<circle cx="568.1" cy="1977.3" r="2.1"/>
<circle cx="599.8" cy="1946.3" r="2.1"/>
<circle cx="595.1" cy="1992.5" r="2.1"/>
<circle cx="575.0" cy="1991.6" r="2.1"/>
<circle cx="574.9" cy="1966.2" r="2.1"/>
<circle cx="592.5" cy="1813.8" r="2.1"/>
<circle cx="574.3" cy="1873.2" r="2.1"/>
<circle cx="567.2" cy="1908.0" r="2.1"/>
<circle cx="574.9" cy="2000.8" r="2.1"/>
<circle cx="580.7" cy="2001.0" r="2.1"/>
<circle cx="573.8" cy="2000.8" r="2.1"/>
<circle cx="596.8" cy="2000.9" r="2.1"/>
<circle cx="592.6" cy="2001.1" r="2.1"/>
<circle cx="566.8" cy="2001.3" r="2.1"/>
<circle cx="573.0" cy="2000.8" r="2.1"/>
<circle cx="589.8" cy="2000.9" r="2.1"/>
<circle cx="598.8" cy="2001.0" r="2.1"/>
<circle cx="593.9" cy="2001.1" r="2.1"/>
<circle cx="570.8" cy="2000.9" r="2.1"/>
<circle cx="566.3" cy="2001.1" r="2.1"/>
<circle cx="568.3" cy="2001.1" r="2.1"/>
<circle cx="569.2" cy="2001.0" r="2.1"/>
<circle cx="598.6" cy="2000.8" r="2.1"/>
<circle cx="583.2" cy="2000.9" r="2.1"/>
<circle cx="594.8" cy="2000.9" r="2.1"/>
<circle cx="574.4" cy="2001.0" r="2.1"/>
<circle cx="599.4" cy="2001.1" r="2.1"/>
<circle cx="565.0" cy="2000.9" r="2.1"/>
<circle cx="583.0" cy="2001.0" r="2.1"/>
<circle cx="579.7" cy="2000.9" r="2.1"/>
<circle cx="568.8" cy="2000.8" r="2.1"/>
<circle cx="572.3" cy="2001.1" r="2.1"/>
<circle cx="591.9" cy="2001.2" r="2.1"/>
<circle cx="571.1" cy="2000.9" r="2.1"/>
<circle cx="599.6" cy="2001.2" r="2.1"/>
<circle cx="586.7" cy="2001.3" r="2.1"/>
<circle cx="577.1" cy="2001.0" r="2.1"/>
<circle cx="569.6" cy="2001.2" r="2.1"/>
<circle cx="590.2" cy="2001.2" r="2.1"/>
<circle cx="576.7" cy="2000.8" r="2.1"/>
<circle cx="579.6" cy="2000.9" r="2.1"/>
<circle cx="567.2" cy="2001.1" r="2.1"/>
<circle cx="599.7" cy="2000.8" r="2.1"/>
<circle cx="581.9" cy="2001.3" r="2.1"/>
<circle cx="564.4" cy="2000.9" r="2.1"/>
<circle cx="568.4" cy="2001.0" r="2.1"/>
<circle cx="592.2" cy="2000.8" r="2.1"/>
<circle cx="590.5" cy="2001.0" r="2.1"/>
<circle cx="681.1" cy="1763.2" r="2.1"/>
<circle cx="658.4" cy="1771.7" r="2.1"/>
<circle cx="662.5" cy="1837.0" r="2.1"/>
<circle cx="666.1" cy="1899.3" r="2.1"/>
<circle cx="661.3" cy="1833.4" r="2.1"/>
<circle cx="672.6" cy="1821.1" r="2.1"/>
<circle cx="654.8" cy="1799.9" r="2.1"/>
<circle cx="664.4" cy="1711.2" r="2.1"/>
<circle cx="684.9" cy="1802.3" r="2.1"/>
<circle cx="660.2" cy="1726.0" r="2.1"/>
<circle cx="665.5" cy="1777.9" r="2.1"/>
<circle cx="657.9" cy="1857.0" r="2.1"/>
<circle cx="655.1" cy="1822.1" r="2.1"/>
<circle cx="675.7" cy="1826.5" r="2.1"/>
<circle cx="686.3" cy="1828.9" r="2.1"/>
<circle cx="670.6" cy="1763.8" r="2.1"/>
<circle cx="672.0" cy="1728.4" r="2.1"/>
<circle cx="654.1" cy="1878.8" r="2.1"/>
<circle cx="661.5" cy="1791.6" r="2.1"/>
<circle cx="657.7" cy="1809.7" r="2.1"/>
<circle cx="651.7" cy="1823.5" r="2.1"/>
<circle cx="650.2" cy="1780.0" r="2.1"/>
<circle cx="657.8" cy="1788.9" r="2.1"/>
<circle cx="676.1" cy="1734.9" r="2.1"/>
<circle cx="680.3" cy="1772.8" r="2.1"/>
<circle cx="671.1" cy="1746.4" r="2.1"/>
<circle cx="666.9" cy="1723.0" r="2.1"/>
<circle cx="666.2" cy="1809.3" r="2.1"/>
<circle cx="656.4" cy="1835.4" r="2.1"/>
<circle cx="677.7" cy="1816.6" r="2.1"/>
<circle cx="684.3" cy="1800.6" r="2.1"/>
<circle cx="683.7" cy="1711.5" r="2.1"/>
<circle cx="655.8" cy="1756.3" r="2.1"/>
<circle cx="670.5" cy="1713.2" r="2.1"/>
<circle cx="686.5" cy="1803.9" r="2.1"/>
<circle cx="684.6" cy="1772.5" r="2.1"/>
<circle cx="678.2" cy="1745.1" r="2.1"/>
<circle cx="655.8" cy="1892.8" r="2.1"/>
<circle cx="658.8" cy="1733.6" r="2.1"/>
<circle cx="653.0" cy="1875.1" r="2.1"/>
<circle cx="672.9" cy="1892.6" r="2.1"/>
<circle cx="671.1" cy="1762.6" r="2.1"/>
<circle cx="682.3" cy="1808.0" r="2.1"/>
<circle cx="677.2" cy="1844.0" r="2.1"/>
<circle cx="654.7" cy="1853.6" r="2.1"/>
<circle cx="674.9" cy="1798.0" r="2.1"/>
<circle cx="656.9" cy="1810.8" r="2.1"/>
<circle cx="683.6" cy="1896.7" r="2.1"/>
<circle cx="653.7" cy="1743.7" r="2.1"/>
<circle cx="678.3" cy="1720.9" r="2.1"/>
<circle cx="670.9" cy="1790.2" r="2.1"/>
<circle cx="657.7" cy="1740.0" r="2.1"/>
<circle cx="683.2" cy="1764.6" r="2.1"/>
<circle cx="661.2" cy="1816.0" r="2.1"/>
<circle cx="656.4" cy="1834.9" r="2.1"/>
<circle cx="675.5" cy="1688.8" r="2.1"/>
<circle cx="683.0" cy="1899.7" r="2.1"/>
<circle cx="660.9" cy="1845.7" r="2.1"/>
<circle cx="674.5" cy="1772.9" r="2.1"/>
<circle cx="676.1" cy="1755.9" r="2.1"/>
<circle cx="663.0" cy="1802.4" r="2.1"/>
<circle cx="677.3" cy="1772.7" r="2.1"/>
<circle cx="659.0" cy="1769.1" r="2.1"/>
<circle cx="652.6" cy="1789.9" r="2.1"/>
<circle cx="650.4" cy="1743.8" r="2.1"/>
<circle cx="659.0" cy="1878.6" r="2.1"/>
<circle cx="685.2" cy="1785.7" r="2.1"/>
<circle cx="678.3" cy="1727.9" r="2.1"/>
<circle cx="665.4" cy="1745.8" r="2.1"/>
<circle cx="662.7" cy="1832.0" r="2.1"/>
<circle cx="679.2" cy="1797.4" r="2.1"/>
<circle cx="657.4" cy="1781.8" r="2.1"/>
<circle cx="670.4" cy="1839.0" r="2.1"/>
<circle cx="683.1" cy="1776.7" r="2.1"/>
<circle cx="661.6" cy="1814.9" r="2.1"/>
<circle cx="680.2" cy="1764.2" r="2.1"/>
<circle cx="683.9" cy="1787.0" r="2.1"/>
<circle cx="654.0" cy="1752.1" r="2.1"/>
<circle cx="680.3" cy="1777.5" r="2.1"/>
<circle cx="672.3" cy="1745.8" r="2.1"/>
<circle cx="658.8" cy="1748.1" r="2.1"/>
<circle cx="663.1" cy="1768.4" r="2.1"/>
<circle cx="680.2" cy="1750.9" r="2.1"/>
<circle cx="683.0" cy="1727.4" r="2.1"/>
<circle cx="665.2" cy="1806.4" r="2.1"/>
<circle cx="686.2" cy="1777.2" r="2.1"/>
<circle cx="685.3" cy="1753.6" r="2.1"/>
<circle cx="663.3" cy="1798.9" r="2.1"/>
<circle cx="668.3" cy="1875.1" r="2.1"/>
<circle cx="679.1" cy="1820.3" r="2.1"/>
<circle cx="683.9" cy="1838.0" r="2.1"/>
<circle cx="686.2" cy="1760.2" r="2.1"/>
<circle cx="674.4" cy="1833.2" r="2.1"/>
<circle cx="686.1" cy="1788.6" r="2.1"/>
<circle cx="671.7" cy="1750.1" r="2.1"/>
<circle cx="649.9" cy="1755.6" r="2.1"/>
<circle cx="670.0" cy="1818.0" r="2.1"/>
<circle cx="673.4" cy="1767.8" r="2.1"/>
<circle cx="653.9" cy="1820.1" r="2.1"/>
<circle cx="674.6" cy="1910.5" r="2.1"/>
<circle cx="652.3" cy="1790.9" r="2.1"/>
<circle cx="663.0" cy="1764.1" r="2.1"/>
<circle cx="677.4" cy="1716.7" r="2.1"/>
<circle cx="662.7" cy="1856.5" r="2.1"/>
<circle cx="681.5" cy="1692.8" r="2.1"/>
<circle cx="669.2" cy="1804.9" r="2.1"/>
<circle cx="676.5" cy="1762.3" r="2.1"/>
<circle cx="682.5" cy="1837.5" r="2.1"/>
<circle cx="653.0" cy="1777.8" r="2.1"/>
<circle cx="675.4" cy="1718.0" r="2.1"/>
<circle cx="661.4" cy="1804.0" r="2.1"/>
<circle cx="652.0" cy="1789.4" r="2.1"/>
<circle cx="683.3" cy="1880.9" r="2.1"/>
<circle cx="649.9" cy="1868.6" r="2.1"/>
<circle cx="680.6" cy="1829.2" r="2.1"/>
<circle cx="680.7" cy="1826.2" r="2.1"/>
<circle cx="658.6" cy="1752.6" r="2.1"/>
<circle cx="653.7" cy="1808.3" r="2.1"/>
<circle cx="682.5" cy="1798.3" r="2.1"/>
<circle cx="683.1" cy="1779.9" r="2.1"/>
<circle cx="677.6" cy="1820.4" r="2.1"/>
<circle cx="662.3" cy="1787.5" r="2.1"/>
<circle cx="658.0" cy="1795.9" r="2.1"/>
<circle cx="654.1" cy="1810.6" r="2.1"/>
<circle cx="653.5" cy="1740.6" r="2.1"/>
<circle cx="676.4" cy="1856.4" r="2.1"/>
<circle cx="666.2" cy="1816.1" r="2.1"/>
<circle cx="663.3" cy="1774.9" r="2.1"/>
<circle cx="674.0" cy="1709.6" r="2.1"/>
<circle cx="684.2" cy="1809.8" r="2.1"/>
<circle cx="663.3" cy="1686.5" r="2.1"/>
<circle cx="680.1" cy="1716.5" r="2.1"/>
<circle cx="684.0" cy="1711.3" r="2.1"/>
<circle cx="652.1" cy="1825.3" r="2.1"/>
<circle cx="659.7" cy="1815.2" r="2.1"/>
<circle cx="672.7" cy="1799.8" r="2.1"/>
<circle cx="668.0" cy="1810.2" r="2.1"/>
<circle cx="674.5" cy="1754.9" r="2.1"/>
<circle cx="658.1" cy="1848.0" r="2.1"/>
<circle cx="660.9" cy="1764.3" r="2.1"/>
<circle cx="664.3" cy="1922.3" r="2.1"/>
<circle cx="650.7" cy="1660.4" r="2.1"/>
<circle cx="653.1" cy="1987.3" r="2.1"/>
<circle cx="715.8" cy="2001.2" r="2.1"/>
<circle cx="728.7" cy="2000.8" r="2.1"/>
<circle cx="721.8" cy="2001.3" r="2.1"/>
<circle cx="713.6" cy="2001.3" r="2.1"/>
<circle cx="727.8" cy="2000.8" r="2.1"/>
<circle cx="706.9" cy="2001.1" r="2.1"/>
<circle cx="709.2" cy="2001.3" r="2.1"/>
<circle cx="712.6" cy="2001.0" r="2.1"/>
<circle cx="720.4" cy="2001.2" r="2.1"/>
<circle cx="726.5" cy="2001.2" r="2.1"/>
<circle cx="721.8" cy="2000.8" r="2.1"/>
<circle cx="721.6" cy="2001.2" r="2.1"/>
<circle cx="734.0" cy="2000.9" r="2.1"/>
<circle cx="736.0" cy="2001.1" r="2.1"/>
<circle cx="716.1" cy="2001.0" r="2.1"/>
<circle cx="735.2" cy="2001.2" r="2.1"/>
<circle cx="721.6" cy="2001.2" r="2.1"/>
<circle cx="739.2" cy="2001.0" r="2.1"/>
<circle cx="742.4" cy="2001.0" r="2.1"/>
<circle cx="728.4" cy="2001.0" r="2.1"/>
<circle cx="709.0" cy="2001.3" r="2.1"/>
<circle cx="717.5" cy="2000.7" r="2.1"/>
<circle cx="709.5" cy="2001.2" r="2.1"/>
<circle cx="717.1" cy="2001.0" r="2.1"/>
<circle cx="709.3" cy="2000.8" r="2.1"/>
<circle cx="708.0" cy="2001.1" r="2.1"/>
<circle cx="706.8" cy="2000.7" r="2.1"/>
<circle cx="723.2" cy="2000.8" r="2.1"/>
<circle cx="721.1" cy="2001.2" r="2.1"/>
<circle cx="708.5" cy="2001.0" r="2.1"/>
<circle cx="708.8" cy="2000.8" r="2.1"/>
<circle cx="724.3" cy="2000.9" r="2.1"/>
<circle cx="742.8" cy="2001.2" r="2.1"/>
<circle cx="714.7" cy="2001.1" r="2.1"/>
<circle cx="724.8" cy="2000.8" r="2.1"/>
<circle cx="729.7" cy="2001.0" r="2.1"/>
<circle cx="717.8" cy="2001.1" r="2.1"/>
<circle cx="737.5" cy="2000.8" r="2.1"/>
<circle cx="717.5" cy="2000.8" r="2.1"/>
<circle cx="723.5" cy="2001.1" r="2.1"/>
<circle cx="732.7" cy="2000.8" r="2.1"/>
<circle cx="710.6" cy="2001.0" r="2.1"/>
<circle cx="717.6" cy="2000.7" r="2.1"/>
<circle cx="730.0" cy="2001.1" r="2.1"/>
<circle cx="721.4" cy="2000.8" r="2.1"/>
<circle cx="737.7" cy="2001.3" r="2.1"/>
<circle cx="726.2" cy="2000.9" r="2.1"/>
<circle cx="714.3" cy="2001.0" r="2.1"/>
<circle cx="742.4" cy="2000.8" r="2.1"/>
<circle cx="740.6" cy="2000.9" r="2.1"/>
<circle cx="827.8" cy="1759.2" r="2.1"/>
<circle cx="817.0" cy="1841.3" r="2.1"/>
<circle cx="810.9" cy="1799.1" r="2.1"/>
<circle cx="812.0" cy="1731.0" r="2.1"/>
<circle cx="822.1" cy="1773.7" r="2.1"/>
<circle cx="806.6" cy="1885.5" r="2.1"/>
<circle cx="817.7" cy="1818.5" r="2.1"/>
<circle cx="800.2" cy="1806.7" r="2.1"/>
<circle cx="814.2" cy="1748.2" r="2.1"/>
<circle cx="795.3" cy="1783.5" r="2.1"/>
<circle cx="803.5" cy="1834.7" r="2.1"/>
<circle cx="803.4" cy="1802.3" r="2.1"/>
<circle cx="815.0" cy="1806.2" r="2.1"/>
<circle cx="800.8" cy="1767.8" r="2.1"/>
<circle cx="810.4" cy="1858.3" r="2.1"/>
<circle cx="813.6" cy="1868.7" r="2.1"/>
<circle cx="811.1" cy="1889.2" r="2.1"/>
<circle cx="821.7" cy="1862.1" r="2.1"/>
<circle cx="807.3" cy="1881.8" r="2.1"/>
<circle cx="821.2" cy="1849.4" r="2.1"/>
<circle cx="803.7" cy="1880.1" r="2.1"/>
<circle cx="807.5" cy="1790.5" r="2.1"/>
<circle cx="809.5" cy="1856.2" r="2.1"/>
<circle cx="809.5" cy="1897.6" r="2.1"/>
<circle cx="792.7" cy="1764.4" r="2.1"/>
<circle cx="818.7" cy="1767.9" r="2.1"/>
<circle cx="810.0" cy="1916.4" r="2.1"/>
<circle cx="818.1" cy="1803.1" r="2.1"/>
<circle cx="814.5" cy="1826.1" r="2.1"/>
<circle cx="816.3" cy="1735.2" r="2.1"/>
<circle cx="820.9" cy="1836.2" r="2.1"/>
<circle cx="811.6" cy="1886.8" r="2.1"/>
<circle cx="798.6" cy="1852.7" r="2.1"/>
<circle cx="794.1" cy="1775.4" r="2.1"/>
<circle cx="792.4" cy="1897.7" r="2.1"/>
<circle cx="818.9" cy="1801.3" r="2.1"/>
<circle cx="809.8" cy="1762.9" r="2.1"/>
<circle cx="802.8" cy="1854.0" r="2.1"/>
<circle cx="825.7" cy="1778.9" r="2.1"/>
<circle cx="818.4" cy="1865.9" r="2.1"/>
<circle cx="818.2" cy="1934.6" r="2.1"/>
<circle cx="828.7" cy="1720.3" r="2.1"/>
<circle cx="807.3" cy="1655.3" r="2.1"/>
<circle cx="884.5" cy="2000.9" r="2.1"/>
<circle cx="853.4" cy="2000.7" r="2.1"/>
<circle cx="853.4" cy="2000.9" r="2.1"/>
<circle cx="876.8" cy="2000.7" r="2.1"/>
<circle cx="867.0" cy="2001.1" r="2.1"/>
<circle cx="854.7" cy="2001.0" r="2.1"/>
<circle cx="863.2" cy="2000.9" r="2.1"/>
<circle cx="850.0" cy="2001.2" r="2.1"/>
<circle cx="859.5" cy="2001.1" r="2.1"/>
<circle cx="884.7" cy="2000.7" r="2.1"/>
<circle cx="880.2" cy="2001.0" r="2.1"/>
<circle cx="877.2" cy="2000.7" r="2.1"/>
<circle cx="865.0" cy="2000.8" r="2.1"/>
<circle cx="863.3" cy="2001.1" r="2.1"/>
<circle cx="871.2" cy="2000.8" r="2.1"/>
<circle cx="853.2" cy="2001.3" r="2.1"/>
<circle cx="880.7" cy="2000.9" r="2.1"/>
<circle cx="862.1" cy="2001.2" r="2.1"/>
<circle cx="850.6" cy="2000.7" r="2.1"/>
<circle cx="885.6" cy="2001.0" r="2.1"/>
<circle cx="874.8" cy="2001.0" r="2.1"/>
<circle cx="881.4" cy="2001.0" r="2.1"/>
<circle cx="858.1" cy="2001.1" r="2.1"/>
<circle cx="852.9" cy="2000.8" r="2.1"/>
<circle cx="853.9" cy="2001.0" r="2.1"/>
<circle cx="863.8" cy="2000.9" r="2.1"/>
<circle cx="879.5" cy="2000.8" r="2.1"/>
<circle cx="855.3" cy="2001.2" r="2.1"/>
<circle cx="872.9" cy="2001.3" r="2.1"/>
<circle cx="854.1" cy="2000.9" r="2.1"/>
<circle cx="862.3" cy="1980.2" r="2.1"/>
<circle cx="870.2" cy="1988.1" r="2.1"/>
<circle cx="950.3" cy="1829.6" r="2.1"/>
<circle cx="937.3" cy="1880.3" r="2.1"/>
<circle cx="952.9" cy="1968.0" r="2.1"/>
<circle cx="947.4" cy="1901.8" r="2.1"/>
<circle cx="943.7" cy="1885.0" r="2.1"/>
<circle cx="960.0" cy="1940.0" r="2.1"/>
<circle cx="967.0" cy="1897.9" r="2.1"/>
<circle cx="947.5" cy="1881.8" r="2.1"/>
<circle cx="939.8" cy="1879.6" r="2.1"/>
<circle cx="964.5" cy="1820.8" r="2.1"/>
<circle cx="936.3" cy="1891.6" r="2.1"/>
<circle cx="955.6" cy="1993.0" r="2.1"/>
<circle cx="935.0" cy="1802.5" r="2.1"/>
<circle cx="935.4" cy="1946.2" r="2.1"/>
<circle cx="962.5" cy="1909.0" r="2.1"/>
<circle cx="966.9" cy="1881.0" r="2.1"/>
<circle cx="958.1" cy="1871.5" r="2.1"/>
<circle cx="947.9" cy="1933.6" r="2.1"/>
<circle cx="938.1" cy="1987.8" r="2.1"/>
<circle cx="954.8" cy="1957.8" r="2.1"/>
<circle cx="958.2" cy="1888.1" r="2.1"/>
<circle cx="956.0" cy="1906.2" r="2.1"/>
<circle cx="965.2" cy="1852.6" r="2.1"/>
<circle cx="946.0" cy="1873.6" r="2.1"/>
<circle cx="953.7" cy="1949.8" r="2.1"/>
<circle cx="969.3" cy="1989.3" r="2.1"/>
<circle cx="941.4" cy="1872.6" r="2.1"/>
<circle cx="939.2" cy="1938.6" r="2.1"/>
<circle cx="938.8" cy="1900.6" r="2.1"/>
<circle cx="970.7" cy="1892.0" r="2.1"/>
<circle cx="956.3" cy="1857.4" r="2.1"/>
<circle cx="945.4" cy="1977.2" r="2.1"/>
<circle cx="970.9" cy="1894.5" r="2.1"/>
<circle cx="968.2" cy="1901.7" r="2.1"/>
<circle cx="964.0" cy="1995.8" r="2.1"/>
<circle cx="938.0" cy="1854.2" r="2.1"/>
<circle cx="939.5" cy="1928.4" r="2.1"/>
<circle cx="936.9" cy="1822.5" r="2.1"/>
<circle cx="945.8" cy="1872.3" r="2.1"/>
<circle cx="947.2" cy="1883.3" r="2.1"/>
<circle cx="952.8" cy="1872.3" r="2.1"/>
<circle cx="962.5" cy="1882.7" r="2.1"/>
<circle cx="934.6" cy="1940.8" r="2.1"/>
<circle cx="943.9" cy="1940.1" r="2.1"/>
<circle cx="959.9" cy="1933.2" r="2.1"/>
<circle cx="942.7" cy="1835.8" r="2.1"/>
<circle cx="961.7" cy="1906.3" r="2.1"/>
<circle cx="938.1" cy="1879.1" r="2.1"/>
<circle cx="961.1" cy="1925.9" r="2.1"/>
<circle cx="957.5" cy="1899.3" r="2.1"/>
<circle cx="954.2" cy="1857.2" r="2.1"/>
<circle cx="965.3" cy="1879.0" r="2.1"/>
<circle cx="953.2" cy="1859.6" r="2.1"/>
<circle cx="935.1" cy="1936.3" r="2.1"/>
<circle cx="971.2" cy="1823.6" r="2.1"/>
<circle cx="950.2" cy="1841.6" r="2.1"/>
<circle cx="954.0" cy="1920.6" r="2.1"/>
<circle cx="959.0" cy="1893.6" r="2.1"/>
<circle cx="968.9" cy="1876.1" r="2.1"/>
<circle cx="946.4" cy="1949.5" r="2.1"/>
<circle cx="963.0" cy="1871.5" r="2.1"/>
<circle cx="958.4" cy="1887.5" r="2.1"/>
<circle cx="960.0" cy="1888.6" r="2.1"/>
<circle cx="936.8" cy="1855.9" r="2.1"/>
<circle cx="943.7" cy="1906.4" r="2.1"/>
<circle cx="946.5" cy="1824.3" r="2.1"/>
<circle cx="936.4" cy="1949.2" r="2.1"/>
<circle cx="963.5" cy="1960.0" r="2.1"/>
<circle cx="952.4" cy="1886.6" r="2.1"/>
<circle cx="947.1" cy="1877.2" r="2.1"/>
<circle cx="971.0" cy="1986.6" r="2.1"/>
<circle cx="955.2" cy="1983.1" r="2.1"/>
<circle cx="939.7" cy="1936.0" r="2.1"/>
<circle cx="944.4" cy="1991.7" r="2.1"/>
<circle cx="957.1" cy="1875.1" r="2.1"/>
<circle cx="970.4" cy="1877.7" r="2.1"/>
<circle cx="969.1" cy="1866.5" r="2.1"/>
<circle cx="954.3" cy="1861.5" r="2.1"/>
<circle cx="963.4" cy="1980.1" r="2.1"/>
<circle cx="947.0" cy="1865.7" r="2.1"/>
<circle cx="958.2" cy="1914.0" r="2.1"/>
<circle cx="960.0" cy="1927.4" r="2.1"/>
<circle cx="945.7" cy="1978.6" r="2.1"/>
<circle cx="961.6" cy="2000.5" r="2.1"/>
<circle cx="942.6" cy="1908.5" r="2.1"/>
<circle cx="942.4" cy="1983.9" r="2.1"/>
<circle cx="967.2" cy="1935.0" r="2.1"/>
<circle cx="943.7" cy="1880.8" r="2.1"/>
<circle cx="963.1" cy="1924.7" r="2.1"/>
<circle cx="968.8" cy="1965.1" r="2.1"/>
<circle cx="969.9" cy="1891.7" r="2.1"/>
<circle cx="942.7" cy="1808.3" r="2.1"/>
<circle cx="940.5" cy="1875.6" r="2.1"/>
<circle cx="970.4" cy="1998.9" r="2.1"/>
<circle cx="945.0" cy="1875.7" r="2.1"/>
<circle cx="940.1" cy="1940.0" r="2.1"/>
<circle cx="937.0" cy="1881.1" r="2.1"/>
<circle cx="938.7" cy="1900.2" r="2.1"/>
<circle cx="937.4" cy="1873.9" r="2.1"/>
<circle cx="952.4" cy="1890.4" r="2.1"/>
<circle cx="950.3" cy="1785.7" r="2.1"/>
<circle cx="1022.0" cy="1887.3" r="2.1"/>
<circle cx="994.8" cy="1933.5" r="2.1"/>
<circle cx="1010.2" cy="1983.2" r="2.1"/>
<circle cx="1021.4" cy="1858.7" r="2.1"/>
<circle cx="996.4" cy="1925.3" r="2.1"/>
<circle cx="1022.5" cy="1894.6" r="2.1"/>
<circle cx="1018.0" cy="1947.8" r="2.1"/>
<circle cx="1027.1" cy="1876.3" r="2.1"/>
<circle cx="1000.9" cy="1935.0" r="2.1"/>
<circle cx="1002.7" cy="1871.7" r="2.1"/>
<circle cx="1023.0" cy="1933.4" r="2.1"/>
<circle cx="1018.1" cy="1938.4" r="2.1"/>
<circle cx="1027.6" cy="1950.2" r="2.1"/>
<circle cx="1013.5" cy="1973.1" r="2.1"/>
<circle cx="1026.1" cy="1881.9" r="2.1"/>
<circle cx="992.6" cy="1907.7" r="2.1"/>
<circle cx="1003.5" cy="1858.9" r="2.1"/>
<circle cx="1002.4" cy="1919.5" r="2.1"/>
<circle cx="994.0" cy="1863.3" r="2.1"/>
<circle cx="1023.0" cy="1917.3" r="2.1"/>
<circle cx="993.9" cy="1901.4" r="2.1"/>
<circle cx="1003.1" cy="1937.9" r="2.1"/>
<circle cx="1016.7" cy="1851.4" r="2.1"/>
<circle cx="1022.9" cy="1920.1" r="2.1"/>
<circle cx="1006.0" cy="1875.1" r="2.1"/>
<circle cx="994.9" cy="1974.9" r="2.1"/>
<circle cx="1008.3" cy="1889.6" r="2.1"/>
<circle cx="1024.2" cy="1875.1" r="2.1"/>
<circle cx="1001.4" cy="1906.4" r="2.1"/>
<circle cx="1018.7" cy="1874.3" r="2.1"/>
<circle cx="1002.9" cy="1897.7" r="2.1"/>
<circle cx="1000.7" cy="1912.0" r="2.1"/>
<circle cx="1014.7" cy="1946.8" r="2.1"/>
<circle cx="999.2" cy="1852.4" r="2.1"/>
<circle cx="999.4" cy="1838.7" r="2.1"/>
<circle cx="995.5" cy="1975.0" r="2.1"/>
<circle cx="995.7" cy="1957.0" r="2.1"/>
<circle cx="994.4" cy="1820.9" r="2.1"/>
<circle cx="1005.1" cy="1861.0" r="2.1"/>
<circle cx="1026.3" cy="1925.9" r="2.1"/>
<circle cx="1017.3" cy="1840.1" r="2.1"/>
<circle cx="1020.5" cy="1994.7" r="2.1"/>
<circle cx="1009.9" cy="1971.1" r="2.1"/>
<circle cx="1012.9" cy="1995.9" r="2.1"/>
<circle cx="1005.5" cy="1930.9" r="2.1"/>
<circle cx="997.9" cy="1892.9" r="2.1"/>
<circle cx="1027.1" cy="1880.4" r="2.1"/>
<circle cx="1020.1" cy="1908.6" r="2.1"/>
<circle cx="1023.9" cy="1923.6" r="2.1"/>
<circle cx="994.5" cy="1913.6" r="2.1"/>
<circle cx="1020.8" cy="1927.1" r="2.1"/>
<circle cx="1010.4" cy="1953.5" r="2.1"/>
<circle cx="994.9" cy="1828.2" r="2.1"/>
<circle cx="1012.7" cy="1897.0" r="2.1"/>
<circle cx="1010.1" cy="1915.8" r="2.1"/>
<circle cx="992.7" cy="1935.0" r="2.1"/>
<circle cx="994.8" cy="1965.9" r="2.1"/>
<circle cx="1018.6" cy="1895.7" r="2.1"/>
<circle cx="1024.3" cy="1924.9" r="2.1"/>
<circle cx="1020.5" cy="1851.4" r="2.1"/>
<circle cx="996.4" cy="1882.0" r="2.1"/>
<circle cx="1007.2" cy="1913.8" r="2.1"/>
<circle cx="1011.6" cy="1933.6" r="2.1"/>
<circle cx="1015.9" cy="1952.7" r="2.1"/>
<circle cx="1002.6" cy="1938.8" r="2.1"/>
<circle cx="1002.8" cy="1928.3" r="2.1"/>
<circle cx="1012.7" cy="1931.5" r="2.1"/>
<circle cx="1024.9" cy="1853.9" r="2.1"/>
<circle cx="992.2" cy="1876.5" r="2.1"/>
<circle cx="1025.0" cy="1937.1" r="2.1"/>
<circle cx="1015.3" cy="1957.9" r="2.1"/>
<circle cx="998.8" cy="1936.6" r="2.1"/>
<circle cx="991.3" cy="1930.1" r="2.1"/>
<circle cx="1008.9" cy="1842.9" r="2.1"/>
<circle cx="1006.0" cy="1849.7" r="2.1"/>
<circle cx="1007.9" cy="1902.1" r="2.1"/>
<circle cx="1017.0" cy="1931.7" r="2.1"/>
<circle cx="1027.2" cy="1915.4" r="2.1"/>
<circle cx="1011.7" cy="1869.4" r="2.1"/>
<circle cx="1014.6" cy="1908.2" r="2.1"/>
<circle cx="1010.9" cy="1936.5" r="2.1"/>
<circle cx="1005.0" cy="1864.3" r="2.1"/>
<circle cx="1004.3" cy="1989.1" r="2.1"/>
<circle cx="1001.6" cy="1882.8" r="2.1"/>
<circle cx="997.0" cy="1926.8" r="2.1"/>
<circle cx="1006.4" cy="1986.6" r="2.1"/>
<circle cx="1008.7" cy="1906.0" r="2.1"/>
<circle cx="1000.5" cy="1910.8" r="2.1"/>
<circle cx="1014.1" cy="1994.8" r="2.1"/>
<circle cx="1008.5" cy="1988.7" r="2.1"/>
<circle cx="1017.9" cy="1943.9" r="2.1"/>
<circle cx="994.7" cy="1912.7" r="2.1"/>
<circle cx="1018.6" cy="1893.7" r="2.1"/>
<circle cx="997.7" cy="1909.9" r="2.1"/>
<circle cx="1008.8" cy="1955.0" r="2.1"/>
<circle cx="1001.7" cy="1871.4" r="2.1"/>
<circle cx="1018.9" cy="1968.5" r="2.1"/>
<circle cx="996.5" cy="1834.0" r="2.1"/>
<circle cx="1006.8" cy="1875.6" r="2.1"/>
<circle cx="991.7" cy="1980.0" r="2.1"/>
<circle cx="997.2" cy="1808.7" r="2.1"/>
</g></g>
<path d="M192.60,2001.30H198.10M192.60,1945.90H198.10M192.60,1890.50H198.10M192.60,1835.10H198.10M192.60,1779.70H198.10M192.60,1724.30H198.10M192.60,1668.90H198.10M192.60,1613.50H198.10M192.60,1558.10H198.10M192.60,1502.70H198.10M192.60,1447.30H198.10M269.30,2001.30V2006.80M411.70,2001.30V2006.80M554.10,2001.30V2006.80M696.50,2001.30V2006.80M838.90,2001.30V2006.80M981.30,2001.30V2006.80" stroke="#000" stroke-width="1.6" fill="none"/>
<rect x="198.10" y="1447.30" width="854.40" height="554.00" fill="none" stroke="#000" stroke-width="1.6"/>
<rect x="571.60" y="1464.80" width="462.30" height="114.60" rx="5" ry="5" fill="#fff" fill-opacity="0.8" stroke="#d4d4d4" stroke-width="1.6"/>
<rect x="584.50" y="1481.00" width="72.60" height="25.40" fill="#3274a1" stroke="#2a5a7e" stroke-width="1.2"/>
<rect x="584.50" y="1533.20" width="72.60" height="25.80" fill="#e1812c" stroke="#8a5020" stroke-width="1.2"/>
</g>
<g font-family="Liberation Sans, sans-serif" style="font-kerning:none;font-variant-ligatures:none">
<text transform="translate(0.33,34.40) scale(1.0080,1)" font-size="42.73" font-weight="bold" fill="#000" stroke="#000" stroke-width="0.99" stroke-linejoin="round">A</text>
<text transform="translate(2.09,726.90) scale(0.9608,1)" font-size="42.15" font-weight="bold" fill="#000" stroke="#000" stroke-width="1.04" stroke-linejoin="round">B</text>
<text transform="translate(0.77,1430.10) scale(1.0155,1)" font-size="41.57" font-weight="bold" fill="#000" stroke="#000" stroke-width="0.98" stroke-linejoin="round">C</text>
<text transform="translate(188.48,34.00) scale(0.9992,1)" font-size="42.15" font-weight="bold" fill="#000" stroke="#000" stroke-width="1.00" stroke-linejoin="round">Pancreatic</text>
<text transform="translate(414.55,34.00) scale(0.9680,1)" font-size="42.15" font-weight="bold" fill="#000" stroke="#000" stroke-width="1.03" stroke-linejoin="round">islet</text>
<text transform="translate(510.71,34.00) scale(0.9668,1)" font-size="42.15" font-weight="bold" fill="#000" stroke="#000" stroke-width="1.03" stroke-linejoin="round">cellular</text>
<text transform="translate(666.68,34.00) scale(0.9862,1)" font-size="42.15" font-weight="bold" fill="#000" stroke="#000" stroke-width="1.01" stroke-linejoin="round">composition</text>
<text transform="translate(926.08,34.00) scale(0.9635,1)" font-size="42.15" font-weight="bold" fill="#000" stroke="#000" stroke-width="1.04" stroke-linejoin="round">(450K)</text>
<text transform="translate(218.73,726.90) scale(0.9921,1)" font-size="42.15" font-weight="bold" fill="#000" stroke="#000" stroke-width="1.01" stroke-linejoin="round">TCGA</text>
<text transform="translate(346.24,726.90) scale(0.9712,1)" font-size="42.15" font-weight="bold" fill="#000" stroke="#000" stroke-width="1.03" stroke-linejoin="round">lung</text>
<text transform="translate(444.78,726.90) scale(0.9860,1)" font-size="42.15" font-weight="bold" fill="#000" stroke="#000" stroke-width="1.01" stroke-linejoin="round">cellular</text>
<text transform="translate(602.56,726.90) scale(0.9947,1)" font-size="42.15" font-weight="bold" fill="#000" stroke="#000" stroke-width="1.01" stroke-linejoin="round">composition</text>
<text transform="translate(862.28,726.90) scale(0.9635,1)" font-size="42.15" font-weight="bold" fill="#000" stroke="#000" stroke-width="1.04" stroke-linejoin="round">(450K)</text>
<text transform="translate(210.43,1430.30) scale(0.9862,1)" font-size="42.15" font-weight="bold" fill="#000" stroke="#000" stroke-width="1.01" stroke-linejoin="round">TCGA</text>
<text transform="translate(339.56,1430.30) scale(0.9868,1)" font-size="42.15" font-weight="bold" fill="#000" stroke="#000" stroke-width="1.01" stroke-linejoin="round">breast</text>
<text transform="translate(478.39,1430.30) scale(0.9750,1)" font-size="42.15" font-weight="bold" fill="#000" stroke="#000" stroke-width="1.03" stroke-linejoin="round">cellular</text>
<text transform="translate(634.57,1430.30) scale(0.9906,1)" font-size="42.15" font-weight="bold" fill="#000" stroke="#000" stroke-width="1.01" stroke-linejoin="round">composition</text>
<text transform="translate(893.67,1430.30) scale(0.9659,1)" font-size="42.15" font-weight="bold" fill="#000" stroke="#000" stroke-width="1.04" stroke-linejoin="round">(450K)</text>
<text transform="translate(66.30,514.79) rotate(-90) scale(0.9926,1)" font-size="42.01" font-weight="bold" stroke="#000" stroke-width="1.00" stroke-linejoin="round">Relative</text>
<text transform="translate(66.30,343.74) rotate(-90) scale(0.9882,1)" font-size="42.01" font-weight="bold" stroke="#000" stroke-width="1.00" stroke-linejoin="round">proportion</text>
<text transform="translate(66.30,1197.99) rotate(-90) scale(0.9926,1)" font-size="42.01" font-weight="bold" stroke="#000" stroke-width="1.00" stroke-linejoin="round">Relative</text>
<text transform="translate(66.30,1026.95) rotate(-90) scale(0.9916,1)" font-size="42.01" font-weight="bold" stroke="#000" stroke-width="1.00" stroke-linejoin="round">proportion</text>
<text transform="translate(66.30,1879.99) rotate(-90) scale(0.9926,1)" font-size="42.01" font-weight="bold" stroke="#000" stroke-width="1.00" stroke-linejoin="round">Relative</text>
<text transform="translate(66.30,1708.95) rotate(-90) scale(0.9931,1)" font-size="42.01" font-weight="bold" stroke="#000" stroke-width="1.00" stroke-linejoin="round">proportion</text>
<text transform="translate(130.90,619.07) scale(1.0061,1)" font-size="37.72" fill="#000">0%</text>
<text transform="translate(108.41,508.11) scale(1.0247,1)" font-size="37.72" fill="#000">10%</text>
<text transform="translate(108.10,397.15) scale(1.0288,1)" font-size="37.72" fill="#000">20%</text>
<text transform="translate(108.69,286.19) scale(1.0209,1)" font-size="37.72" fill="#000">30%</text>
<text transform="translate(108.30,175.23) scale(1.0262,1)" font-size="37.72" fill="#000">40%</text>
<text transform="translate(108.65,64.27) scale(1.0214,1)" font-size="37.72" fill="#000">50%</text>
<text transform="translate(120.20,1289.57) scale(1.0061,1)" font-size="37.72" fill="#000">0%</text>
<text transform="translate(97.71,1218.87) scale(1.0247,1)" font-size="37.72" fill="#000">10%</text>
<text transform="translate(97.40,1148.17) scale(1.0288,1)" font-size="37.72" fill="#000">20%</text>
<text transform="translate(97.99,1077.47) scale(1.0209,1)" font-size="37.72" fill="#000">30%</text>
<text transform="translate(97.60,1006.77) scale(1.0262,1)" font-size="37.72" fill="#000">40%</text>
<text transform="translate(97.95,936.07) scale(1.0214,1)" font-size="37.72" fill="#000">50%</text>
<text transform="translate(97.26,865.37) scale(1.0308,1)" font-size="37.72" fill="#000">60%</text>
<text transform="translate(97.68,794.67) scale(1.0250,1)" font-size="37.72" fill="#000">70%</text>
<text transform="translate(131.00,2015.37) scale(1.0061,1)" font-size="37.72" fill="#000">0%</text>
<text transform="translate(108.51,1959.97) scale(1.0247,1)" font-size="37.72" fill="#000">10%</text>
<text transform="translate(108.20,1904.57) scale(1.0288,1)" font-size="37.72" fill="#000">20%</text>
<text transform="translate(108.79,1849.17) scale(1.0209,1)" font-size="37.72" fill="#000">30%</text>
<text transform="translate(108.40,1793.77) scale(1.0262,1)" font-size="37.72" fill="#000">40%</text>
<text transform="translate(108.75,1738.37) scale(1.0214,1)" font-size="37.72" fill="#000">50%</text>
<text transform="translate(108.06,1682.97) scale(1.0308,1)" font-size="37.72" fill="#000">60%</text>
<text transform="translate(108.48,1627.57) scale(1.0250,1)" font-size="37.72" fill="#000">70%</text>
<text transform="translate(108.28,1572.17) scale(1.0278,1)" font-size="37.72" fill="#000">80%</text>
<text transform="translate(107.97,1516.77) scale(1.0320,1)" font-size="37.72" fill="#000">90%</text>
<text transform="translate(85.89,1461.37) scale(1.0365,1)" font-size="37.72" fill="#000">100%</text>
<text transform="translate(220.42,643.60) scale(1.0135,1)" font-size="37.62" fill="#000">Alpha</text>
<text transform="translate(370.92,643.60) scale(1.0116,1)" font-size="37.62" fill="#000">Beta</text>
<text transform="translate(506.83,643.60) scale(1.0387,1)" font-size="37.62" fill="#000">Delta</text>
<text transform="translate(640.26,643.60) scale(1.0596,1)" font-size="37.62" fill="#000">Acinar</text>
<text transform="translate(796.11,643.60) scale(1.0670,1)" font-size="37.62" fill="#000">Duct</text>
<text transform="translate(902.80,643.60) scale(1.0532,1)" font-size="37.62" fill="#000">Endothel</text>
<text transform="translate(224.71,1313.70) scale(0.9617,1)" font-size="37.62" fill="#000">LUAD</text>
<text transform="translate(400.79,1313.70) scale(0.9015,1)" font-size="37.62" fill="#000">SCLC</text>
<text transform="translate(572.04,1313.70) scale(0.9150,1)" font-size="37.62" fill="#000">LUSC</text>
<text transform="translate(742.54,1313.70) scale(1.0529,1)" font-size="37.62" fill="#000">Norm</text>
<text transform="translate(915.10,1313.70) scale(1.0529,1)" font-size="37.62" fill="#000">Norm</text>
<text transform="translate(742.39,1352.40) scale(0.9617,1)" font-size="37.62" fill="#000">LUAD</text>
<text transform="translate(917.16,1352.40) scale(0.9150,1)" font-size="37.62" fill="#000">LUSC</text>
<text transform="translate(197.70,2040.40) scale(1.0594,1)" font-size="37.62" fill="#000">Normal-</text>
<text transform="translate(356.65,2040.40) scale(1.0191,1)" font-size="37.62" fill="#000">Basal-</text>
<text transform="translate(502.26,2040.40) scale(1.0238,1)" font-size="37.62" fill="#000">LumA</text>
<text transform="translate(645.74,2040.40) scale(1.0217,1)" font-size="37.62" fill="#000">LumB</text>
<text transform="translate(796.39,2040.40) scale(1.0277,1)" font-size="37.62" fill="#000">Her2</text>
<text transform="translate(911.48,2040.40) scale(1.0696,1)" font-size="37.62" fill="#000">Healthy</text>
<text transform="translate(238.09,2079.70) scale(1.0891,1)" font-size="37.62" fill="#000">like</text>
<text transform="translate(380.49,2079.70) scale(1.0891,1)" font-size="37.62" fill="#000">like</text>
<text transform="translate(647.79,803.50) scale(1.0571,1)" font-size="37.06" fill="#000">Lung Alveolar Epith.</text>
<text transform="translate(647.80,854.40) scale(1.0537,1)" font-size="37.06" fill="#000">Lung Bronchial Epith.</text>
<text transform="translate(684.71,1506.40) scale(1.0824,1)" font-size="37.06" fill="#000">Breast Luminal Ep.</text>
<text transform="translate(684.78,1559.00) scale(1.0599,1)" font-size="37.06" fill="#000">Breast Basal Ep.</text>
</g></svg></body></html>
